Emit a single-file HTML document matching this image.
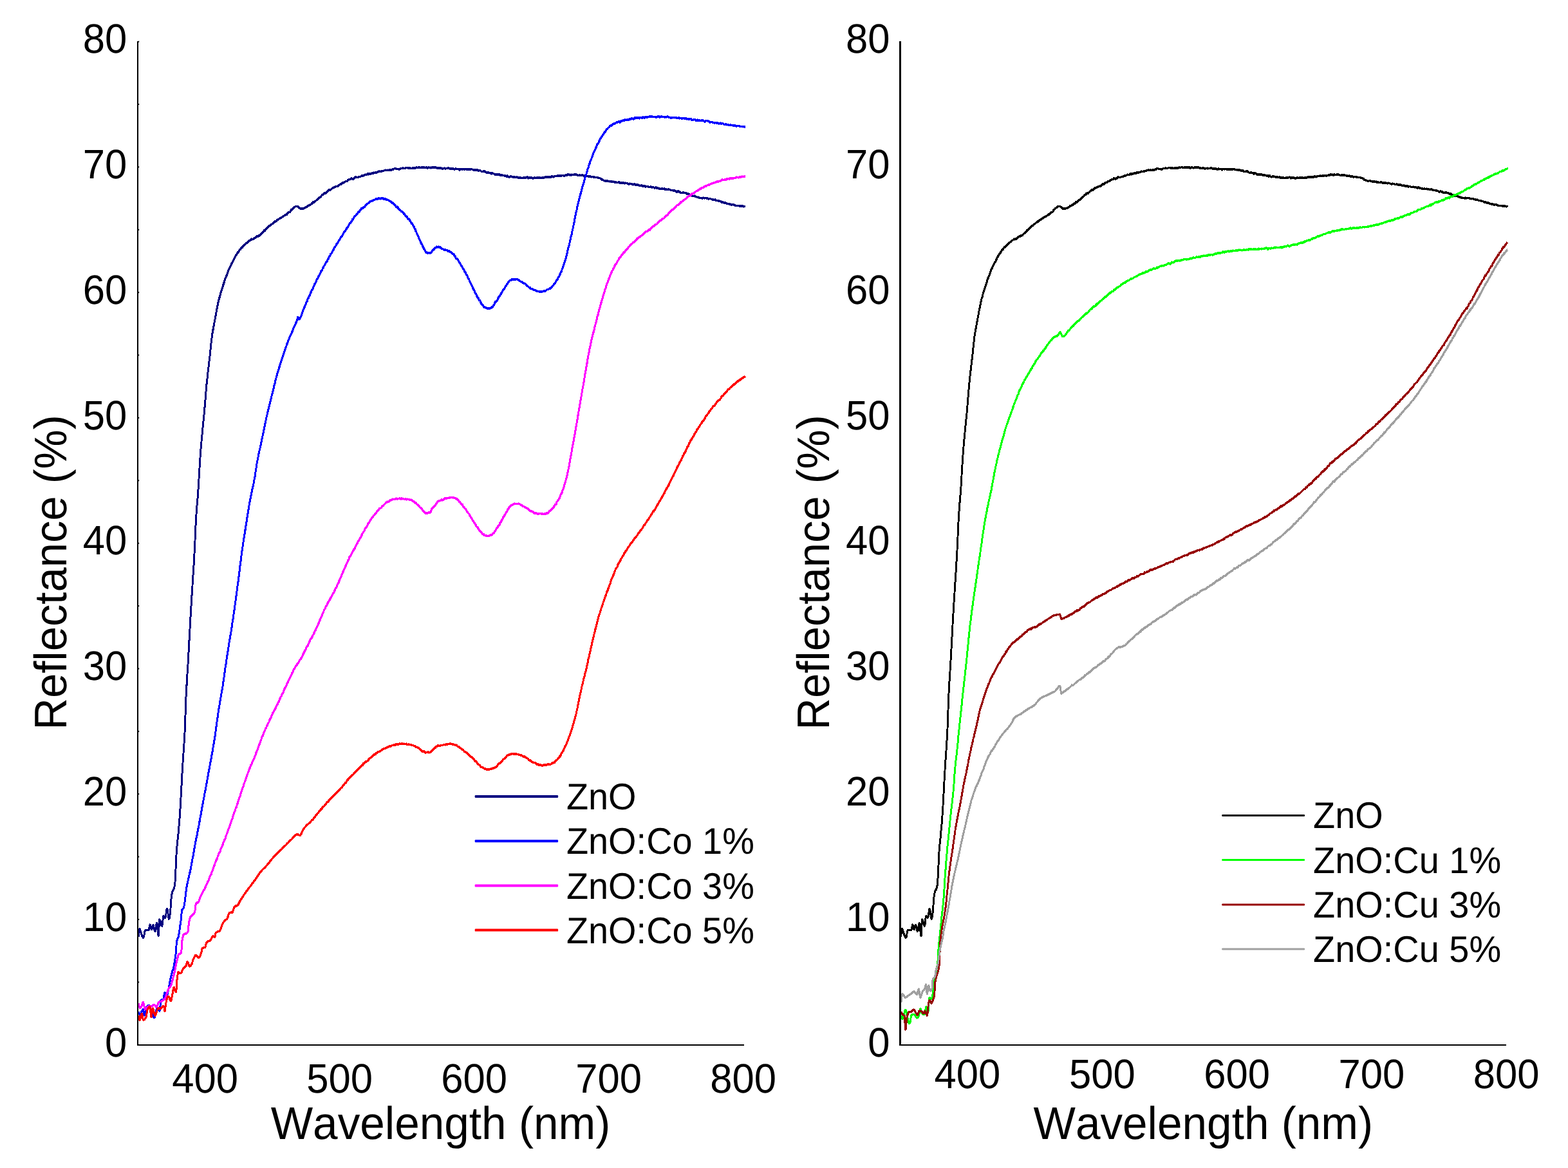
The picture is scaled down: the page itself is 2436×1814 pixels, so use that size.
<!DOCTYPE html>
<html lang="en"><head><meta charset="utf-8"><title>Reflectance spectra of ZnO:Co and ZnO:Cu</title>
<style>html,body{margin:0;padding:0;background:#fff}body{width:2436px;height:1814px;overflow:hidden}svg{display:block}text{font-family:"Liberation Sans",Arial,Helvetica,sans-serif;fill:#000;font-kerning:none;text-rendering:geometricPrecision}</style>
</head><body>
<svg xmlns="http://www.w3.org/2000/svg" width="2436" height="1814" viewBox="0 0 2436 1814">
<rect width="2436" height="1814" fill="#fff"/>
<defs>
<path id="zno" d="M215.0,1454.5l.1-1 .1-1.1 .1-1.1 .1-.7 .1-1.3 .1-.7 .1-1.1 .1-1 .2-1 .1-.7 .3-1.4 .4-.8 .6,.8 .3,1.1 .3,.8 .3,.9 .3,.9 .4,1 .3,1.1 .4,.8 .3,1.1 .3,1.1 .3,.8 .4,1 .4,.7 .5,.9 .7,.6 .6-.7 .3-.8 .2-1.1 .2-1 .2-1 .1-1.1 .2-.9 .2-.9 .2-1.1 .2-.9 .2-.7 .4-1 .8-.5 1-.1 1-.1 1,.4 1-.1 .8-.6 .3-.9 .2-.6 .2-1.2 .1-1 .2-1 .2-1.1 .2-1.1 .4-.9 .6,.8 .2,1.1 .2,1.1 .3,1 .2,.9 .2,1 .3,.7 .5,.8 .4-.8 .3-1.2 .2-.9 .2-1 .2-.8 .2-.9 .3-.8 .7-.7 .4,.7 .2,1.1 .3,1.1 .2,1.1 .2,.9 .2,.7 .2,1 .3,1.3 .3,.9 .4,.9 .5-.5 .3-1 .2-.9 .1-1 .2-1 .1-1 .2-1.1 .1-.9 .2-1 .1-.8 .2-.9 .2-1.2 .3-1 .5,.1 .2,1.1 .1,1.1 .1,.9 .1,1 .1,.9 .1,1.2 .1,.9 .1,1.1 .1,1 .1,1 .1,.8 .1,1 .1,1.2 .1,.8 .1,1 .1,1 .1,.9 .1,1.1 .2,1.1 .4-.1 .1-.9 .1-1.1 0-1 .1-1.1 0-.7 .1-1 0-1.1 0-1.1 .1-.7 0-.8 .1-1.5 0-.8 0-.8 .1-1.1 0-1.3 0-.8 .1-1 0-1.2 .1-1.1 0-.8 .1-.8 0-1.2 .1-.9 0-1.2 .3-.8 .6,.7 .3,.8 .3,1 .3,1.1 .3,1 .2,.9 .3,.9 .3,.9 .3,1.1 .4,.9 .6,.7 .3-1.1 .2-1.3 .1-.6 .2-.7 .1-1.1 .1-1.2 .1-1 .1-1 .1-1 .1-1.1 .1-1 .1-1 .1-.9 .2-1 .1-.9 .7-.5 .6,.9 .6,.8 .6,1 .8-.6 .2-1 .2-.7 .2-.7 .1-1.3 .2-1.1 .1-1 .1-.8 .2-1.1 .1-1 .1-1 .2-1.2 .2-.8 .2-.9 .4-.7 .4,.6 .2,.8 .2,1.1 .2,1.1 .1,.9 .2,1 .1,1.1 .1,1 .2,1.1 .1,1 .1,.9 .2,.6 .1,1.2 .2,1.1 .2,1 .3,1 .5-.4 .3-.9 .2-1.1 .2-.7 .1-1.3 .1-1.2 .2-1 .1-.9 .1-1 .1-.6 .1-1.1 .1-1.3 .1-.7 .1-1.1 .1-1.2 .1-.7 .1-.9 0-1.2 .1-.8 .1-1.1 0-.8 .1-1.1 0-.9 .1-1.1 0-1.3 .1-.6 0-1.2 .1-1.1 .1-1 .1-1 .1-.9 .1-1 .1-.9 .1-.8 .1-1.2 .1-1.3 .2-1 .1-.9 .2-1.1 .2-.7 .2-1 .3-1.1 .3-.9 .4-1.1 .4-.9 .4-.6 .5-.8 .4-1.1 .4-.7 .3-1.2 .2-1 .2-.9 .2-1.4 .2-.5 .1-.9 .1-1.3 .1-.6 .1-1 .1-1.1 0-1.2 .1-1 0-1.1 .1-.8 0-1 .1-1 .1-.9 0-1 .1-1.1 0-1 0-1.1 .1-.8 0-.9 .1-1 0-1.1 .1-1.2 0-1.1 .1-1.1 0-.6 .1-1.1 0-.8 .1-1.2 0-1.1 .1-.9 0-.9 .1-1 0-1.1 .1-1 0-1 .1-1.1 0-1 .1-.9 0-1 0-.9 .1-1.2 0-.9 .1-1 0-1 .1-.9 0-1.2 0-.9 .1-.7 0-1.4 .1-1.1 0-1 .1-.9 .1-.7 0-1.1 .1-1.2 .1-.8 0-1.1 .1-.8 .1-1 .1-.9 .1-1.3 .1-.5 .1-1.1 .1-1.2 .1-1.1 .1-1.2 .1-1.1 .1-.8 .1-1.1 .1-.8 .1-1.2 .1-.7 .1-.8 .2-1.3 .1-.8 .1-1.1 .1-.8 .1-1 .1-.9 .1-1.5 .1-1 .1-.5 .1-1.3 0-1.7 .1-1.1 .1-1.2 .1-.9 .1-.5 .1-.3 .1-1.3 .1-1 0-1 .1-1 .1-1 .1-1.1 .1-.8 .1-1.4 0-.5 .1-.7 .1-1.4 .1-.8 .1-1.4 0-1.1 .1-.8 .1-1 .1-1.1 0-1.2 .1-.9 .1-.5 0-1.8 .1-.6 .1-.9 0-.7 .1-.9 .1-2.3 0-.3 .1-.5 .1-1.2 0-1.2 .1-.6 .1-1.2 0-.4 .1-1.1 0-.6 .1-1.9 .1-1.8 0-.2 .1-.6 0-1.3 .1-1.7 0-.8 .1-.4 0-1.2 .1-1.1 .1-1 0-1.3 .1-1 0-1.2 .1,.1 0-1.4 .1-1 0-1.4 .1-.5 0-1.8 .1-.3 0-.9 .1-.4 0-1.9 .1-1.1 0-.6 .1-.6 .1-1.5 0-1.1 .1-1.8 0-.8 .1-.3 0-.6 .1-1.4 0-.3 .1-.7 0-1.8 .1-2.2 0-1.1 .1-.5 0-.2 .1-.9 0-2.1 .1-.7 .1,0 0-1.4 .1-1.5 0,0 .1-1.3 0-1.5 .1-.8 .1-1 0-1.2 .1-.4 0-.8 .1-1.1 0-1.4 .1-.7 .1-1.3 0-1 .1-.6 0-1 .1-.7 .1-1.3 0-2.1 .1-1.1 .1,0 0-1.2 .1-1 .1-1.4 0-.5 .1-1.2 .1-.5 0-1.5 .1-.6 .1-.9 0-1.7 .1-.5 .1-1.4 0-1.3 .1-.4 .1-1.3 0-1.2 .1-.9 .1-1.2 0-.3 .1-.9 .1-1.3 0-1.1 .1-.8 .1-.4 0-1.1 .1-1.7 .1-.7 0-1.2 .1-1.1 .1-.3 0-1.5 .1-1.4 .1-1.6 0-1 .1-.2 .1-1.1 0-.7 .1-1.5 0-1.1 .1-.4 .1-.4 0-1.2 .1-1 0-.7 .1-1.1 0-1.9 .1-1 0-.6 .1-1.3 0-.8 .1-1.6 0-1.1 .1-.3 0-1.9 0-1 .1-.4 0-1.5 0-.6 .1-1 0-.9 .1-.9 0-.9 0-1.2 .1-.9 0-1.1 0-.7 .1-.3 0-1.4 0-1.3 .1-1.5 0-.5 0-1.3 0-1.2 .1-.5 0-.9 0-.7 .1-.7 0-1.8 0-1 .1-.3 0-1 0-1.2 .1-.9 0-1.6 0-.8 .1-.5 0-.8 0-1.9 .1-1.2 0-.7 0-1.1 .1-1.2 0-.6 .1-1.2 0-1.7 0-.4 .1-1 0-1.2 .1-1.4 0-.1 0-1.9 .1-1.3 0-.4 .1-.1 0-.8 .1-1.9 0-1 .1-1.4 0-.2 .1-1.6 0-.9 .1-.3 0-1.3 .1-.5 0-1.6 .1-1 0-.6 .1-1.3 0-.5 .1-1.1 0-2 .1,.8 .1-1.3 0-1.8 .1-1.7 0-.6 .1-1 .1-.7 0-.9 .1-.5 0-1.4 .1-1.1 .1-1 0-1.2 .1-1.1 0-.5 .1-.9 .1-1.6 0-1.4 .1-.7 .1-.4 0-1.2 .1-.5 0-1.7 .1-1.1 .1-1.8 0-.7 .1-.6 .1-.6 0-.4 .1-1.5 0-.7 .1-1.1 .1-1 0-1.5 .1-.5 0-1.7 .1-.8 .1-1.3 0-1 .1-1.3 0-.8 .1-.5 0-1 .1-1.6 .1-.1 0-1 .1-.9 0-1 .1-1.6 0-1.7 .1-.8 0,0 .1-1.6 0-.6 .1-1.2 .1-.9 0-1.7 .1-.2 0-1 .1-.8 0-1.1 .1-.9 0-1.2 .1-.9 0-1.7 .1-1.2 0-.2 .1-1 0-1.2 .1-1 .1-.8 0-1.3 .1-.7 0-1.4 .1-1 0-.4 .1-.7 0-1.9 .1-.6 0-1.4 .1-.6 0-1.7 .1-1.1 .1-.7 0-.7 .1-.4 0-.9 .1-.8 0-1.1 .1-1.6 0-1.2 .1-.5 0-1.2 .1-1.2 0-1.5 .1-.7 .1-1.9 0-.5 .1-.8 0-.5 .1-1.1 0-1.2 .1-.3 0-1.7 .1-.8 .1-1.6 0-.6 .1-.6 0-.8 .1-1.6 0-.8 .1-.8 .1-1.1 0-1 .1-.9 0-.9 .1-1.6 .1-1.3 0,.4 .1-.6 0-2.4 .1-.8 0-.6 .1-.9 .1-1.3 0-1.5 .1-.9 .1-.9 0-.9 .1-1 0-1 .1-.6 .1-.7 0-1.9 .1-1.1 .1-1 0-.3 .1-1.1 0-.7 .1-1.5 .1-1.1 0-1.4 .1-.2 .1-1.2 0-1.7 .1-.9 .1-1.5 0-.4 .1-.6 .1-.9 0-.5 .1-1.5 0-.8 .1-1 .1-1.3 0-1.8 .1-.1 .1-1.1 0-1 .1-1.5 .1-.6 0-.8 .1-1 .1-1.1 0-.6 .1-.8 0-1.1 .1-.1 .1-2 0-1.6 .1-1.2 .1-.5 0-1.2 .1-2 .1-.7 0-.3 .1-.4 0-1.9 .1-1 .1-.7 0-1.1 .1-.6 .1-1 0-1 .1-1.3 0-.3 .1-1.3 .1-.7 0-1.5 .1-.9 0-1.3 .1-1.3 .1-.9 0-.7 .1-1 0-.3 .1-1.8 .1-1.4 0,.1 .1-1 0-2.1 .1-.5 0-.7 .1-2 0-.7 .1-.5 0-.7 .1-.8 0-1.3 .1-.8 0-1.3 .1-1.4 0-1.2 .1-.4 0-1.7 .1-.4 0-1.3 .1-1 0-.5 .1-.6 0-2.1 .1-1.1 0-.5 .1-1.1 0-.5 0-1.9 .1-.6 0-.5 .1-1.2 0-.6 .1-1.7 0-.5 0-1.3 .1-.8 0-1.2 .1-.7 0-.8 .1-1.9 0-.8 0-.8 .1-1 0-1.3 .1-.1 0-1.2 .1-.7 0-1.6 0-1.5 .1-.7 0-1 .1,0 0-1.3 .1-1 0-1.4 .1-1.3 0-.9 .1-.8 0-.7 .1-1.3 0-1.4 .1-1.2 .1-.7 0-.6 .1-.9 0-1.2 .1-1.3 .1-.8 0-.8 .1-1.1 .1-1.1 0-1 .1-.7 .1-1.3 0-1 .1-.8 .1-.8 .1-.7 0-1.2 .1-1.1 .1-1.8 .1-.6 .1,0 0-1.9 .1-1.6 .1-.7 .1-.4 .1-1 .1-1.4 0-1 .1-.5 .1-1 .1-.4 .1-1.2 .1-1.5 0-1 .1-1.3 .1-1.4 .1-.7 .1-.7 0-1.7 .1-.9 .1-.8 .1-.7 0-1.1 .1-.9 .1-1 .1-.7 0-1.9 .1-.1 .1-.5 0-1.6 .1-1 0-.9 .1-1.5 .1-.9 0-.6 .1-1.1 .1-.8 0-1.2 .1-1.2 0-1.3 .1-1 0-1 .1-.2 .1-1.2 0-1.7 .1-.6 0-1 .1-2.2 0-.1 .1-1.2 0-.6 .1-1.2 .1-1.4 0-.4 .1-1.4 0-.9 .1-.6 .1-.7 0-.9 .1-1.3 0-1.4 .1-.1 .1-1.5 0-.5 .1-1.5 0-.7 .1-.8 .1-1.8 0-.8 .1-.6 .1-1 0-1.3 .1-1 .1-1.2 0-1.4 .1-.3 .1-1.2 .1-.5 0-1 .1-1.7 .1-1 0-.9 .1-1.2 .1-.6 .1-1.2 .1-.3 0-.9 .1-1.8 .1-1 .1-.9 .1-1.6 0-.2 .1-.6 .1-1 .1-1.5 .1-.7 .1-1.2 .1-.8 0-.4 .1-1.5 .1-1.9 .1-.8 .1-.5 .1-.6 .1-1.8 .1-1 .1-.7 .1-.9 .1-.7 .1-1.7 .1-1.1 .1-.3 0-1 .1-1.1 .1-.7 .1-1.3 .1-1 .1-1.3 .1-1.5 .1-1.1 .1-.5 .1-.9 .1-1.2 .1-.7 .1-1.3 .1-.8 .1-.9 .1-1.3 .1-1.7 .1,.2 .1-.8 .1-2.3 .1-.6 .1-.4 .1-1.1 .1-.7 .1-1.5 .1-.8 .1-.9 .1-1.1 .1-1 .1-.9 .1-.6 .1-1.4 .1-1.2 .1-.8 .1-1 .1-.8 .1-.8 0-.7 .1-1.5 .1-2.1 .1-.5 .1-.4 .1-1.2 0-1 .1-1.9 .1-.2 .1-.9 .1-1.6 0-.9 .1-.9 .1-.4 .1-.8 0-.6 .1-1.2 .1-1.9 .1-1.4 .1,0 0-.4 .1-1.6 .1-1 .1-1.7 0-1.5 .1-.8 .1-.5 .1-.9 .1-.9 0-1.1 .1-.6 .1-.5 .1-1.4 .1-.5 .1-1.7 .1-1.4 .1-.6 0-1.1 .1-.5 .1-1.5 .1-.5 .1-1.1 .1-.3 .1-1.8 .1-1.4 .1-.8 .1-1.8 .2-.3 .1-.6 .1-1.1 .1-1.7 .1-1.3 .1-.2 .1-.4 .1-.7 .1-1.9 .2-1.5 .1-.7 .1-1.5 .1-.8 .1-.2 .1-.4 .2-1.4 .1-.7 .1-1.2 .1-1.3 .1-1.2 .1-.9 .2-1.1 .1-1 .1-1.2 .1-.7 .1-1 .1-1.6 .2-.7 .1-1.1 .1-1.5 .1-.2 .1-.2 .1-.5 .1-1.2 .1-2 .1-.6 .2-.7 .1-2.2 .1-.4 .1-.6 .1-1.3 .1-1 .1-1 .1-.5 .1-1.5 .1-1.2 .1-.9 .1-.9 .1-1.7 .1-.1 .1-.9 .1-1.1 .1-1.1 .1-1.2 .1-1.1 .1-.9 .1-.8 .1-.6 .2-1.2 .1-1.3 .1-.2 .1-1.9 .1-1.6 .1-.3 .2-1 .1-1.7 .1-.6 .2-.9 .1-.4 .1-1.3 .2-.7 .1-.9 .2-1.3 .2-1 .1-.8 .2-2 .2-.4 .1-.8 .2-.3 .2-1.6 .2-.7 .2-2 .1-.3 .2-.7 .2-1.2 .2-1.1 .2-1 .2-.7 .2-1.1 .2-1.7 .1-.6 .2,.2 .2-1.4 .2-1.3 .2-1.2 .2-.9 .1-.8 .2-1.2 .2-.6 .2-1.5 .2-1 .1-.6 .2-1.1 .2-1.5 .2-.5 .2-1.2 .1-1.1 .2-1 .2-.8 .2-1 .2-1 .2-.6 .1-.3 .2-1.6 .2-1 .2-1.2 .2-1 .3-.5 .2-1.2 .2-1.5 .2-1 .2-1 .3-.7 .2-.5 .2-1.7 .3-1.2 .2-.9 .3-1.2 .2,0 .3-.9 .2-.5 .3-1.9 .3-.5 .2-1.2 .3-1.2 .3-1.2 .3-1 .3-1.1 .2-.4 .3-1.3 .3-.8 .3-.7 .3-.6 .3-1.1 .3-1 .3-.8 .3-1.1 .3-.9 .3-1.4 .3-1.1 .3,.1 .3-1.3 .3-1.5 .4-.3 .3-1.1 .3-1.4 .3-1.4 .3-.2 .4-1.3 .3-1 .3-.4 .4-.9 .3-1.2 .4-1 .3-.4 .4-.3 .3-1.8 .4-1 .3-.2 .4-1.1 .4-1.7 .3-1.1 .4-1 .4-1 .4-.9 .4-.5 .4-1.1 .4-.5 .4-1 .4-1.2 .4-.5 .4-.9 .4-1 .5-.7 .4-.9 .4-1.2 .5-.6 .4-1 .5,0 .4-1.1 .5-1.2 .4-.8 .5-1.3 .5-.6 .5-1.2 .5-1.4 .5-.9 .5-.4 .5-1.5 .5-.5 .5-.9 .5-.5 .6-1.1 .5-.1 .6-.8 .5-1.8 .6,0 .6-1 .6-1.3 .6-1 .6-.2 .7-.2 .6-1.4 .6-1.2 .7-.9 .7,.2 .7-.2 .6-1.4 .7-.7 .8-.8 .7-.8 .7-.3 .7-.7 .8-.8 .8-.9 .7-.3 .8-.9 .8-.6 .8-.5 .8-1.1 .8-.5 .8-.4 .8-.4 .9-.9 .9-.8 .8,.6 .9-.2 .9-.6 .9-.1 .9-.9 .9-.8 .9-.3 .9-1.2 .9-.6 .9,.4 .9-.4 .8-1.1 .9,0 .8-.1 .8-.7 .7-.9 .8-1.1 .7-.4 .7-.4 .7-1 .7-.4 .8-.7 .7-.7 .7-1.6 .7,.1 .7,.1 .7-1.4 .7-1.5 .7-.1 .7-.7 .8-1.1 .7,.1 .7-1.3 .7-.3 .8-1.1 .7,0 .8-.5 .7-1.1 .8-.6 .8-.4 .8-.4 .8-.6 .8-.7 .8-1 .8-.4 .8-1.1 .8,0 .9-.2 .8-.4 .8-1.3 .9-.6 .8-.1 .8-.7 .9-.9 .8-.4 .8-.5 .9-.2 .8-1 .9-.4 .9-.4 .8-.3 .9-.8 .8-.5 .9-.6 .8-.5 .9-.6 .8-.6 .8,.5 .8-1.4 .8-1.4 .8-.5 .7-.6 .8-.3 .7,0 .8-.3 .7-1.2 .8-1.8 .7-.1 .7-.8 .7-.7 .6-.8 .7-.4 .8-.8 .7-.5 .8-.5 .9-.7 .9-.3 1-.1 1,0 .9,.6 .8,.5 .7,.7 .8,.7 .8,.8 .8,.4 .9,.2 1,.1 1-.4 1,.2 1-.5 .9-.2 1-.5 .9-.3 .9-.5 .8-.4 .9-.8 .9-1.2 .8,.3 .9-.5 .8-.7 .9-.6 .8,.5 .8-1.1 .8-.7 .8-1 .8,.2 .8-.9 .8-1.8 .8,1.1 .8-1.2 .8-.3 .8-.4 .8-.8 .8-.9 .7-.7 .8-.1 .8-1.1 .7-.7 .8-.3 .8-.8 .7-1 .8,0 .7-.8 .8-1 .7-1 .8-.8 .8,0 .7-.3 .8-1.8 .8-.6 .7,.3 .8,.2 .8-.4 .9-1.1 .8-.6 .8-1.2 .9-.4 .8-1 .9-.6 .9-.1 .8,.4 .9-.7 .9-.9 .9-.8 .8-.9 .9,0 .9-.5 .9-.4 .9-.8 .9-.2 .9-.9 .8,0 .9,.2 .9-.5 .9-.1 .9-.9 .9-.7 .9-.5 .8-1 .9,.5 .9-.4 .9-1.2 .9-.9 .8,0 .9-.1 .9-.7 .9-.6 .9-.6 .9-.4 .9,.1 .9-.2 .9-1.5 .9-.2 .9-.7 1-.6 .9,.4 .9-.6 1-1.5 .9,.7 .9,.6 1,.1 .9-1.2 1,0 .9-1.5 1-.4 1,.6 .9,0 1,0 .9-.3 1-.7 1,.2 .9-.4 1,0 1-1 .9-.3 1-.3 1,.1 .9-.5 1-.4 1-.7 .9,.2 1,.3 1-.1 .9-1.8 1-.4 1,1.4 .9-.5 1-.6 1,.2 .9-.3 1-.8 1-.2 1,.7 .9-1.2 1,.3 1-.4 1-.5 .9,.7 1-.9 1,0 1-.4 1-.8 .9,.1 1,.5 1-.4 1-.2 1-.2 1-.2 .9-.4 1,0 1-.9 1,.1 1-.4 1,.4 1,.2 1-.6 1,.3 .9,0 1-.3 1-.4 1,.1 1,.2 1-.7 1-.5 1,.6 1-1.1 1-.8 1,.1 .9,.8 1,.2 1,0 1-.2 1,.4 1,.1 1-.2 1-1.1 1,.1 1-.3 1-.1 1-.2 1,.2 1,.3 1-.1 1-.7 1-.4 1,.2 1,.1 1,.5 1-.2 1-.2 1,0 1,.5 1,.3 1-.4 1-.5 1,.5 1-.1 1-.6 1,.4 1-.1 1-.8 1,.5 1,.2 1-.9 1-.5 1,.8 1,.5 1,.1 1-.8 1,0 1,.6 1-.7 1,.2 1,.3 1,.3 1-1.2 1,.5 1,1.1 1-.7 1-.3 1,.6 1-.4 1,.5 1,.1 1-.9 1,.4 1-.3 1,.7 1-.6 .9-.4 1,.3 1,.3 1,1 1-.1 1-.1 1,.5 1-.5 1-.2 1,0 1,.6 1,.7 1-.3 1-.5 1,0 1-.2 1,.7 1-.3 1,0 1-.1 1-.4 1-.3 1,.6 1,.7 1,0 1,0 1-.3 1,0 1,0 1,.5 1,.9 1-.5 1-.8 1,.9 1-.4 1,.2 1-.1 1,.1 1,1.4 1-1.1 1-.6 1,.4 1,.1 1-.2 1-.2 1,.5 1,.4 1-.6 1-.4 1,1.1 1-.7 1,.3 1,.3 1-.6 1,.5 1-.3 1-.3 1,0 1,.9 1-.1 1,.5 1-.4 1,.4 .9,.6 1-.3 1-.5 1,.3 1,.9 1,.3 1-.4 .9-.5 1,1 1,.9 1,.4 .9-.2 1-.2 1-.2 1,.3 .9-.2 1,1.5 1,.1 .9,.8 1-.3 1-.8 1,1.3 .9-.2 1-.1 1,1.1 1,.5 .9-1.2 1,.4 1,.1 1,.6 1,1 1-.5 .9,.6 1-.5 1,1 1-.4 1-.2 .9,.5 1-.3 1,1 1-.3 1,.4 1-.3 .9,.4 1,.4 1,0 1,.5 1-.3 1,.9 .9,.1 1-1.2 1,1.5 1,.4 1,.3 1-.4 1-.9 1,.5 1,.1 .9,.5 1,.1 1,.3 1-.5 1,.5 1,.1 1,.5 1-.7 1,.2 1,1 1-.7 1,.3 1,.6 1-.4 1,.2 1,.2 1,.3 1-.7 1-.2 1,.4 1-.4 1,.1 1-.2 1-.7 1,.8 1,1 1-.6 1-.2 1-.1 1-.2 1,.3 1,.6 1,.6 1-.4 1-.9 1-.5 1,1 1,.1 1-.5 1-.3 1,0 1,.8 1-.1 1-.8 1,.7 1,.1 1-.4 1,.2 1-.4 1,.4 1-.7 1-.3 1-.2 1,.2 1-.1 .9,0 1,0 1,.2 1-.3 1-.1 1,.3 1-.6 1-.9 1,.5 .9,.6 1-.6 1-.2 1-.6 1-.1 1,.2 1-.1 1-.5 1,.5 1-.3 1-.1 1-.1 .9-.1 1,0 1-.5 1,.1 1,.6 1,.1 1-.6 1,0 1-1 1,.5 1-.2 1-1 1,.4 1,.6 1-.6 1,.7 1,.2 1-1.1 1,.5 1,0 1-.3 1,0 1,.1 1-.3 1,.3 1,.6 1,.6 1,.2 1-.7 .9,0 1-.1 1,.7 1-.6 1-.2 1,.5 1,.6 1,0 1,.2 1,.2 1,.2 1-.4 1,.2 .9,.6 1,.1 1,.4 1-.5 1,.4 1,.6 1-.4 1,0 1,.2 1,.2 1,.1 1,.6 1-.1 .9,.2 1,0 .9-.3 1,.6 .9,.3 .9,0 .9,.3 .9,.6 .9,.4 .9,1.3 .8,.7 .9-.4 .9,.5 .9,.7 1-.1 .9,.8 1,.2 .9-.3 1-.6 1,.3 .9,.8 1,.1 1,.2 1-.1 1,.4 1,0 1-.4 1,.5 1,.2 .9-.3 1,1.1 1,0 1-.2 1,.4 1,0 1,.3 1-.7 1-.1 1,.8 1,.7 1-.3 1,0 1-.3 1,.3 1,0 1,.2 1,.5 .9-.7 1,.5 1,.1 1,0 1,.9 1,.1 1,.3 1-.8 1,.2 1,.3 .9,.1 1,.5 1,.5 1-.5 1-.2 1,.1 1,1 1-.1 1,.1 .9,.1 1-.2 1,.6 1,.4 1,.3 1-.2 1-.1 1,.1 1,.9 1,.3 .9-.4 1,.3 1-.2 1,.9 1-.4 1-.2 1,.2 1,.9 .9-.1 1,.3 1-.2 1-.4 1,.7 1,0 1-.4 1,.4 1,.7 .9,.8 1-.9 1-.7 1,1.3 1,.4 1-.3 1,.4 1,.4 .9,.7 1-.4 1,.3 1-.3 1-.1 1,.5 1-.3 1-.2 .9,1 1-.6 1,.5 1,.3 1,.1 1-.2 1-.3 1,.6 .9,.2 1,.4 1,.4 1,0 1-.1 1,.6 1,0 .9,0 1,.4 1,.5 1,1 1,.3 1-1 .9-.4 1,.8 1,.6 1,0 1,1 .9,.2 1,.2 1-.5 .9-.3 1,.1 1,.6 1,0 .9,.3 1,.5 .9,.8 1,0 .9-.3 1,.6 .9,.7 1,.6 .9-.2 .9,.7 1,.9 .9,.1 1,.1 .9,0 1,.2 .9-.3 1,1.1 .9,.3 1,.3 .9,.5 1-.2 1,.7 1,.1 .9,.6 1-.1 1,0 1-.1 1,.8 1-1 1,.1 1,.5 1-.3 1,.2 1-.3 .9,.8 1-.1 1,.5 1,.2 1-.2 1-.3 1,.4 1,.6 1,.2 1,.4 .9-.3 1,.9 1-.1 1-.3 .9,1 1,.6 1-.3 .9-.1 1,.7 .9-.1 1,.7 .9-.3 1,.4 .9,.6 1,.8 .9-.6 1,.6 .9,.5 1,.3 .9-.1 1,0 1,.5 .9,.5 1,.9 1,0 .9,0 1,.5 1-.6 1,.7 .9,.7 1,.2 1-.3 1-.4 1,.2 1,.6 .9,.5 1,.5 1,.4 1,0 1-.3 1,.1 1,0 1,.5 1,.2 .9-.1 1-.4 1,.6 1-.3 1,.5 1,.3 1-.4 1,.2 .2,.1"/>
<path id="blue" d="M215.0,1572.0l.4,.9 .4,.6 .5,1.3 .7,.4 .9-.4 .6-.6 .5-1 .4-1 .4-.9 .4-.7 .5-.5 .5-1.1 .7-1 .6,.7 .2,1 .2,1 .1,1.1 .2,.8 .1,1 .1,.9 .2,1.1 .2,1 .6,.3 .3-.9 .3-1 .2-1 .2-1.1 .2-1 .2-.8 .2-1 .2-.6 .2-1.5 .2-.9 .3-.8 .3-.7 .5-1 .6-1 .5-.8 .7-.7 .8-.6 .9,0 .7,.4 .6,1.1 .4,1.1 .4,.7 .4,.9 .3,.9 .4,.8 .3,1 .3,1.2 .4,.8 .3,.8 .4,1 .4,1 .4,1.1 .3,.7 .3,1 .3,1 .4,.6 .3,1 .4,1.1 .5,.8 .8,0 .4-1.2 .2-.8 .3-1 .2-1.1 .1-.8 .2-.8 .2-1.2 .2-.8 .2-1.1 .2-1 .2-1.1 .2-.7 .3-1.3 .7-.6 .9,.7 .8,.3 .7,.7 .8,.8 .9,.5 .4-.7 .2-1.2 .1-1.2 .1-.7 0-.8 .1-1.3 .1-1 .1-.9 .1-1 0-1 .1-.9 .1-1.3 .1-.8 .1-.9 .1-1.2 .1-.8 .6-1.1 1,0 .9,0 1-.5 .6-.5 .3-1 .2-.6 .1-1 .1-1.2 .2-1.2 .1-1.1 .2-.9 .1-1 .2-1.1 .2-.9 .6-.2 .3,.9 .2,1 .3,.9 .2,1.4 .2,.7 .2,.8 .4,1.1 .7-.3 .5-.8 .3-.9 .3-.8 .2-1 .3-1.3 .2-.8 .2-1.2 .2-.9 .2-1 .3-1 .2-.8 .2-1 .2-.9 .2-1.2 .2-.8 .2-.9 .2-1.1 .1-1.2 .2-.9 .2-1.1 .1-1.1 .2-.3 .2-1 .1-1 .2-1.3 .2-.9 .2-.9 .2-1 .2-1.1 .2-1 .3-1.3 .2-.7 .2-.8 .3-.9 .2-1.1 .3-.8 .2-1.1 .3-1.2 .3-.8 .2-1 .3-1.1 .3-.8 .4-.8 .3-1 .3-1 .2-.4 .3-1.2 .2-1.1 .3-1.4 .1-.9 .2-.8 .2-1.1 .2-1.1 .1-.8 .2-1 .1-1.1 .2-.8 .1-.9 .2-1.1 .1-1.1 .2-.9 .1-.9 .2-1 .1-1.3 .2-.9 .1-.9 .1-.9 .2-.9 .1-1 .1-1.3 .1-1 .1-1.1 .1-.6 .1-1 0-1.1 .1-.9 .1-1.1 0-1.2 .1-1 0-.9 .1-.8 0-.9 .1-1.3 .1-.9 0-.9 .1-1.2 .2-1 .1-1.2 .3-.7 .2-1 .3-1.1 .4-.9 .4-.8 .4-.9 .3-.9 .2-.9 .3-1.1 .2-1 .1-.7 .2-1.1 .2-1.2 .1-.9 .2-1.2 .1-.7 .2-.9 .1-1 .2-.9 .1-1.1 .2-1 .1-1 .1-1.2 .2-1.1 .1-.9 .2-1.2 .1-.5 .2-1.3 .1-.9 .2-1.1 .1-1.2 .1-.7 .2-.9 .1-1 .1-.9 .1-1.1 .1-.9 .1-1 .1-1.1 .1-1 0-.9 .1-1 .1-1 .1-1.3 .1-.9 0-.8 .1-1 .1-1 .2-.7 .3-1.1 .5-.9 .7-.9 .8-.8 .5-.8 .3-1 .2-.8 .2-1.1 .2-.9 .2-1.1 .1-1.1 .2-.9 .2-1 .1-.9 .2-1 .1-.9 .1-.8 .2-.9 .1-1 .1-1.2 .1-.8 .1-1.3 .2-1.2 .1-.8 .1-.9 .1-1 .1-1 .1-1.2 .1-1 .1-.6 .1-.9 .1-1.3 .2-.7 .1-1.2 .1-1.1 .2-.9 .1-1.1 .2-1 .2-.9 .2-1 .2-.8 .2-1 .2-1.2 .2-1 .2-.8 .3-1 .2-1.1 .2-.8 .3-.9 .2-1.1 .2-.9 .2-1.3 .2-1.1 .3-.6 .2-1.1 .2-1.1 .2-.9 .2-1 .2-.8 .3-1.3 .2-.9 .2,.1 .2-1.4 .2-1.9 .2-.5 .2-.7 .2-.7 .2-1.2 .2-1.5 .2-.4 .2-.9 .1-1.9 .2-.5 .2-.9 .2-.7 .2-1.3 .1-.8 .2-1 .2-.9 .2-1.2 .2-1.2 .2-.9 .1-.7 .2-.9 .2-.6 .2-1.2 .1-1.1 .2-.4 .2-1.5 .2-1.2 .1-1.3 .2-1 .2-.2 .2-1.3 .1-.7 .2-1.8 .2-1.5 .2-.4 .1-1.3 .2,.3 .2-.9 .2-2.2 .2-1 .2-.9 .1-.7 .2-1 .2-.7 .2-.6 .2-1.5 .2-1.7 .2-.4 .2-1 .1-.6 .2-1.3 .2-.8 .2-1 .2-1.3 .2-1.1 .2-.6 .2-.1 .2-1.3 .2-1.7 .2-.8 .2-1 .2-1.7 .2-.6 .2-.2 .2-1.5 .2-1.6 .1-.5 .2-.2 .2-1.1 .2-1.1 .2-.5 .2-1 .2-1.4 .2-1.5 .2-1 .2-1 .2-.7 .1-1.5 .2-.3 .2-1.1 .2-1.5 .2-.6 .2-1.9 .1-1 .2-.7 .2-.3 .2-1.3 .2-.5 .1-1.3 .2-1 .2-1.3 .2-.4 .1-1.3 .2-.9 .2-1.2 .2-1.4 .1-.7 .2-.4 .2-1.6 .2-1.5 .1-.6 .2-.4 .2-1.5 .2-1.1 .2-.6 .1-1 .2-.9 .2-.5 .2-1.3 .2-1.2 .1-.7 .2-1.1 .2-1.5 .2-1.1 .2-1.1 .2,.2 .2-1.2 .1-1.1 .2-.8 .2-1.6 .2-.7 .2-1.2 .2-1.7 .2-.5 .2-1.1 .2-.8 .1-.6 .2-.1 .2-1.7 .2-1.4 .2-.7 .2-.9 .2-1.2 .1-1.4 .2-1.1 .2-.6 .2-1.3 .2-.9 .2-1.1 .1-.2 .2-1.6 .2-.1 .2-1.4 .2-1.6 .1-1.1 .2-.2 .2-.6 .2-1.7 .2-.8 .1-1 .2-1.1 .2-.8 .2-.7 .1-1.9 .2-1.6 .2-.1 .2-.7 .1-.7 .2-1.8 .2-1.1 .2,.1 .1-1.6 .2-.9 .2-1.1 .2-1 .2-1.3 .1-.2 .2-1.7 .2-1.3 .2-.7 .1-.1 .2-1 .2-1 .2-1.2 .2-1 .1-.8 .2-.6 .2-1.3 .2-1.8 .2-.3 .1-1 .2-1.6 .2-.8 .2-1.1 .2,0 .1-1.4 .2-2 .2-.4 .2-1 .2-.4 .1-1.1 .2-1.9 .2-.8 .2-1 .1-.9 .2-.9 .2-1.5 .2-.4 .1-1 .2-1.2 .2-.3 .1-.3 .2-1.8 .2-.4 .1-2.1 .2-.6 .1-1 .2-1 .2-1.3 .1-.9 .2-.9 .1-.9 .2-.7 .1-.1 .2-1.9 .1-1.2 .2-1.6 .1-1.5 .2,.4 .1-1.4 .1-1.2 .2-.6 .1-.6 .1-1 .2-.5 .1-1.5 .1-2 .2-.5 .1-.7 .1-1.3 .2-1 .1-1 .1-.1 .1-1.6 .2-1.6 .1-.5 .1-1.5 .2-.5 .1-.6 .1-1.5 .2-1.1 .1-1 .1-.1 .2-1.1 .1-1.8 .1-1.3 .2-.5 .1-.8 .2-1.3 .1-.7 .2-1 .1-.5 .2-1.1 .1-1.3 .2-1 .1-1.3 .2-.5 .1-.9 .2-1.3 .2-.9 .1-1.2 .2,.1 .2-1.6 .2-1.1 .1-.9 .2-1.5 .2-.8 .1-1 .2-.8 .2-.9 .2-.8 .1-.9 .2-1.5 .2-1.2 .2-1 .1-1.1 .2-1.4 .2-.2 .1-.9 .2-1.1 .2-1.6 .1-1.1 .2-1.4 .2-.2 .1-.3 .2-.9 .2-1.3 .1-1.4 .2-.8 .1-.8 .2-.7 .2-.8 .1-1.4 .2-1.1 .1-.7 .2-.9 .1-1.3 .2-1.9 .1-.7 .2-.2 .1-1 .1-.8 .2-1.3 .1-1.1 .2-.6 .1-.9 .2-1.1 .1-.8 .1-.8 .2-.9 .1-2.2 .1-1 .2-.7 .1-1 .2-1.5 .1-.1 .1-1.4 .2-.9 .1-1.8 .2-.7 .1-.5 .1-1.2 .2-.5 .1-.1 .2-2 .1-1.5 .2,0 .1-1 .2-1.5 .1-1.5 .2-.4 .1-.8 .1-.6 .2-1.7 .1-1.1 .2-.9 .1-1 .2-.5 .2-.9 .1-1.6 .2-1 .1-.9 .2-.6 .1-1.2 .2-1.5 .1-.9 .2-.7 .2-.6 .1-.7 .2-.9 .1-1.4 .2-1.4 .2-.7 .1-1.1 .2-1.3 .1-.7 .2-.8 .2-.8 .1-1.6 .2-1.6 .2-.3 .1-1.2 .2-.4 .1-1.5 .2-1.1 .2-1.4 .1,.3 .2-1.3 .2-1.3 .1-1.1 .2-.9 .1-.6 .2-1 .2-1.2 .1-.5 .2-1.8 .1-.5 .2-.4 .2-2 .1-.9 .2-1.3 .1-1.5 .2-.7 .1-.2 .2-.7 .2-1.4 .1-1.3 .2-1 .1-1 .2-1 .1-1.6 .2-.5 .1-.6 .2-.1 .1-1.1 .2-1.6 .1-1 .2-.9 .1-1.3 .2-1.7 .1-.7 .2-.6 .1-.8 .1-1.2 .2-1.2 .1-.8 .2-.8 .1-.7 .2-1.2 .1-.9 .1-1.4 .2-.5 .1-1.1 .2-1.6 .1-.8 .1-.6 .2-1.4 .1-.5 .1-1.1 .2-.9 .1-1.4 .2-.7 .1-.6 .1-1.4 .2-1.1 .1-1.1 .1-.7 .2-1 .1-.8 .1-1.2 .2-1.5 .1-1.2 .1-.7 .2-.5 .1-.1 .1-1.3 .2-1.7 .1-1.8 .1-.3 .2-.7 .1-1.6 .1-.4 .2-.9 .1-1.3 .1-1.7 .1-.1 .2-.9 .1-1.2 .1-1.4 .2-.8 .1-.3 .1-1 .2-.6 .1-1.1 .1-1.4 .2-.9 .1-1.2 .1-1.7 .2-.9 .1-.5 .1-1.3 .1-1.1 .2-1.2 .1,0 .1-1.6 .2-1.4 .1-.9 .1-.3 .1-.6 .2-1.6 .1-.8 .1-1.4 .1-.9 .2,.2 .1-1.2 .1-1.7 .1-1.6 .2-.8 .1-1.3 .1-1.4 .1-.1 .1-.5 .2-1.2 .1-.7 .1-1.9 .1-.3 .1-1.4 .2-.9 .1-.7 .1-.7 .1-.6 .2-1.4 .1-1.6 .1-1.4 .1-.6 .2-1.1 .1-1.4 .1-.6 .1-.5 .2-1.2 .1-1.5 .1-.6 .2-1.4 .1-1.3 .1,.1 .2-.9 .1-.6 .1-2 .2-.6 .1-1 .2-.1 .1-1.7 .1-1.5 .2-.7 .1-.9 .2-1.3 .1-.6 .2-.8 .1-1 .2-1.1 .1-1.5 .2-1.2 .2-.5 .1-1.3 .2-.3 .1-1.2 .2-1.5 .1-.5 .2-1 .1-.7 .2-1.2 .2-.6 .1-1.5 .2-2.1 .1-1 .2-.9 .1-.2 .2-.1 .2-1.6 .1-1.7 .2-.4 .1-.8 .2-1.3 .1-.8 .2-1 .2-1.5 .1-.5 .2-1.2 .1-1.3 .2-.8 .1-.2 .2-.5 .1-1.2 .2-1.8 .2-1.5 .1-.5 .2-1 .1-.9 .2-1.5 .1-1.1 .2-1 .1-.3 .2-.6 .2-1.6 .1-.8 .2-.7 .1-1.5 .2-.9 .2-.6 .1-1.6 .2-.4 .2-1.1 .1-1.2 .2-1 .2-1.5 .1-.5 .2-.8 .2-1.2 .2-1 .1-.7 .2-1.1 .2-1.2 .2-.9 .2-.6 .2-1.1 .2-1.4 .2-.5 .2-1.2 .1-.8 .2-1.1 .3-1.4 .2-1.3 .2-.8 .2-.7 .2-1.6 .2-.3 .2-.3 .2-1.4 .2-1.5 .2-1.3 .2-.4 .2-.6 .3-1.1 .2-.8 .2-1.4 .2-1 .2-.7 .2-1.1 .2-.8 .2-.8 .2-1.3 .2-1.4 .2-1 .1-.2 .2-1.6 .2-.9 .2-1.1 .2,.1 .1-1.6 .2-1 .2-1.4 .1,.4 .2-2.1 .1-1 .2-1.4 .1-.4 .2-1.5 .2-1 .1-1.3 .2-.7 .1-.6 .2-.3 .1-2.2 .2-.6 .1-.7 .2-1.3 .1-1 .2-.7 .1-1 .2-1.1 .1-1.2 .2-1 .2-.6 .1-1.4 .2-1 .2-.7 .2-.8 .1-.9 .2-1.2 .2-1.8 .2-.2 .2-.4 .2-.9 .2-1.3 .2-.9 .2-1.3 .2-1.5 .2-.8 .2-.8 .2-.5 .3-.9 .2-1.5 .2-1.1 .2-.8 .2-.9 .2-.5 .3-1.4 .2-.6 .2-1.8 .2-1.1 .2,0 .2-1 .3-1.3 .2-.9 .2-1.2 .2-1 .2-.9 .2-.9 .2-.9 .2-1.3 .2-.8 .2-1.3 .2-.6 .2-1.1 .2-.9 .2-.9 .2-1.4 .2-1 .2-.8 .2-.7 .2-.7 .2-1.3 .2-1.4 .2-.7 .2-.9 .2-.8 .2-.6 .3-.7 .2-2.2 .2-1.1 .2-.7 .2-.5 .2-.9 .2-1.3 .2-.8 .2-1.3 .2-1.1 .2-.7 .2-1.4 .2-.2 .3-1.5 .2-1.5 .2-.4 .2-1.6 .2-.8 .2-.6 .3-.4 .2-.1 .2-1.8 .2-2 .3-.6 .2-.5 .2-1.6 .2-.7 .3-.3 .2-1.2 .2-1.6 .3-1.1 .2-1.4 .2-.7 .3-.8 .2-.2 .2-1.8 .3-1.5 .2-.3 .2-.5 .3-1.3 .2-.9 .3-.7 .2-.9 .2-1.1 .3-.9 .2-1.8 .3-.4 .2-.8 .2-1.5 .3-.9 .2-.9 .3-1 .2-.9 .2-1 .3-1.4 .2,.2 .3-1 .2-.6 .2-1.6 .3-.7 .2-1.3 .3-.6 .2-1 .2-1.1 .3-1.3 .2-1 .3-.5 .2-2.1 .3-1 .2-.9 .2-1 .3-.3 .2-.6 .3-1.4 .2-.6 .3-1.5 .2-1.2 .3-.6 .2-.8 .3-1.1 .2-1.4 .3-.5 .3-.3 .2-1.6 .3-1.1 .2-1.3 .3-.8 .3-1.1 .3-.7 .2-.2 .3-1.2 .3-1.6 .3-.6 .2-1.6 .3-.3 .3-.8 .3-1.6 .3-.9 .3-1.1 .3,.1 .3-1 .3-1.8 .3-1.1 .3-.6 .3-1.1 .3-.8 .3-.7 .3-1.7 .3-.4 .4-.2 .3-1.3 .3-1.1 .3-1.3 .3-1.1 .3-.7 .3-1.2 .4-1.5 .3-.1 .3-1.1 .3-.9 .4-.8 .3-.9 .3-.8 .3-.9 .3-1.3 .4-.6 .3-1.3 .3-.8 .4-1.2 .3-.9 .3-1.1 .4-.3 .3-1 .3-1.5 .4-1.5 .3-.7 .4,0 .3-1.3 .4-.7 .3-1.1 .4-1.2 .3-1.2 .4-.5 .4-.5 .3-.9 .4-1 .4-1.6 .3-.7 .4-1.2 .4-1.1 .4-.4 .4-1.2 .4-.6 .3-.9 .4-.4 .4-1.2 .4-1 .4-.6 .4-1 .4-.9 .4-1.6 .4-.5 .4-1.2 .4-1 .4-1.2 .4-.5 .5-.8 .4-.9 .4-1.1 .4-.8 .4-1 .4-.9 .4-.7 .4-1.3 .3-.8 .4-.9 .3-1.1 .3-.9 .2-.7 .2-1 .3-1.1 .3-.8 .5,.4 .3,.7 .2,1 .3,1.1 .7,.4 .8-.5 .6-.9 .5-.9 .4-.9 .4-1 .4-.9 .3-.9 .4-1 .3-1.2 .3-.8 .3-.6 .3-1.3 .4-.9 .3-1.2 .3-.9 .4-.7 .3-.7 .4-.6 .4-1.5 .3-1.1 .4-.4 .4-.7 .4-1.6 .5-.9 .3-.4 .4-.6 .4-1.7 .4-.8 .4-1.7 .4-.1 .4,0 .4-1.9 .4-1.1 .4-1.2 .4-.7 .4-.4 .4-.7 .4-1 .4-1.6 .4-1 .4,.2 .4-1.1 .4-1.4 .5-.8 .4-1.1 .4-.8 .4-1.1 .4-1 .4-1.3 .5,.2 .4-.7 .4-1.1 .4-.8 .5-1.3 .4-1.4 .4-.5 .5-.5 .4-1 .4-1.3 .5-1.4 .4-.2 .4-.7 .5-1.2 .4-1 .4-.9 .5-1 .4-1.3 .5-.6 .4-.8 .5-.6 .4-1 .5-.8 .4-1.4 .5-.5 .4,0 .5-1.4 .4-1 .5-.7 .5-1 .4-1 .5-1.6 .5-.9 .4,.1 .5-1 .5-1.1 .4-.2 .5-2 .5-.4 .5-.6 .4-1.9 .5-.8 .5-.3 .5-1.1 .5-1.1 .4-.4 .5-.9 .5-.9 .5-.9 .5-.8 .5-.8 .5-.1 .5-1.3 .4-1.6 .5-.6 .5-.7 .5,.3 .5-2.2 .5-.9 .5-.6 .5-.5 .5-1.6 .5-1.4 .5-.3 .5-.4 .5-.9 .5-.9 .5-1.1 .6-.6 .5-1 .5-1.2 .5-.2 .5-1.5 .5-1.5 .5-.5 .5-.6 .5-.8 .6-.9 .5-.6 .5-1.1 .5-1.1 .5-.1 .5-1.1 .6-.6 .5-1 .5-.9 .5-.4 .6-2 .5-.2 .5-.8 .5-.7 .6-1.2 .5-.9 .5-.9 .5-1.2 .6-.6 .5,0 .6-.7 .5-.9 .5-1.4 .6-1.1 .5-1 .5-1.5 .6-.4 .5-.7 .6-.3 .5-.6 .6-1 .5-1.4 .5-1 .6,0 .5-.9 .6-.7 .6-1.3 .5-.6 .6-1 .5-1.2 .6-.5 .5-1.1 .6-1.2 .6,.1 .5-.6 .6-1.4 .6-.9 .6-.3 .5-1.2 .6-1.8 .6,.6 .6-1.4 .6-1.1 .6-1.3 .6-1 .6,.1 .6-1 .6-.3 .6-.7 .7-.9 .6-.5 .6-.6 .7-.5 .6-1.7 .7-1 .7-.1 .6-.4 .7-1.3 .7-1.2 .7-.3 .7-1.7 .7-.7 .7,.6 .7-1.1 .7,.2 .8-.9 .7-.9 .8,.3 .7-1 .8-1.4 .7-.9 .8-.7 .8-1.2 .8,0 .7-.3 .8-1 .8-.1 .8-.9 .8-1.2 .9-.5 .8,0 .9-.2 .8,.2 .9-1.1 .9-.4 .9-.1 1-.4 .9-.5 1-.9 .9-.2 1,.8 1-.5 .9-.6 1-.6 1,.2 1,.7 1-.7 .9-.5 1,.3 1,.1 1,0 .9,1.2 1,.2 1-.8 .9,.4 .9,1 1,0 .9,.6 .9-.1 .9,.7 .9,.5 .8,.6 .9,.4 .8,.2 .8,.9 .8,.8 .8,.7 .7-.1 .8,.7 .7,.9 .7,.7 .7,.7 .8,.8 .7,1.2 .7,1.1 .7,.5 .7,.4 .8-.9 .7,1.1 .7,1.6 .7,.3 .7,1.2 .7,.4 .8,.7 .7,.6 .7,.9 .7,.1 .8,.9 .7,.6 .7,.5 .7,.5 .7,1.6 .7,.3 .7,1.1 .7,.7 .7,.8 .7,.6 .7,.7 .6,.2 .7,2.1 .6,.8 .7,.5 .6-.5 .6,.8 .6,1.1 .6,1.1 .6,.6 .6,1.2 .5,.8 .6,1 .5,1.1 .5,.1 .6,.6 .5,.8 .5,1.5 .5,.8 .4,.6 .5,.5 .4,1.3 .5,1 .4,.9 .4,.8 .5,.4 .4,1.7 .4,.9 .4,.8 .4,.6 .4,1.5 .4,.4 .3,.7 .4,.8 .4,.8 .4,1.5 .4,.8 .4,.5 .4,1.1 .4,1 .3,1 .4,.7 .4,1.1 .4,.2 .4,.9 .4,1.5 .5,1.2 .4-.1 .4,1.2 .4,1.1 .4,1.2 .4,.2 .4,1 .4,1.3 .5,.1 .4,.7 .4,1.6 .5,.7 .4,1.1 .5,.8 .4,.2 .5,1.3 .5,1.4 .6,.6 .6,1.2 .8-.1 .8,.6 .8,.5 .8,0 .8-.1 .9-.3 .8,.1 .7,.4 .8-.4 .7-.3 .7-.6 .5-1 .5-.7 .6-.3 .6-1.4 .7-.3 .6-1 .7,.6 .5-1.4 .6-1.2 .5-.3 .7-.4 .7-.3 .7-.1 .7-.7 .8,.6 .8-.5 .8-.1 .8,.9 .8-.7 .8,.6 .8,.9 .8,1 .9,0 .9,.8 .9-.1 .9,.8 .9,.6 1-.2 .9,.2 1,.3 .9,.2 1,.2 .9,1.1 .9,.2 1,.3 .9-.4 .8,.7 .9,1.2 .8,.3 .8,.2 .8,.7 .7,1.1 .7,.5 .6-.2 .7,.9 .7,1.4 .6,.2 .6,1.1 .6,1.2 .6,1.5 .6,.8 .6,.3 .6-.2 .6,1.2 .6,.5 .6,.6 .5,1.7 .6,.5 .5,1.1 .6,.9 .5,1 .5,.5 .6,.7 .5,1.5 .5,.8 .5,.6 .5,.7 .5,1 .5,.7 .5,1 .5,.7 .5,.2 .5,.6 .5,1.2 .5,2.1 .5,1.1 .4,.1 .5,.4 .5,1 .4,1 .5,1.5 .5,.4 .4,.3 .5,1.1 .4,.7 .5,1.9 .4,.7 .5,.7 .4,.9 .5,.1 .4,1.4 .5,1.4 .4,.6 .4,1 .5,.8 .4,.9 .4,1.2 .5,.6 .4,1.1 .4,.9 .4,.8 .5,.7 .4,.7 .4,1.2 .4,1.4 .5,.8 .4,1.1 .4,.6 .5,.1 .4,1.7 .4,.9 .5,1.1 .4,.9 .5,.9 .4,.7 .5-.5 .4,1.8 .5,1.3 .4,.9 .5,1 .5,.7 .5,.9 .5,.1 .5,1 .5,1.4 .5,.9 .5,.2 .5,.2 .5,1.2 .5,1.3 .5,1 .6,1.3 .5,.9 .6,0 .6,1 .6,.7 .6,1.1 .6,.4 .6,1.3 .8,.2 .9,.2 .8,.3 .9,.9 .9,.3 .9,.3 .9,.3 .9-.6 .9,.7 .9-.1 .9-.7 .9-.5 .8-.5 .8-.7 .8,0 .7-.8 .6-1.1 .5-1.1 .6-.6 .5,0 .6-1.1 .6-2.1 .5-1.3 .6,.3 .5-1.1 .5-.5 .6-.4 .5-.8 .5-.3 .6-1.5 .5-.9 .5-1.1 .5-1.2 .6-.7 .5,.1 .5-.5 .5-1.7 .5-.6 .5-1 .5-.6 .5-1.3 .5-.7 .5-.7 .5-1.3 .6-.9 .5-.7 .5-.6 .5-.1 .6-.6 .5-.8 .5-1.2 .6-.8 .5-1.6 .5-.7 .6-.2 .5-1 .6-1.3 .5-.6 .5-.7 .6-.9 .6-1.1 .6-.4 .5-.9 .7-1.2 .7-.5 .8-.2 .8,0 .9-.4 .9-1.5 .9,.3 1,.1 .9-.3 1,.3 .9,.2 1-.2 .9-.4 .9,0 1,.5 .9,.5 .9,0 .9,1.2 .8,.8 .9,.2 .8,.8 .9,.3 .8-.1 .9,.8 .8,1.2 .8-.1 .8-.2 .8,1.3 .8-.1 .8,.4 .8,1.3 .8,.5 .8,1.3 .8,.3 .8,.6 .7,.9 .8,.3 .8,.6 .8-.2 .9,1.6 .8,.4 .9,.1 .8,.2 .9,.8 .9,.2 .9,.6 .9,.2 1-.1 .9,.5 .9,.4 1,.7 .9,.4 1-.1 1,.4 .9-.1 1,.2 1,0 1,.2 .9-.4 1-.1 1,0 .9-.6 1,0 .9-.2 .9,0 .9-1 .9-.9 .9-.5 .9,.2 .9-.5 .8-.8 .8-.2 .8-.1 .8-.2 .7-.7 .7-1.5 .7-.2 .7-1.2 .7-.7 .6-.4 .7-1.6 .6-.5 .5-.5 .6-.1 .6-1.5 .6-.7 .5-1 .5-.9 .6-1.1 .5-.3 .5-.4 .5-.9 .5-2 .5-1.3 .4-.3 .5-.1 .4-.8 .5-1.3 .4-1.3 .4,0 .5-.6 .4-1.8 .4-1 .4-.8 .4-.1 .3-1.1 .4-1 .4-1.6 .3-.8 .4-.9 .3-.9 .4-.8 .3-1 .3-1.4 .4-.3 .3-1.4 .3-1.2 .3-1.3 .3-.3 .3-.7 .3-1.3 .3-1.1 .3-.6 .3-1 .3-1.3 .2-.5 .3-.6 .3-1.1 .2-.8 .3-1.1 .3-.6 .2-1 .3-1.6 .2-.6 .3-1 .2-1.4 .3-1.2 .2-.8 .2-1.6 .3-.8 .2-.6 .3-1.4 .2-.9 .2-.9 .3-1.2 .2-.5 .2-.6 .3-.9 .2-.6 .2-1.4 .3-1.3 .2-.8 .2-.4 .2-.7 .3-1.7 .2-1 .2-1 .2-.8 .3-2 .2-.7 .2-1.2 .2-1.7 .2,.2 .3-.9 .2-.4 .2-.8 .2-.8 .2-1.1 .2-1.6 .2-.8 .2-1.6 .3-1.2 .2-.2 .2-.2 .2-1.4 .2-1.8 .2-.7 .2-.6 .2-.7 .2-1.2 .2-.6 .2-.9 .2-1.4 .2-1.4 .2,0 .2-1.6 .2-1.4 .2-1.2 .2-.6 .2-1.6 .2-.4 .2-1.5 .2-.4 .2-1.4 .2-1.3 .2-.8 .2-.5 .2-1 .2-1.3 .2-.8 .2-.6 .2-1.7 .3-.2 .2-1 .2-2.2 .2-.3 .2-.7 .2-1.1 .2-1 .3-1 .2-.5 .2-1 .2-.9 .3-1.2 .2-.5 .2-1.3 .3-.9 .2-1.2 .2-1.1 .3-.5 .2-.8 .3-1.3 .2-1.1 .2-1.1 .3-.7 .2-.9 .3-.8 .2-1.2 .3-1.1 .3-.7 .2-1.2 .3-.8 .2-.7 .3-.8 .3-1.3 .2-1.2 .3-.7 .3-1.1 .2-.9 .3-1.1 .3-1.1 .3-1.2 .2-.8 .3-.6 .3-1 .3-1.2 .2-.9 .3-.4 .3-1.3 .3-1.5 .3-.1 .2-1.4 .3-.6 .3-1 .3-1.8 .3-.8 .3-.8 .3-1 .2-1 .3-.6 .3-.9 .3-.6 .3-1.4 .3-1.2 .3-.6 .3-1.1 .3-1.2 .3-.7 .3-1.4 .3-1.2 .3-.7 .3-.5 .3-.7 .3-1.5 .3-1.1 .3-.6 .3-.8 .4-1.4 .3-.5 .3-1.1 .3-1 .4-1.1 .3-.4 .3-.7 .4-1.4 .3-.6 .4-.8 .3-1.1 .4-1.2 .4-.8 .3-1.3 .4-1.1 .4-.8 .3-.6 .4-.5 .4-2 .4-.8 .4-.9 .4-.5 .4-1.5 .4,0 .4-1.3 .4-.5 .4-1.6 .5-.7 .4-.2 .4-.8 .4-1.9 .5-1.3 .4-1.1 .5-.2 .4-1.3 .5,.1 .4-.7 .5-.8 .5-1.5 .4-1.1 .5-.8 .5-1.3 .5-1.1 .5-.3 .5-.8 .5-.9 .5-1.2 .5-.4 .5-.2 .5-1.1 .6-1.3 .5-.5 .6-.6 .5-1.1 .6-1.3 .5-1.4 .6,.5 .6-.7 .6-1.3 .6-1.1 .7-1.4 .6,.2 .7-.6 .6-.8 .7-.8 .7-.7 .7-.5 .8-1.2 .7-.7 .8-.1 .8-.1 .9-.7 .8-.6 .9-1 .9-.6 .9,0 .9-.3 .9-.6 .9-.4 1-.9 .9-.6 .9,.5 1-.2 .9-.8 1,0 .9,1.1 1-1.3 .9-.6 1-.3 .9-.5 1-.4 1,.4 1-.5 .9-1 1,.9 1-.5 1-.1 .9-.1 1-.5 1,.5 1-.9 1-.1 1,0 .9-.8 1-.3 1,.6 1,.6 1-.5 1-1.5 1,.7 1-.6 1-.3 1,.3 .9,.1 1-.2 1-.2 1,.9 1-1.1 1-.1 1,.5 1-.1 1-1.1 1,.7 1,.4 1-.9 1-.4 1,.7 1-.2 1-.7 1,.3 1-.3 1-.4 1-.5 1,.7 1-.1 1-.3 1,.2 1,.5 1-.1 1,.2 1-.2 1,.3 1,.4 1-.6 1-.3 1-.6 1,.2 1,1.1 1,0 1-1 1-.1 1,.3 1,.3 1,.2 1,0 .9,.2 1,0 1-.3 1,.3 1-.9 1,.2 1,.7 1,.5 1,.1 1,.4 1,.1 1-.3 1-.1 1,.2 1-.3 1-.1 1,.4 1-.3 1,.3 1,.4 1,.5 1-.7 1-.1 1,.9 1-.3 1,.1 1-.1 1,.7 1-.6 1,0 1,.1 .9,.9 1,0 1-.8 1,1.1 1-.5 1,.2 1,.7 1-.4 1-.1 1-.2 1-.1 1,1.7 1,.2 1,0 .9-1 1,.1 1,0 1,.8 1,.9 1-.7 1-.3 1,.9 1-.5 1,.4 1,0 1,.4 1-.1 .9-.5 1,.6 1-.2 1,.6 1,1.1 1,.1 1-1 1-.4 1-.3 1,.6 .9,.3 1,.2 1,1.4 1,0 1-.2 1-.2 1,.4 1,.4 .9,.1 1,.4 1,.3 1-.5 1-.2 1,1 1-.5 1,.4 .9,.4 1,.7 1-.6 1-.5 1,1.2 1-.3 1-.8 1,.3 1,.8 .9,.9 1,0 1-.2 1-.2 1,.3 1,.6 1-.4 1,.3 1,.9 1-.3 .9-.2 1,.1 1,.3 1-.1 1,.6 1,.2 1,.1 1-.2 1,.4 1,.6 1-.4 1-.2 .9,.2 1-.1 1,.2 1,.7 1,0 1-.2 1,0 1,0 1,.5 1-.1 1,.2 1,.2 .1,0"/>
<path id="magenta" d="M215.0,1558.1l.2,1.1 .2,.9 .3,.7 .2,1 .3,1.1 .3,1 .5,.8 .7,.6 .8-.5 .7-.9 .5-.6 .3-.8 .3-.9 .3-1.1 .3-1.1 .2-1 .3-1.1 .4-.7 .7,0 .4,.8 .2,1.1 .3,1.2 .2,.9 .2,.8 .1,.9 .2,1.2 .3,1 .2,.8 .3,1 .5,1 .9-.1 .8-1 .7-.9 .6-.7 .8-.9 .8-.4 1-.1 1,.1 1-.1 1-.4 1,.1 1-.2 .9-.6 .7-.6 .8-.6 .8-.6 .9,.4 .6,.5 .6,.9 .6,1.1 .8,.6 .8-.6 .6-.8 .4-.8 .4-1.3 .4-.8 .4-1.2 .5-.8 .5-1 .7-.3 .9-.2 1-.6 .9-.1 1-.5 .9-.5 .8-.5 .9-.7 .8-.5 .7-.4 .7-1 .6-.7 .4-1 .3-.7 .4-1 .3-1 .3-1 .3-1 .3-1.1 .4-.7 .3-1.2 .3-.9 .3-.8 .4-1.1 .3-.9 .4-.7 .4-1 .5-1.1 .6-1.1 .6-.6 .6-.6 .6-.8 .5-.9 .5-.8 .3-1 .4-.9 .2-.8 .3-1.1 .3-1 .2-.6 .3-1 .2-1.4 .3-.9 .2-.8 .2-.9 .3-1 .2-1.2 .3-1 .3-.8 .2-.9 .3-1.1 .2-1 .2-1 .3-.8 .2-1.1 .2-.9 .3-.8 .2-1.1 .2-1.1 .2-.8 .2-1.1 .2-1 .2-1 .2-1.2 .2-.8 .2-.8 .2-1.1 .2-.9 .2-1.1 .2-1.1 .3-.9 .2-.6 .2-1 .2-1.2 .2-.9 .3-1.1 .2-1 .2-.8 .2-1.1 .3-1.2 .3-.9 .3-.8 .4-.9 .5-.6 .8-.9 .9-.3 .9-.5 .7-.8 .4-.7 .2-1 .1-1.2 0-.8 .1-1.2 .1-1 0-.9 0-1 .1-1.1 0-1 .1-.9 0-.9 .1-1.2 0-.9 .1-1 .1-1.2 .1-.5 .1-1.1 .1-1.4 .2-.7 .1-1.1 .2-1 .2-.8 .2-1.1 .2-1.1 .3-.9 .2-1 .4-1.1 .5-.8 .8-.6 .8-.3 .9-.3 1-.2 .9-.4 .9-.7 .7-.7 .6-1.1 .3-.9 .1-.9 .1-.8 0-.9 .1-1.2 .1-1 0-1.2 .1-.8 .1-.9 .1-.9 .1-1.2 .1-.7 .2-.9 .1-1.2 .2-1.1 .1-1 .2-.9 .2-1 .2-.9 .2-.9 .3-.9 .3-.9 .4-1.1 .5-.9 .6-.9 .7-.8 .7-.3 .8-.8 .9-.4 .7-.8 .6-.8 .6-.7 .4-1 .5-.9 .2-1.1 .2-1 .1-1 .1-1 .1-.7 .1-1.1 .1-.9 .1-1.5 .1-.9 .2-.7 .1-1.1 .2-.8 .2-1 .6-.9 .8-.6 .9-.2 .9-.6 .8-.7 .6-.9 .4-.9 .3-1.1 .3-.9 .2-.5 .3-1 .3-1.1 .3-.9 .4-.8 .4-1 .5-.8 .5-.9 .5-1.1 .5-.6 .5-1.6 .5-.9 .5-.5 .5-1.1 .4-.8 .4-1 .4-1 .5,.4 .4-1.2 .4-1.5 .4-.5 .5-1.2 .4-.7 .4-1 .4-.5 .5-1.8 .4-.6 .4-.8 .4-1.5 .4-.3 .4-1.3 .4-.2 .4-1 .5-1 .3-1.1 .4-.7 .4-1.9 .4-.6 .4-.9 .4-.6 .4-.9 .3-.8 .4-1.4 .4-.1 .3-.3 .4-1.8 .4-1.3 .3-.8 .4-.5 .3-.5 .4-2 .4-1.2 .3-1.1 .4-1 .3-1.1 .4-.3 .3-1.2 .4-.1 .3-.7 .4-1.8 .3-1.3 .4-.7 .3-.1 .4-1.5 .4-1.5 .3-.5 .4-.6 .3-1.2 .4-.2 .4-1.1 .3-1.1 .4-1.4 .4-.8 .4-.8 .3-1.8 .4-.3 .4-1.3 .4-.6 .4-1.1 .4,.1 .4-1 .4-.9 .3-.9 .4-1.7 .4-1.7 .4-.3 .4-.1 .3-1.1 .4-.8 .4-.7 .4-1.9 .3-.6 .4,0 .4-1.6 .4-1.9 .3-.5 .4-.7 .3-.7 .4-1.2 .4-.8 .3-1.7 .4-.1 .3-.2 .4-.9 .3-2 .4-.7 .3-1.9 .4-.3 .3-.5 .4-1.4 .3-.5 .4-.8 .3-.7 .4-1.1 .3-1 .3-1.8 .4-1 .3-.6 .4-.5 .3-.9 .3-.4 .4-1.6 .3-1.1 .3-.7 .4-1 .3-.8 .3-1.2 .4-.3 .3-1.3 .3-.7 .4-1.2 .3-.5 .3-1.8 .3-.7 .4-1 .3-.8 .3-.5 .4-1.7 .3-1.4 .3-.8 .3-.4 .4-1.6 .3-.5 .3-1.2 .4-1.1 .3-.6 .3-.5 .4-1.3 .3-1 .3-.8 .3-.9 .4-1.9 .3-.5 .3-.4 .3-.5 .4-.4 .3-1.3 .3-1.4 .3-1.4 .3-.7 .4-.6 .3-.6 .3-1.7 .3-.9 .3-.5 .3-.5 .3-1.3 .3-1.6 .4-1.1 .3-.8 .3-1.1 .3-.4 .3-.6 .3-1 .3-.9 .3-1.5 .4-.9 .3-1.1 .3-.9 .3-.4 .3-1.2 .3-1.9 .4-.6 .3-.8 .3-1.4 .3-.8 .3-.1 .4-.4 .3-1.6 .3-.8 .4-.6 .3-1.8 .3-.9 .3-.7 .4-.9 .3-1.6 .3-.7 .3-.2 .3-.7 .4-.6 .3-1.7 .3-.5 .3-1 .4-1.9 .3-.5 .3-1 .4-.8 .3-1 .3-.5 .4-1.1 .3-1.3 .4-.5 .3-1 .4-1.3 .3-.4 .4-1.3 .3-1.3 .4-.9 .3-1.3 .4-.7 .4,.2 .4-1.6 .4-1 .4-1.2 .4-.9 .4,0 .4-.8 .4-1.5 .4-.9 .5-1.2 .4-1 .4-.9 .4-1 .3-.4 .4-.6 .4-.9 .4-1.2 .3-1.5 .4-.6 .4-1.1 .3-.4 .4-.7 .4-.9 .3-1.3 .4-1.7 .3-.1 .4-.4 .3-1.9 .4-.8 .3-.2 .4-1.7 .3-.2 .4-1.3 .3-1.5 .4-.1 .3-1 .3-1.5 .4-.5 .3-1.7 .4,0 .3-1.3 .4-1 .3-1 .4-.7 .3-.6 .4-1.6 .4-.6 .3-1 .4-1.3 .3-.8 .4-1.2 .4-.9 .4-.3 .3-1 .4-.6 .4-1 .4-1.6 .4-1.5 .4-.6 .3-.4 .4-.8 .4-1.3 .4-.4 .4-1.6 .4-1.2 .4-.3 .4,.1 .4-1.3 .5-1.7 .4-.5 .4-.7 .4-.7 .4-1.4 .4-1.3 .5-.6 .4-.7 .4-.4 .4-.5 .5-1.9 .4-1.3 .4-.7 .4-.9 .5-.6 .4-.8 .5-1 .4-.5 .4-1.3 .5-1.5 .4-1.2 .5-.8 .4-.8 .4-1.2 .5-.1 .4-.7 .5-1.2 .4-1.1 .5-1.3 .4-.7 .5,.2 .4-2 .4-.6 .5-.3 .4-1 .5-1.2 .4-.6 .4-1.4 .5-.6 .4-.3 .4-1.7 .5-1.2 .4-.5 .4-.4 .4-.6 .5-1.1 .4-1.6 .4-1.3 .4-.4 .4-.6 .5-1.5 .4-.7 .4-.6 .4-.6 .4-1.6 .4-.6 .5-1.3 .4-.9 .4-.7 .4-.2 .4,0 .5-1.7 .4-1.4 .4-.6 .4-1.7 .4-.5 .5-1.3 .4-.2 .4-.4 .5-1.3 .4-1.6 .4-.1 .5-1.1 .4-1.1 .4-.8 .5-1.7 .4-.4 .4-.3 .4-1.1 .4-1.1 .5-1.3 .4-.5 .4-.8 .4-1 .4-1.2 .5-.4 .4-.5 .4-1.1 .4-.9 .5-.6 .4-.7 .4-1.4 .5-1.2 .4-1.1 .4-.7 .5-.6 .4-.7 .4-1.3 .4-.9 .5-1.2 .4-.2 .5-1.1 .5-.8 .5-1.2 .5-.8 .5-.9 .6,0 .6-.9 .6-1.2 .5-1.2 .6-.8 .6-.3 .6-.2 .5-1.8 .6-1.1 .5-.5 .5-.9 .5-1.3 .5-.4 .5-.3 .4-1.7 .5-.5 .5-.3 .4-.8 .5-1.4 .4,0 .5-1.2 .4-1.7 .5-.4 .4-1.4 .5-.4 .4-1.4 .5-.4 .4-1.1 .4-.5 .5-.7 .4-1.1 .5-1.1 .4-.5 .5-1.9 .4-.5 .4-.5 .5-.8 .4-.8 .5,.3 .4-1.8 .5-1.2 .4-1 .5-.5 .5-2 .5,0 .5-1.2 .4-1.9 .5-.7 .5-.3 .5-.6 .5-.9 .4-.5 .5-1.1 .5-1 .4-1.7 .5-.3 .4-.2 .5-1.4 .4-1.7 .5-.9 .4,.4 .4-1.3 .5-1.3 .4-1 .4-.3 .4-1.2 .4-1.2 .5-1.2 .4-.5 .4-.2 .4-1.2 .4-.7 .4-1 .4-1.1 .4-.9 .4-.9 .4-.6 .4-1 .4-1.4 .4-.8 .3-.9 .4-.7 .4-1 .4-.8 .4-1.7 .4-.5 .4-.2 .4-1.8 .4-.2 .4-1 .4-1.3 .4-1.6 .4-.1 .4-1.2 .4-1.1 .4-.4 .4-1.3 .5-1.2 .4-.9 .4-.6 .4-.4 .5-.9 .4-.9 .4-1.2 .5-.8 .4-1.1 .5,0 .5-1.2 .4-2 .5-.9 .5,.3 .4-1.5 .5-1.1 .5-.3 .5-1.4 .5-.2 .5-.3 .5-1.7 .5-.6 .5-1.3 .5-1.2 .5-.4 .5-.7 .4-1.2 .5-.5 .5-1.5 .5-1 .5-.9 .4-.2 .5-.5 .4-1 .5-1.6 .4-.7 .5-.5 .4-1.7 .5-.9 .4-.2 .4-.6 .5-1.1 .4-.9 .4-.9 .4-1 .5-1.1 .4-1.2 .4-.8 .4-.9 .4,.1 .4-1.2 .4-1.4 .4-1 .4-.9 .4-1 .4-.6 .4-1 .4-.7 .4-1.4 .4-.7 .4-.6 .4-1.6 .4-.7 .4-.7 .4-1.1 .3-1.1 .4-1.5 .4,0 .4-1.2 .4-1.4 .4-.2 .4-1.6 .4-.2 .4-.7 .4-.9 .4-1.2 .4-1.5 .4-1.3 .4,.3 .4-1.1 .4-1.3 .4-.1 .4-1.4 .5-1.1 .4-.9 .4-.8 .4-1.3 .5-.8 .4-.1 .4-.8 .5-2.5 .4-1.1 .5,.2 .4-.7 .5-1.1 .5-.3 .4-1.8 .5-.2 .5-.8 .4-.9 .5-.9 .5-.7 .5-1.2 .5-1.2 .4-.4 .5-.9 .5-1.5 .5-.1 .5-.5 .5-.8 .4-1.4 .5-1 .5-1.1 .5-1.2 .5-.6 .4-.6 .5-1.2 .5-.1 .5-1.8 .5-1.1 .4-.7 .5-.1 .5-1.2 .5-1.1 .5-1.1 .4-.9 .5-1.1 .5-.1 .5-.6 .4-.8 .5-1.5 .5,.1 .5-1.7 .5-1.9 .4-.4 .5-.4 .5-.6 .5-1.4 .5-.6 .4-.1 .5-1.7 .5-1.3 .5-1.2 .5-.3 .5-.3 .5-.8 .5-.8 .5-.7 .5-1.2 .5-.8 .5-1.4 .5-1.1 .5-.5 .6-1 .5-.5 .5-.3 .6-1.1 .5-1.5 .6-1 .5,0 .6-1.3 .5-.8 .6-.8 .6-.8 .6-.3 .6-1.3 .6-1.4 .6,.2 .6-.8 .6-.8 .6-1 .7-.6 .6-.4 .7-.7 .6-1.3 .7-1.1 .6-.5 .7-.6 .7-.7 .7-1.1 .7-1.6 .6,.1 .7-.1 .8-.7 .7-.4 .7-.8 .7-1.3 .7-.4 .8-.8 .7-.3 .8-.9 .7-.7 .7-.7 .8-.8 .8-1.2 .8-.3 .8-1.2 .8,.1 .8,.1 .9,0 .9-.9 .9-1.1 .9-.9 .9,.8 .9-1 1,0 .9-1.1 1,0 1,.4 .9-.2 1-.4 1-.5 1-.3 .9,.6 1,0 1-.4 1,0 1-.4 1,.5 1,.5 1-.8 1,.1 1,.6 1-.4 1,.8 1,.4 1-.7 1,.3 .9,.6 1-.8 1,.4 1,.2 .9,.1 1,.6 .9,0 1-.2 .9,.2 .9,.9 .9,.9 .9,.3 .8,.4 .9,.5 .8,1.1 .7,.6 .8,0 .7,.7 .7,1.3 .7,.3 .7,.5 .6,.9 .7,.4 .7,1.2 .7-.1 .7,1.5 .6,.6 .7,0 .7,1.1 .7,.2 .7,1.2 .6,1.2 .7,.3 .6,.7 .6,1.4 .6,.4 .8,.6 .8,.7 .8,1 .8-.3 .9,.1 .8,.6 .9-1.3 .9,.2 .8-.5 .8-.6 .8,1 .7-.6 .5-.8 .4-1.5 .4-1.1 .5-1.2 .5-1.1 .6-.6 .6-.6 .6-.1 .6-1 .7-.7 .6-.7 .6-.5 .6-1.2 .6,0 .5-.9 .6-.8 .5-.9 .5-.4 .5-.8 .5-1.1 .5-.7 .6-.6 .8-.4 .9-.4 .9,0 .9-.1 .9-.6 1-1.2 .9,.6 1,.4 1-1.1 .9-.7 1-.9 1,.5 .9-.5 1,.6 1-1.4 .9,0 1,.4 1-.5 1-.5 .9,.2 1-.2 1-.1 1,.2 .9-.1 1,.1 .9,.6 .9,0 .9,.4 .9,.1 .8,1 .8-.1 .8,1.1 .7-.5 .7,.9 .6,.9 .7,1.6 .7,.9 .7,0 .6,.7 .7,1.6 .7,.5 .6,.8 .7,0 .6,.4 .6,1.6 .7,1.8 .6-.1 .6,.8 .6,.4 .6,1.4 .6,.5 .6,.5 .5,.2 .6,1.2 .6,1.3 .5,1.4 .6,0 .6,1.2 .5,.7 .5,.7 .6,.6 .5,.4 .6,.9 .5,2 .5,.2 .5,.7 .6,1.6 .5-.2 .5,1.3 .5,.9 .6,1 .5,1.2 .5,.6 .6,.7 .5,1.1 .5,1 .6,.3 .5,.8 .5,.5 .6,1.7 .5,.3 .6,.9 .5,1.7 .6,.7 .5,.2 .6,.5 .6,.7 .6,1.4 .6,.8 .6,.6 .6,1.7 .6-.1 .6,.3 .7,.9 .6,1 .6,.9 .7,.5 .7,1.1 .6,.8 .7,.4 .8-.4 .8,1.5 .8,.3 .9,.2 .8,.6 .9-.1 .9,.1 .9,.5 1-.1 .9,0 .9-.5 .9-.3 .9-.5 .9-.3 .8-.1 .9-.6 .7-1.2 .7-.4 .7-.4 .6-.4 .6-1 .6-1.1 .6-1.2 .6,.3 .5-1.4 .6-1.4 .5-.5 .6-1.3 .5,0 .5-.7 .5-.8 .5-1.4 .6-.8 .5-.3 .5-.6 .5-.1 .5-1.2 .5-2.2 .4-.6 .5-.7 .5-.4 .5-1.1 .5-.8 .4-1.1 .5-.6 .5-.4 .5-1.5 .5-1.8 .4-.7 .5,.3 .5-.9 .5-1.3 .5-1.2 .5-.1 .5-.8 .5-1.1 .5-1.1 .5-.8 .5-.8 .5-.5 .5-.4 .5-2 .6-1.2 .5-.2 .5-.5 .6-1.4 .5-.8 .6-.5 .6-.8 .7-.7 .7-.6 .8-.1 .9-.4 .8-.6 .9-.5 .9-.8 .9-.4 .9,.3 1-.2 .9,.1 1,0 .9-.1 .9,.3 1-.5 .9,.5 .9,.4 .9,.9 .9,.1 .9,.5 .8,.4 .9,.7 .9,.8 .8,.2 .9,.4 .8,.6 .9,.8 .8,.2 .9,.5 .8,.5 .8,.2 .9,.9 .8,.9 .8,.1 .8,1.3 .8,.1 .9,.7 .8,.6 .9-.3 .8,.7 .9,.1 .9,.7 .9,.9 1,.9 .9,.1 1-.8 .9,.2 1,1.1 1,0 1,.5 1-.6 1-.3 1-.2 1,.3 1,.8 .9-.5 1,.2 1,.1 1,0 .9-.5 1-.3 .9,.6 .9-1.3 .9-.2 .9,.3 .9-.8 .8-.2 .9-2.1 .8-.4 .7-.5 .7-.5 .8-.5 .6-.4 .7-1.2 .7-.3 .6-1.4 .6-.2 .7-.8 .6-1.6 .5-1 .6-.8 .6-.5 .5-.3 .6-.2 .5-.8 .5-1.8 .5-1.5 .5-.3 .5-.9 .5-.6 .5-.8 .4,.3 .5-2 .5-.8 .4,0 .4-1.5 .5-1.4 .4,0 .4-2 .4-1.4 .4-.6 .4-.2 .4-.5 .3-1.2 .4-.2 .4-1.5 .3-1.2 .4-1 .3-.4 .3-1.2 .4-1.3 .3-.2 .3-.7 .3-1.1 .4-1.9 .3-1.3 .3-.6 .3-.8 .2-1 .3-.9 .3-.6 .3-1.4 .3-.8 .2-1 .3-1.1 .2-.9 .3-.5 .2-1 .3-1.4 .2-.8 .3-.8 .2-.9 .2-1.2 .2-.6 .3-1 .2-1.7 .2-1.2 .2-1.1 .2-.3 .2-1.1 .2-1 .2-.8 .2-.5 .2-.3 .2-1.8 .2-.5 .1-1.2 .2-1 .2-1.4 .2-1.6 .2-.5 .1-.4 .2-1.9 .2-.9 .2-.6 .1-.8 .2-1.6 .2-1 .2-.4 .1-.4 .2-1.5 .2-.9 .2-1.1 .1-1.1 .2-1.2 .2-1.1 .2-1.1 .1-.8 .2-.4 .2-1.2 .2-1 .1-1.4 .2-.6 .2-2.3 .2-1 .2-.2 .1-1.4 .2-.3 .2-.7 .2-1.5 .2-.8 .2-1.4 .1-1.1 .2-.6 .2-1.4 .2-.2 .2-1.2 .2-.6 .1-1.1 .2-1 .2-1.4 .2-1 .2-.9 .1-.7 .2-.5 .2-1.5 .2-1.2 .2-.7 .1-.7 .2-1.3 .2-1.2 .1-1.1 .2-.8 .2-.8 .2-1.3 .1-1 .2-.5 .2-1.1 .1-1.4 .2-.5 .2-.8 .1-1 .2-1 .2-1.4 .1-.9 .2-.9 .2-1 .1-1.8 .2-.6 .2-.5 .1-.9 .2-1.3 .2-1 .1-1.6 .2-1.2 .2-1.5 .1-.2 .2,.2 .1-.6 .2-2.1 .2-.8 .1-.4 .2-1.5 .2-1.9 .1,.1 .2-1.2 .2-1.3 .1-.1 .2-1.2 .2-1 .1-.6 .2-1.6 .2-1.6 .1-.4 .2-1 .2-.8 .2-1 .1-1.5 .2-.9 .2-1 .1-1 .2-.9 .2-.8 .1-.9 .2-1.6 .2-.5 .2-1.5 .1,.1 .2-1.5 .2-1.2 .1-.4 .2-1.3 .2-1.7 .2-1.2 .1-.3 .2-.7 .2-.8 .1-1.1 .2-1.4 .2-.7 .2-.5 .1-1.7 .2,.4 .2-1.9 .1-1 .2-.4 .2-1.3 .2-1.4 .1-.9 .2-.7 .2-2.4 .1-.4 .2-.8 .2-1.3 .2-.7 .1-.8 .2-.9 .2-1.3 .1-.5 .2-2 .2-1.1 .1-.9 .2-.5 .2-1 .1-.7 .2-1.3 .2-.4 .1-.9 .2-1.5 .2-1.7 .1-1 .2-1 .2,0 .2-.7 .1-1.8 .2-.1 .2-1.3 .1-2.1 .2-.1 .2-.3 .1-1.5 .2-1.5 .2-.3 .2-1.3 .1-1.1 .2-.7 .2-1 .2-1.3 .1-1.3 .2-.4 .2-1.8 .2-.5 .2-.6 .1-.9 .2-1.3 .2-.9 .2-.7 .2-1.6 .2-.8 .2-.7 .2-1.6 .2-1.1 .2,.1 .2-.8 .2-1.8 .2-.7 .2-.8 .2-.7 .2-.9 .2-2.4 .2-.7 .2,0 .3-.6 .2-1.8 .2-1.6 .2-.5 .2-1.1 .3-.8 .2-1.4 .2-.4 .3-.7 .2-1.1 .2-1.5 .3-1.5 .2-.9 .3-.2 .2-1.6 .2-.4 .3-.1 .2-1.7 .3-1.2 .2-.5 .3-.8 .2-1.6 .3-1 .2-.8 .3-1.1 .2-.7 .3-.9 .2-.6 .3-2 .2-.3 .3-.7 .2-1.4 .3-.9 .2-.6 .3-1.2 .2-1.3 .3-.8 .2-1.3 .3-1.3 .2-.9 .3-.9 .2-.6 .3-.5 .2-1.1 .3-.6 .3-1.4 .2-1.4 .3-1.1 .2-1.1 .3-.7 .2-.2 .3-1.8 .3-.7 .2-.8 .3-.8 .2-1.3 .3-.7 .3-1.2 .2-.8 .3-1.7 .3-.5 .2-.4 .3-1.9 .3-.4 .2-1.3 .3-.5 .3-1 .3-.8 .2-1 .3-1.6 .3-.2 .3-.6 .2-1.9 .3-.7 .3-.7 .3-1.4 .3-1.3 .3-.1 .3-1.3 .3-.7 .2-.4 .3-1.3 .3-1.7 .3-.5 .3-1.5 .3-1.2 .3,.6 .4-1.7 .3-1.1 .3-1.3 .3-.9 .3-.6 .3-2 .4-.7 .3-.1 .3-.6 .4-1.1 .3-1.6 .3-.6 .4-1 .3-1.2 .4-.7 .3,.1 .4-1.8 .4-.7 .3-.9 .4-1.8 .4-.9 .4-.6 .4-.9 .4-.7 .4-1.3 .4-1.1 .4-.1 .4-1 .4-1.4 .5-.7 .4,0 .4-1.5 .5-1.7 .4-.1 .5-.1 .5-1 .4-1.9 .5-1.6 .5,.3 .5-.9 .5-.8 .5-1.1 .5-.2 .6-1.2 .5-1.2 .5-.8 .6-1.2 .5-.6 .6-.7 .5-1.6 .6-.8 .6-.7 .5-1 .6-.1 .6-.2 .6-1 .6-1.6 .6-1.2 .6,.2 .6-.8 .7-.9 .6-1.2 .6-1.3 .7,.8 .6-1.2 .7-1 .6-1.1 .7,.1 .6-1 .7-1 .6-.6 .7-.8 .7-.2 .7-1.7 .7-.3 .7-.8 .7-.9 .7-.7 .7-.4 .7-1.2 .7-.7 .7-.1 .7-1 .7-.8 .7-.3 .8-.7 .7-.9 .7-.6 .8-1 .7-.1 .8-1.1 .7-1.2 .8,0 .8-.9 .7-.8 .8-.3 .8-.2 .7-.9 .8-.8 .8-.6 .8-.3 .8-.9 .8-.4 .8-.1 .8-1 .7-1 .8-.8 .8-.6 .8-.8 .8-.7 .8-.3 .8-.2 .8-.4 .8-1 .8-.4 .8-1.1 .8,.4 .8,.1 .7-1.6 .8-.8 .8-.6 .8-.4 .8-1.1 .8-1.1 .8,.1 .8-1 .8-.3 .8-.9 .8-.8 .8,.1 .8,0 .8-1.2 .7-1 .8-.4 .8-.9 .8-1.2 .8-.1 .7-1.2 .8,0 .8-.6 .8-.5 .7-1.2 .8-.6 .7,0 .8-.2 .7-.7 .8-.9 .7-1.4 .8-.2 .7-.6 .7-.9 .8-.1 .7-1.2 .7-.1 .8-1.2 .7-1.1 .7-.4 .8-1.1 .7-.6 .7-.3 .7-1.3 .8-.6 .7-.8 .7-.4 .8,.1 .7-1.1 .7-.8 .7-.5 .8-1.1 .7-.4 .8-.7 .7-.9 .7-1.1 .8-.4 .7,.2 .8-.3 .7-1.3 .8-.7 .8-.8 .7-1 .8-1 .8,.6 .8-1.1 .7-.6 .8,.1 .8-1.1 .8-.9 .8-.4 .8-.8 .8-.4 .8-.8 .8-.1 .8-.6 .8-1.3 .8-.9 .8-.4 .8-.4 .8-.7 .9,.1 .8-.9 .8-.8 .8-.3 .9-1.2 .8,0 .8-.1 .8-.2 .9-1.4 .8-.7 .8-.2 .9-.7 .8-1 .9,.2 .8-.6 .9-.5 .8-1 .9,0 .8-.7 .9-.8 .8,0 .9-.1 .9-1.3 .8,0 .9,0 .9-.8 .9-1.4 .9,.1 .9,.1 .9-1.2 .9,.3 .9-.7 .9-.7 .9,.1 1-.5 .9-.1 .9-.7 .9-.5 1-.4 .9-.3 1-.2 .9-.3 .9-.7 1,0 .9-.5 1,0 .9-.3 1-.6 .9-.7 1-.1 .9,.4 1-.5 1-.2 .9-.5 1-.6 1-.4 .9-.8 1,.5 1,0 1-.3 .9,.1 1-.8 1,.5 1-.9 1-.1 .9-.5 1-.1 1,.6 1-1 1,0 .9,.1 1-.2 1-.1 1,.1 1-.2 1-.3 1,.1 1-.2 .9-.5 1-.7 1,.5 1-.3 1,.5 1-.7 1-.6 1,.5 1-.4 1-.5 1,.5 1-.4 .9,.2 1-.3 1,0 .2,0"/>
<path id="red" d="M215.0,1577.2l.2,1.1 .1,.8 .2,1.1 .2,.9 .2,.8 .2,1 .4,1.2 .7,.1 .4-1.1 .3-.8 .2-1 .3-.9 .2-1 .3-1.2 .2-.8 .3-1 .3-.7 .4-.9 .6,.2 .3,.8 .1,1.1 .2,1 .2,.8 .1,1.4 .2,.9 .1,1.1 .2,.7 .3,1.1 .6,.4 .9-.5 .7-.5 .6-.8 .6-1.1 .5-.9 .5-.5 .3-.7 .2-1.1 .2-1.2 .1-.9 .2-1.2 .1-.8 .2-1.2 .2-.9 .1-.9 .2-.9 .2-1.1 .3-.8 .4-1 .5-.8 .5-.8 .6-1.2 .7-.6 .9-.3 .3,.8 .2,1.1 .1,.8 .1,1.2 .2,1.1 .1,.9 .1,1.3 .1,.8 .1,.9 .1,.8 .1,1.1 .1,.9 .1,1.2 .1,.9 .2,1 .5,.6 .2-1 .2-1.1 .1-.9 .1-1.1 .2-1 .1-1 .1-1.2 .1-.9 .1-.8 .2-1.1 .1-1.2 .2-1 .6-.6 .4,1.1 .3,1 .3,1.3 .2,.8 .2,.7 .3,1.3 .2,.9 .2,1 .3,1 .3,.9 .4,.9 .8-.1 .5-.8 .3-1.1 .3-1 .3-1 .3-.9 .3-.8 .2-.9 .3-1 .3-1.1 .4-.7 .5-1 .9-.5 1-.2 1-.1 1-.1 1,.2 .9-.4 .8-.9 .7-.7 .7-.8 .8-.3 .8,.4 .1,.8 .2,1 .1,1 .1,1 .1,1.2 .1,.8 .1,.8 .4,.9 .3-.8 .2-1 .1-.9 .2-1.2 .1-1.3 .1-.6 .1-1 .2-1.2 .1-1.1 .1-.6 .1-1 .1-1.1 .2-.9 .2-1.1 .2-1.1 .3-1 .2-1 .3-.8 .3-1 .3-.9 .3-1 .3-.9 .4-.8 .6-.7 .8,0 .6,.6 .3,.9 .4,.8 .3,1.1 .3,1.1 .4,.7 .4,1 .7,.6 .5-.8 .3-.9 .2-1.1 .2-.8 .2-1.2 .2-1 .2-.9 .1-1.1 .2-.8 .2-1.2 .2-.9 .2-1.1 .1-.8 .2-.9 .2-.7 .1-1 .2-1 .1-1.2 .2-.8 .2-1.2 .2-1.1 .7-.4 .5,1 .3,1.2 .4,.7 .3,.9 .3,1 .4,.9 .4,.9 .7,.2 .1-.7 .1-1.3 .1-1 .1-.8 .1-.8 0-1.2 .1-1 0-1 .1-1 0-.9 .1-1.1 .1-1.1 0-1 .1-.9 .1-.8 0-.9 .1-1.2 .1-1.3 .1-1 .2-.5 .1-1.2 .1-1 .1-.7 .2-1.3 .1-1.1 .1-1 .2-1.1 .2-.7 .2-.9 .2-1.3 .5-.6 1,.4 .8,.5 .8,.6 1,.1 .7-.5 .5-.9 .4-.6 .3-.7 .3-1.2 .4-1.3 .4-.7 .4-.9 .6-.6 .7-.6 .8-.6 .8-.9 .8-.9 .6-.7 .6-.7 .3-1.1 .3-.7 .2-.9 .3-1.1 .2-1 .4-.9 .6-.3 .5,.5 .4,1 .3,1 .3,.9 .2,1 .3,1 .4,1.2 .7,.5 .9-.5 .8-.9 .6-.5 .6-.9 .5-.9 .4-.7 .3-1 .3-1.1 .2-1 .3-.8 .2-1 .4-.9 .4-.9 .4-1 .4-.9 .4-1 .4-.7 .5-.9 .6-1.1 .7-.6 1,.1 .8,.5 .7,.6 .6,1 .7,.5 .7,.7 1,.2 .6-.7 .5-1.1 .5-1 .3-.6 .4-1.1 .3-1 .4-.5 .3-1.2 .3-1.4 .2-.4 .2-.9 .2-1.2 .2-.7 .2-1.2 .3-.9 .6-.9 .9-.5 1-.1 .9-.2 .9-.3 .6-.8 .3-1.2 .2-1 .2-.7 .2-1 .2-1.1 .3-.8 .5-.8 .7-.7 .9-.8 .8-.6 1-.2 .9-.3 .9-.7 .7-.7 .7-.7 .4-.7 .4-1.1 .4-.6 .4-1 .4-1 .6-.6 .9-.3 .8,.5 .7,.6 .9,.4 .4-1 .3-.9 .2-.9 .2-1.1 .2-.8 .2-.9 .5-1.2 .8-.5 .8-.6 .9-.3 1-.4 .9-.3 .9-.4 .8-.4 .5-1.2 .5-.9 .3-.9 .4-.7 .3-1.1 .3-.9 .3-.8 .4-1 .3-1.1 .4-1 .5-.8 .4-.9 .5-1 .4-.8 .5-.7 .6-1 .6-.8 .7-.6 .8-.5 .9-.8 .8-.7 .6-.4 .5-.9 .4-1.1 .4-.9 .3-.6 .3-1.2 .3-1.1 .4-.9 .3-.6 .4-1.2 .5-.8 .7-.4 1-.1 1-.1 1,.1 1-.3 .4-.8 .4-1 .3-1 .2-1.2 .3-.8 .3-.9 .3-1.2 .3-.8 .4-.8 .8-.6 .9-.7 1-.2 1-.2 .9-.3 .8-.9 .5-.6 .5-.6 .4-.9 .5-1 .4-1 .4-.7 .5-.9 .5-1 .6-.8 .5-.7 .5-.8 .6-.9 .5-1.1 .6-.8 .5-.8 .6-.7 .5-.8 .6-1.1 .6-.9 .5-.8 .6-.5 .6-.8 .5-.9 .6-.8 .6-.9 .6-.8 .6-.8 .6-.8 .5-.8 .6-.7 .6-.7 .6-1.2 .7-.8 .6-.6 .6-.7 .6-1.1 .6-.8 .6-.7 .6-.5 .6-1 .6-.9 .6-.7 .6-.8 .6-.8 .6-.8 .6-.8 .6-.8 .6-.8 .5-.8 .6-.8 .6-1 .5-.8 .6-.7 .5-.8 .6-.8 .5-.7 .6-1.1 .6-.9 .5-.7 .6-.9 .6-.8 .6-.8 .6-.8 .6-.4 .7-1 .6-.7 .7-.9 .7-.7 .7-.8 .7-.6 .7-.4 .8-.6 .7-.8 .7-.9 .7-.8 .7-.7 .6-.6 .7-1.1 .6-.7 .7-.8 .6-.6 .6-.9 .7-.6 .6-1 .6-.9 .6-.4 .7-.7 .6-1 .6-1 .7-.7 .6-.6 .7-.7 .7-.9 .6-.6 .7-.5 .7-1 .7-.7 .7-.8 .7-.5 .7-.7 .7-.9 .8-.9 .7-.4 .7-.7 .7-.7 .7-.7 .7-.7 .7-.9 .7-.7 .7-.5 .7-.5 .8-.8 .7-.9 .7-.8 .7-.7 .7-.7 .7-.7 .7-.6 .7-.7 .7-.4 .7-.9 .7-.7 .7-.8 .7-.6 .7-.5 .7-1 .7-1 .8-.4 .7-.7 .7-.8 .7-.7 .7-.6 .7-.6 .7-.7 .8-.9 .7-.8 .6-.9 .7-.7 .7-.4 .6-1 .7-.7 .7-.4 .8-.6 .9-.5 .9-.3 1,.3 .8,.4 .7,.5 .8,.9 1-.1 .7-.8 .6-.9 .5-.6 .5-.9 .4-1 .4-1 .5-.9 .4-.9 .4-.9 .4-.9 .5-.9 .5-1 .6-.6 .6-.9 .6-.6 .7-.6 .7-1.1 .7-.5 .7-.8 .7-.6 .7-.8 .8-.6 .7-.8 .8-.6 .7-.6 .7-.4 .7-.7 .7-1.2 .7-.6 .6-1 .7-.6 .6-.1 .7-.5 .6-1.3 .7-1.3 .6-.6 .7,.1 .6-1.2 .7-1.7 .6-.9 .7-.7 .6,.1 .7-.9 .6-1.2 .6-.4 .7-.3 .6-1.1 .7-1.2 .6-.5 .6-.4 .7-1.6 .6-1.1 .7,.6 .6-.8 .7-1 .6-1.5 .7-.8 .7-.4 .6-.1 .7-.9 .7-1.6 .6,.2 .7-.3 .7-1 .6-1.6 .7-.9 .7-.5 .7-.5 .7,0 .6-1.7 .7-1 .7-.3 .7-.9 .7-.8 .7-1.1 .7-.3 .7-.6 .7-.6 .6-.3 .7-1.1 .7-.8 .7-.5 .7-1 .8-.5 .7-1.4 .7-.7 .7,0 .7-.6 .7-.6 .7-1.4 .6-.8 .7-.4 .7-.7 .7-.7 .7-.2 .6-1.2 .7-1 .6-.4 .7-.6 .7-.9 .6-.2 .6-1 .7-1.2 .6-1.2 .7,0 .6-1.1 .7-.7 .6-1 .7,.1 .6-.8 .7-2 .6-.4 .6-1 .7-.7 .6-.1 .7-1.4 .7-.5 .6-.6 .7-.5 .7-1.2 .6-.5 .7-.8 .7-.4 .7-.8 .7-.7 .7-.4 .7-.7 .7-1.1 .7-.7 .7-.8 .7-.7 .7-.2 .7-1.4 .7-1.2 .7-.2 .7-.8 .8-.2 .7-.5 .7-.8 .7-1 .7-1 .8-.9 .7-.6 .7-.5 .8-.9 .7-.1 .7-.5 .8-1.5 .7-1.5 .7,.5 .8-.9 .7-1.7 .7-.5 .8,.2 .7,.1 .7-.6 .8-.6 .7-.4 .8-.6 .7-1.7 .8-.9 .7-.7 .8-.4 .7-.7 .8-.5 .7,0 .8-1.3 .8-.5 .8-1 .7-1.1 .8,.3 .8-.7 .8-.7 .9,0 .8-1.4 .8-.5 .8,.2 .9-1.3 .8-.4 .9-.1 .8-.4 .9-.6 .9-.4 .8-.6 .9-.5 .9-.6 .9-1 .8-.3 .9-.4 .9,0 .9-.4 .9-.5 .9-.6 1-.2 .9-.8 .9-.2 1-.6 .9-.4 .9-.5 1,.8 .9-.4 1-1.1 1-.3 .9,.1 1-.5 .9,.1 1-.2 1,0 1-1.6 .9,.5 1,.3 1,0 1-.6 1-.4 1-.2 1,.5 1,.1 1-.8 1,.2 1,.4 1-.3 1,.2 1,.3 1-.1 .9-.4 1,1 1,.2 1,0 1-.2 1,.3 1,0 1,.2 .9,.4 1,.5 .9-.1 1,.1 .9,1 .9-.2 .9,.6 .8,.6 .9,.7 .9,.2 .8,.1 .8,.9 .9,.2 .8,.4 .8,1 .8,.8 .9,0 .8,1.4 .8,.5 .8,.8 .9,.6 .8,.1 .9,0 .9-.1 .9,1.1 .9,.8 .9-.2 1-.2 1-.3 .9-.2 .9,.2 1,.5 .9-.5 .8-.1 .8-.4 .8-.7 .8-.9 .7-.6 .6-.9 .7,0 .7-.5 .6-1.3 .7-.8 .8-.8 .7-.2 .7-.2 .7-1.1 .9-.6 .8,0 .9-1.1 .9,.1 1,.5 .9-.1 1-.9 .9-.4 1,.1 1-.1 1,.1 .9-.6 1-.3 1-.1 1,.4 1-.9 1,.3 1-.2 1-.2 1-.4 1,.1 .9-.2 1-.7 1,.9 1-.1 1,.5 .9-.1 1,.4 1,.4 .9-.3 .9,.8 1,.4 .9-.4 .9,1.7 .9,.7 .9,.2 .8,.3 .8,.8 .9,.2 .8,.8 .7,.9 .8,.1 .8,.6 .8,.8 .7,0 .8,1.1 .8,.8 .7,1 .8,.5 .8,0 .8,.9 .7,.5 .8-.2 .8,1.2 .8,.5 .7,1.5 .8,.7 .8,.6 .7,.6 .8,.4 .7,.9 .7,0 .8,1.2 .7,.7 .7-.2 .7,1.1 .7,1.3 .7,.4 .7,1.3 .7,.9 .7,0 .7,.4 .7,.8 .7,.7 .7,1.2 .7,1 .7,.6 .7,.6 .7,.4 .7,.6 .8,.4 .7,1.8 .7,.6 .8,.3 .8,.1 .8,0 .8,.6 .9,.8 .9,.5 .9,.7 .9,.1 .9,.5 .9,.3 1,.2 .9-.2 1,.2 1-.1 .9-.2 1-.3 1-.2 .9-.1 1-.1 .9-.7 .9-.5 1-.1 .8,0 .9-.7 .9-.4 .8-.4 .7-.9 .8-.2 .7-1.4 .7-1.2 .8-.7 .7-.5 .7-.6 .7-.6 .7-.4 .7-.9 .7-.8 .7-.3 .7-.8 .7-.7 .7-.8 .7-1.2 .7-.3 .7-.6 .7-.5 .7-.8 .7-1.1 .7,.1 .7-1.4 .8-1.3 .7-.2 .9-.3 .8-.1 .9-.6 .9-.3 .9-.1 1-.1 .9-1 1,.2 1-.4 1,.6 1-.3 .9-.3 1,.6 1,.1 1,0 .9,.5 1-.1 1,0 .9,.9 1,0 .9,.3 1-.1 .9,.6 .9,.4 1,.6 .9,1.2 .9-.9 .9,.1 .9,.9 .9,.7 .8,0 .9,.8 .8,.5 .8,.7 .9,.4 .8,1.8 .8,.2 .8,.4 .8-.5 .8,.6 .9,1 .8,1.4 .9-.2 .8,.6 .9,.2 .9,.5 .9-.1 .9,.2 .9,.8 .9,1.2 .9,.6 .9,0 1-.3 .9,1 1,0 .9-.2 1,.2 1,.2 1,.9 1-.4 1-.5 .9-.1 1-.5 1,.8 1-.5 1-.1 1-.5 .9-.3 1-.7 1,.4 .9,.9 1-.1 .9-.9 1-.2 .9-1 .9-.9 .9,.4 .8-.8 .9,.2 .8-.3 .8-1.7 .8-.8 .7-.5 .7-.3 .7-1 .6-.7 .7-1.3 .6,.2 .6-.6 .6-1.2 .6-1.6 .5-.4 .6,.6 .5-1.4 .5-.9 .5-2 .5-.7 .5-.5 .5-.4 .5-1.4 .5-.5 .4-.5 .5-1.2 .5-1.1 .4-.7 .4-1.4 .5-1.3 .4-1.1 .4-.2 .4-.7 .5-1 .4-1 .4-.8 .4-.1 .3-1.4 .4-1.5 .4-1.2 .4-.8 .4-.3 .3-1 .4-1.1 .3-.9 .4-1.4 .3-1 .4-.6 .3-.9 .4-.7 .3-.5 .3-1.5 .4-.8 .3-.8 .3-1.3 .3-.6 .3-.6 .4-1.9 .3-.6 .3-.6 .3-1 .3-1.7 .3-.3 .3-.9 .3-1.4 .3-1.4 .3-.3 .3-.9 .2-1.5 .3,0 .3-1.6 .3-.7 .2-1.2 .3-1 .3-.5 .2-1.1 .3-.8 .3-1.1 .2-.5 .3-1 .2-1.2 .3-1.4 .2-1.1 .2-.6 .3-.3 .2-.8 .2-1.5 .3-.9 .2-1.2 .2-1.1 .2-1 .3-1.1 .2-.8 .2,.2 .2-1.8 .2-1 .2-.9 .2-1.3 .2-.8 .2-1.4 .2-.9 .2-.4 .2-.7 .2-1.6 .2-1.3 .2-1.4 .2-.4 .2-1.2 .2-1.3 .2-.6 .2-.9 .2-1.6 .2-.2 .2-1.6 .2-1.4 .2,0 .2-1.1 .2-1.7 .2-.2 .3-.5 .2-1.5 .2-1.1 .2-.8 .2-.7 .3-1.2 .2-1.6 .2-.7 .2-1 .3-1.4 .2-.8 .2-1 .3-.6 .2-.3 .2-1.1 .3-.2 .2-1.5 .2-1.5 .3-1.4 .2-.5 .3-.8 .2-1.8 .2-1 .3-.3 .2-1.2 .3-.8 .2-.9 .3-.3 .2-2 .2-1 .3-1.2 .2-1 .3,.2 .2-.9 .2-1.3 .3-1.3 .2-1 .2-.2 .3-1.8 .2-.6 .2-.7 .3-1.7 .2-.9 .2-1.2 .2-.8 .3-.5 .2-1.1 .2-.7 .2-1 .2-2.2 .3-.3 .2-1.3 .2-1.9 .2-.3 .2-.6 .2,0 .2-1 .3-1.2 .2-1.3 .2-.8 .2-1.4 .2-.6 .2-1.3 .2-1.1 .2-.7 .3-1.3 .2,.3 .2-1.5 .2-1.6 .2-1.3 .2-1 .3-.7 .2-.6 .2-1.7 .2-.9 .2,.1 .3-1.2 .2-1.3 .2-1.2 .2-1 .3-.8 .2-.4 .2-.8 .3-1.7 .2-1.4 .2-.5 .3-1.2 .2-.5 .2-.7 .3-1.7 .2-1.8 .3-.9 .2-.4 .2-1.1 .3-.6 .2-.8 .3-1 .2-1.1 .2-1.2 .3-.6 .2-1.7 .3-.5 .2,.2 .3-1.1 .2-1.6 .2-1.3 .3-.8 .2-1 .3-.4 .2-1.5 .3-1.2 .2-1.3 .3-.5 .3-1.5 .2-.4 .3-.6 .2-1.7 .3-.7 .3-.9 .2-1.2 .3-1.3 .3-1.2 .2-1 .3-1 .3-.3 .3-1.1 .3,.1 .2-1.1 .3-1 .3-1.5 .3-.4 .3-1.3 .3-.8 .3-.9 .3-1 .3-1.6 .3-1.2 .3-.1 .4-.9 .3-1.4 .3-.7 .3-.9 .3-1.3 .4,0 .3-2.2 .3-.9 .3-.2 .4-.9 .3-.4 .3-1.2 .4-1.2 .3-1.4 .3-.3 .4-1.4 .3-1.2 .4-.9 .3-.6 .3-1.2 .4-1 .3-1 .4-1.5 .3-.7 .3,.3 .4-1.5 .3-1.1 .4,.1 .3-1.9 .3-.9 .4-.5 .3-1.7 .4-.3 .3-.8 .3-1.8 .4-.8 .3-1.2 .4,.4 .3-.6 .4-1.8 .3-1.6 .4-.6 .3-1.4 .4-.8 .3-1.1 .4-.8 .4-.5 .3-.9 .4-.8 .4-1.3 .3-.6 .4-1 .4-1 .4-.4 .4-1.3 .3-1.5 .4-.5 .4-1.3 .4-.8 .4-.7 .4-1.8 .4-1 .5-.6 .4-.3 .4-.5 .4-1.1 .5-.2 .4-1.1 .4-2 .5-.5 .4-1.1 .5-1.1 .5-.7 .4-.8 .5-.6 .4-.6 .5-.7 .5-1.5 .5-.9 .5-.3 .4-1.6 .5-.4 .5-.6 .5-1.4 .5-.4 .5-.9 .5-.9 .6-.5 .5-1.3 .5-1.6 .5-.7 .5-1 .6-.2 .5-1 .5-1.1 .6-.9 .5-.2 .6-.9 .5-.7 .6-1 .5-1.3 .6-1.1 .6,0 .5-1 .6-.7 .6-1.4 .6-.8 .5-.8 .6-.9 .6-.3 .6-.5 .6-1.2 .6-.1 .6-1.2 .6-1.8 .6-.2 .6-1.1 .6-.8 .6-.4 .6-.3 .6-.9 .6-1.4 .6-.2 .6-.9 .6-.6 .6-.6 .6-1.3 .6-1.3 .6-.4 .6-.8 .6-.9 .6-.8 .6-1.1 .6-1.1 .5-.6 .6-.5 .6-.9 .6-.5 .6-.6 .5-.9 .6-1.5 .6-1.2 .6-.7 .5-.8 .6-.1 .6-.5 .5-1.8 .6-.7 .6-.6 .5-1 .6-.8 .5-.9 .6-.8 .5-.6 .6-.6 .6-1.2 .5-.5 .6-1.1 .5-.9 .6-.7 .5-1.1 .5-.5 .6-1 .5-1.1 .6,.1 .5-1.2 .6-1.2 .5-1.6 .5-.3 .6,.1 .5-1.2 .5-1.2 .6-.4 .5-.6 .5-.8 .5-.9 .6-1.3 .5-1.2 .5-.5 .5-.6 .5-.9 .6-1.3 .5-1 .5,0 .5-1.3 .5-.8 .5-.9 .5-1.6 .5-.3 .5-1.1 .5-.1 .5-1.2 .5-1.3 .5-.7 .5-.8 .5-1 .5-.9 .5-.3 .5-1 .5-.8 .5-1 .4-.8 .5-1.3 .5-.2 .5-1.5 .4-1.6 .5-.8 .5-.7 .5-.6 .4,0 .5-1.7 .5-.6 .4-1.2 .5-.3 .4-.8 .5-.5 .5-1.5 .4-.8 .5-.7 .4-1.4 .5-1 .4-1 .5-1.1 .4-.8 .5-1.1 .4-.2 .5-.9 .4-1.4 .5-.7 .4-.6 .4-1.1 .5-.5 .4-1.1 .5-1 .4,0 .5-1.6 .4-1.2 .5-.7 .4-1.4 .4-.8 .5-.3 .4-.4 .5-1.7 .4-.8 .5-1 .4-1.1 .5-1.2 .4-.4 .4-1.6 .5-.2 .4-.6 .5-1 .4-1 .5-1.4 .4-1.2 .5-.3 .4-.5 .5-.9 .4-1.4 .4-.4 .5,0 .4-1.8 .5-1.5 .4-.8 .5,.1 .4-1.6 .5-1.2 .4-.7 .4-.9 .5-.5 .4-1.2 .5-1.4 .4-.5 .5-.7 .4-.1 .4-.9 .5-.8 .4-1.5 .5-1 .4-.8 .5-1.1 .4-1.6 .5-.3 .4-.7 .5-.4 .4-.8 .5-1.6 .4-.9 .5-1.3 .5-.2 .4-1 .5-1.6 .5-1.4 .4,.1 .5-.4 .5-1.5 .5,.1 .4-1.5 .5-.5 .5-1.4 .5-.9 .5-1 .5,0 .5-.8 .5-1.3 .5-1 .5-.9 .6-.9 .5-1.4 .5-.4 .5-.2 .6-1.5 .5-1.4 .6-1 .5-.7 .5,0 .6-.7 .5-1.6 .6-.1 .5-1 .6-.8 .6-1 .5-1.3 .6-.5 .5-.8 .6-.7 .5-.8 .6-1.4 .5-.4 .6-.9 .5-.6 .6-.5 .5-.9 .6-.8 .6-.4 .5-1.5 .6-1.3 .5-1 .6-.1 .6-1.2 .5-.6 .6-.3 .6-1.5 .5-.3 .6-1.4 .6-.6 .6-.8 .5-1.5 .6-.5 .6,.1 .6-1.2 .6-1.5 .6-.2 .6-.4 .6-1.6 .7-.6 .6-1.1 .6-1.1 .6,0 .7-.4 .6-.4 .7-1 .6-1.2 .7-.4 .6-1.3 .7-.9 .7-.5 .6-.9 .7-.7 .7-1 .6-.1 .7-.3 .7-.8 .6-.5 .7-.9 .7-1 .6-1.6 .7-.5 .7-1.1 .6,0 .7-.7 .7-1 .7-.9 .6-.9 .7-.6 .7-.7 .7-.5 .6-1.3 .7-.7 .7,.2 .7-1.7 .7-.8 .7-.7 .7-.3 .7-.3 .7-1 .7-1.1 .7-.5 .7-.2 .7-1.1 .8-.8 .7-.1 .7-1.2 .8-1.2 .7,.1 .8-.1 .8-.7 .7-.1 .8-1.7 .8-1 .8-.2 .8-1.4 .8-.4 .8,.7 .8-.5 .8-1.6 .8,.3 .8-.4 .9-1.1 .8-1 .8-.3 .9-.2 .8-.8 .9-.8 .8-.3 .9-.4 .5-.4"/>
<path id="green" d="M1400.0,1577.0l.2,1 .3,.9 .2,1.1 .3,.8 .4,.9 .6,.9 .7-.8 .4-.7 .3-.8 .3-1.2 .2-1 .2-.8 .2-1.1 .2-1 .2-1.1 .2-.8 .3-.9 .2-1 .2-1.2 .3-.6 .4-1 .8-.3 .4,1.2 .2,.8 .2,.7 .2,1 .2,.8 .2,1.3 .2,1 .1,.9 .2,1.2 .2,.7 .2,1.1 .2,.8 .2,1 .3,1 .3,1.3 .2,1.1 .3,.7 .3,1 .3,.9 .3,1 .3,.8 .5,.7 .7,0 .4-.6 .2-.6 .2-1.2 .2-1.2 .2-.7 .1-1 .2-1.2 .1-.9 .2-1.1 .2-1 .2-1.1 .2-.8 .2-.9 .6-.7 1-.5 .9-.5 1,0 1,.5 .7,.5 .5,.7 .5,.8 .5,.8 .6,1 .6,.7 .9,.6 .9-.6 .6-.8 .6-.6 .5-.7 .3-1.2 .2-1 .2-.9 .2-1.1 .1-1.3 .2-.7 .2-.8 .1-1.1 .2-1.2 .2-.9 .3-1 .5-.7 .5,1 .3,1.1 .2,.9 .3,.9 .2,.9 .2,.9 .3,.9 .3,.9 .7,.7 1,.8 .9,.2 1-.1 .7-.6 .3-1 .2-.8 .2-.9 .1-1.3 .2-.8 .1-1 .2-.8 .1-1.1 .2-.8 .2-1.2 .3-1 .6-.2 .3,1 .3,1 .2,.7 .2,1.1 .2,1 .2,.9 .2,.9 .2,1.3 .5,.8 .4-1 .1-.8 .1-1 .1-1 .1-.9 .1-1 0-1 .1-.9 .1-1.1 0-1.2 .1-1 .1-1 0-.9 .1-1.1 .1-1.2 .1-.8 0-1 .1-1.2 .1-.7 .1-1 .1-.9 .1-1.1 .3-1.1 .9,.3 .8,.7 .8,.7 .9,0 .4-.9 .2-1.1 .2-.8 .2-1.2 .2-.8 .1-.8 .2-.9 .1-.9 .2-1.4 .1-.8 .2-.8 .2-1 .1-1.3 .2-.9 .1-.7 .2-1.4 .1-.9 .1-.8 .2-1.2 .1-.9 .1-1.1 .1-1.1 .1-1 .1-.8 .1-1 .1-.9 .1-1.2 .2-1 .1-.8 .1-.9 .2-1.3 .2-.8 .1-1.1 .2-.9 .2-.9 .2-.9 .2-1.1 .2-1.3 .2-1 .1-.7 .2-1 .2-.8 .2-1 .2-1.2 .1-.8 .2-1.2 .2-1.2 .2-.5 .2-1.3 .2-.9 .2-.7 .2-1.1 .1-1.3 .2-.7 .1-1.2 .2-1.1 .1-.9 .1-.7 .1-1 .1-1 .1-1.1 .1-1.1 .1-1.1 .1-.9 0-.8 .1-1.1 0-1 0-1.1 .1-1 0-.9 .1-1 0-.9 .1-1 0-.9 .1-1.1 0-1.1 0-1.1 .1-1 .1-.8 0-1.1 .1-1 .1-.9 0-1.1 .1-1.1 .1-.8 .1-1 .1-1 .1-.9 .1-.9 .1-1.2 .1-1.1 .1-.9 .2-1 .1-1.3 .1-.7 .1-.9 .1-1 .1-1.2 .1-.8 .1-1.1 .1-1 .1-1.2 .1-.9 .1-.9 .1-1 .1-.9 .1-1 .1-.9 .1-1.2 .1-1.1 .1-.9 .1-.8 .1-.9 .1-1 .1-1.4 .1-.9 .1-.7 .1-1.1 .1-1.2 .1-.9 .1-1 .1-.9 0-1 .1-.9 .1-1 .1-1.2 .1-.9 .1-.9 .1-1.2 .1-1.1 .2-1.3 .1-.5 .1-1.1 .1-1.4 .1-1 .1-.7 .1-.7 .2-1 .1-1 .1-1.3 .1-1.2 .2-.5 .1-.8 .1-1.2 .1-.7 .1-1.4 .2-1.1 .1-.6 .1-.6 .1-1.4 0-.7 .1-1.5 .1-1 .1-1 .1-1.5 .1-.6 0-.6 .1-1.2 .1-1.1 .1-.5 0-1.7 .1-1.4 .1-.8 0-1 .1-.3 .1-1 0-1.5 .1-1.1 .1,.2 0-1.6 .1-1.6 .1-.6 0-.8 .1-1.1 0-1.4 .1-1.3 .1-.4 0-1 .1-1.6 0-.3 .1-.7 .1-1.4 0-1.2 .1-.8 .1-1.2 0-1.4 .1-.5 0-1.4 .1-.6 .1-1.4 0-.8 .1-.8 .1-.2 0-1.8 .1-1.6 .1-.8 0-1 .1-.9 .1-.5 .1-.7 0-.6 .1-1.8 .1-.1 .1-.7 0-1.9 .1-2.2 .1-.5 .1-.5 0-1.9 .1-.5 .1-.7 .1-1.3 .1-.5 0-.6 .1-1.6 .1-.9 .1-1.2 .1-1.2 .1-.7 0-.7 .1-1.3 .1-1.9 .1-.1 .1-1.4 .1-.7 .1-.1 .1-1.4 .1-1.7 0-1.3 .1-.1 .1-1 .1-1 .1-.7 .1-1.3 .1-1.3 .1-1.3 .1-1.9 .1-.7 .1-.2 .1-.8 .1-.8 .1-1.1 .1-1 .1-.7 .1-1.5 .1-1.1 .1-1.4 .1-.2 .1-.9 .1-1 .1-.5 .1-1 .1-1.5 .1-.9 .1-1.7 .1-.6 .1-.8 .1-1.7 .1-.2 .1-1.3 .1-.8 .1-1.2 .1-.6 .1-.6 .1-1.8 .1-1.6 .1-.6 .1-.4 .1-1.3 .1-1.3 .1-.6 .1-2.1 .1-.7 .1-.9 .1-.5 .1-1.1 .1-1.3 .1-.8 .1-1.3 .1-.6 .1-1 .1-1 .1-1.1 .1-.4 .1-1.1 .1-.9 .1-.9 .1-1.5 .1-.7 .2-.8 .1-1.1 .1-1.3 .1-1.1 .1-.5 .1-.3 .1-1.9 .1-1 .2-1.1 .1-.7 .1-.9 .1-.8 .1-2.4 .1-.8 .2-.8 .1-.7 .1-1.1 .1-1 .1-.5 .1-.3 .2-2.6 .1-.8 .1-.4 .1-1 .1-1.1 .1-1.5 .1-1 .1-.3 .1-.5 .1-1.4 .1-1.5 .1-.8 .1-.9 .1-.8 .1-1 .1-1.4 .1-.8 .1-1.4 .1-.4 .1-.5 0-1.9 .1-.8 .1-1.2 .1-.5 0-.7 .1-1.4 .1-.8 .1-1.3 0-1.3 .1-1 .1-.8 0-1 .1-.9 .1-1.2 0-.6 .1-.7 .1-1.5 0-1.6 .1-.3 .1-.5 0-1.4 .1-1.7 .1-.6 .1-.2 0-2.1 .1-.7 .1-.9 .1-1.3 .1-.6 .1-1.5 0-.6 .1-.4 .1-1.2 .1-1.6 .1-1.5 .1-1 .1-1.1 .1,.2 .1-1.1 .1-1.6 .1-1.2 .1-1 .1-.7 .2-1.2 .1,0 .1-1.5 .1-1.4 .1-.5 .1-.4 .1-.9 .1-1.7 .2-1 .1-.9 .1-.9 .1-1 .1-1.5 .1-1.3 .1-.5 .1-1.3 .1-.2 .2-1.1 .1-1.6 .1-.9 .1-1 .1-.9 .1-.5 .1-1.7 .1-1.6 .1-.2 .1-.8 .1-1 .1-.8 .1-1.2 .1-.7 .1-1.5 .1-.9 .1-1.2 .1-1.2 .1-.4 .1-.7 0-2 .1-1.1 .1-.3 .1-.5 .1-1.5 .1-1.1 .1-1.4 .1,.3 .1-1.1 .1-1.2 .1-1 .1-.9 .1-1.1 .1-1.4 .1-.7 .1-1.1 .1-.7 .1-1.5 .1-1.3 .1-.5 .1-.5 .1-1.4 .1-1.5 .1-.9 .1-1 .1-.2 .1-1 .1-1 .1-1.3 .1-1.5 .1-.4 .2-.6 .1-1.3 .1-1.4 .1-.7 .1-1.3 .1-.8 .1-1.4 .1-1.3 .1-.5 .1-.8 .1-.4 .1-1.6 .1-1.3 .1-1.3 .1-1.5 .1-1.1 .2-.1 .1-1.3 .1-.3 .1-.5 .1-1.6 .1-.6 .1-1.2 .1-.9 .1-1.3 .1-.8 .1-1.5 .1-.7 .1-1.2 .1-1 .2-.7 .1-1 .1-1.2 .1-.7 .1-.9 .1-1.8 .1-.6 .1-.6 .1-1.5 .1-.8 .1-1.5 .1-.2 .2-1.2 .1-1.2 .1-.5 .1-1.3 .1-.9 .1-1.5 .1-1.1 .1-1.2 .1-.7 .2-.3 .1-1.1 .1-.9 .1-1.6 .1-1.3 .1-.8 .1-.5 .1-.9 .2-1.2 .1-.8 .1-1.2 .1-1 .1-.5 .1-1.5 .1-1 .1-.3 .1-1.4 .2-1 .1-1.4 .1-.2 .1-2.2 .1-1.3 .1-.7 .1,0 .1-1 .1-1.5 .1-1.5 .1-.5 .1-.8 .1-1.4 .2-1.4 .1-1 .1-.4 .1-.7 .1-1.1 .1-1.1 .1-1.7 .1-.5 .1-1.1 .1-.8 .1-.7 .1-1.3 .1-1.3 .1-.3 .1-.9 .1-1.5 .1-2.1 .1-.2 .1-.3 .1-.7 .1-1.6 .1-1.3 .1-.9 .1-.4 .1-1.6 .1-.9 .1-1.1 .1-.7 .1-1.5 0-.6 .1-1 .1-1 .1-.7 .1-.6 .1-2 .1-.4 .1-.7 .1-1.4 .1-.5 .1-1.2 .1-.8 .1-1.5 .1-1.4 .1-.3 .1-.2 .1-1.5 .1-1.1 .1-1.5 .1-1.6 .1-.7 .1-.1 .1-2 .2-1 .1-1.4 .1-.4 .1-.4 .1-1.7 .1-1 .1-.2 .1-1.2 .1-1.7 .1-1.2 .1-1.3 .2,0 .1-1.1 .1-.6 .1-.7 .1-1.7 .1-1.2 .2-.4 .1-1 .1-1.1 .1-1.7 .2-.3 .1-1.3 .1-1.8 .1-.6 .2-.3 .1-.2 .1-1.6 .1-1.8 .2,.2 .1-1.2 .1-1.5 .2-1.4 .1-1.1 .1,0 .2-1.2 .1-1.4 .1-1 .2-.2 .1-1.5 .1-.9 .2-.9 .1-1.1 .2-1.4 .1-.6 .1-.4 .2-1.4 .1-1.6 .1-1.3 .2-.5 .1-.9 .2-1 .1-.9 .2-1.6 .1-.3 .1-.9 .2-1.2 .1-.9 .2-.7 .1-1.2 .1-1.5 .2-.3 .1-1.3 .2-1.4 .1-1.3 .2-.5 .1-1.2 .1-.9 .2-.6 .1-1 .2-.6 .1-1.1 .2-1.4 .1-1.1 .1-1 .2-.6 .1-1.1 .2-1.2 .1-.6 .2-1.1 .1-1.3 .1-1.5 .2-.4 .1-.7 .2-1.1 .1-1.2 .1-1.3 .2-.8 .1-.7 .2-1.1 .1-1 .2-1.1 .1-.8 .1-.9 .2-1.3 .1-.6 .2-.7 .1-1 .1-1.4 .2-1.1 .1-1.4 .2-.4 .1-1.8 .2-.8 .1-.7 .1-.5 .2-1.1 .1-1.5 .2-1.4 .1-.8 .2-.5 .1-.9 .1-1.1 .2-1.2 .1-.9 .2-.4 .1-1.6 .2-.9 .1-.2 .2-1.2 .1-1.5 .2-.7 .1-1.4 .1-.9 .2-.3 .1-.6 .2-2.3 .1-.7 .2-.1 .1-1.7 .2-1.1 .1-.4 .1-1.5 .2-1 .1-1 .2-1.8 .1-.4 .2-.9 .1-.6 .1-.4 .2-1.3 .1-1.6 .2-.9 .1-.9 .2-.7 .1-1.8 .1-1.3 .2-1.3 .1-.1 .2-.8 .1-1.4 .2-1.1 .1-.9 .2-1.1 .1-.8 .2-1 .1-.3 .2-1.1 .1-1.6 .2-1.1 .1-.2 .2-1 .1-1.2 .2-.8 .1-.6 .2-1.9 .1-1.3 .2-1.3 .1-.3 .2-1 .2-1.2 .1-1.1 .2-.4 .1-1.1 .2-1.3 .2-.3 .1-1.6 .2-1.4 .2,.4 .2-1.5 .1-1.5 .2-1.1 .2-.8 .2-.5 .1-.8 .2-1.1 .2-1.3 .2-1.6 .2-.5 .2-.2 .2-1 .2-1.5 .2-.8 .2-1.3 .2-1.1 .2-1.3 .2-.9 .2-.6 .2-1 .2-.7 .2-.4 .2-1 .3-1.7 .2-1.4 .2-1 .2-1.1 .2-.6 .2-.7 .2-1 .3-1 .2-1 .2-1.1 .2-1.3 .2-.1 .2-.8 .2-1.9 .2-1.3 .3-.8 .2-.7 .2-.4 .2-.9 .2-1 .2-.9 .2-1 .2-1.1 .1-1.2 .2-1.2 .2-1.7 .2-.6 .2,0 .2-1.6 .2-1.4 .2-.4 .1-1 .2-1.4 .2-.3 .2-1 .2-1.1 .2-1.4 .1-.8 .2-.9 .2-.8 .2-.8 .2-.9 .1-1.4 .2-.9 .2-1.6 .2-.6 .2-.7 .2-1.4 .1-1.3 .2-.8 .2-1.3 .2-.5 .2-.8 .2-1.5 .2-.8 .2-.4 .2-.8 .2-1 .2-1.4 .2-1.3 .2-1 .2-.6 .2-.1 .2-1.1 .3-1.1 .2-1 .2-2.1 .2-1 .3-.8 .2-.4 .2-.5 .3-1.8 .2-1.1 .2-.6 .3-1.3 .2-1.2 .3-1 .2-.4 .3-1.4 .2-.5 .2-1 .3-.9 .2-.5 .3-1.7 .2-1.4 .3-.5 .3-1.4 .2-1.1 .3-.6 .2-.8 .3-1.5 .2-.8 .3-.5 .2-.5 .3-2.1 .2-.3 .3-.5 .2-1.8 .3-1.5 .3-.3 .2-1 .3-.8 .2-.6 .3-1.4 .3-.9 .2-.8 .3-.7 .3-.6 .3-.8 .2-1.6 .3-1.3 .3-.1 .3-1.2 .3-1.3 .2-1.6 .3-.5 .3-1.2 .3-1.1 .3-1.2 .3-.8 .3-.6 .4-1.4 .3-1 .3-.6 .3-1.2 .3-1.2 .3-.7 .4-1.1 .3-.3 .3-1.2 .3-.6 .4-.6 .3-1.7 .3-.8 .4-.9 .3-1.3 .3-.8 .4-.7 .3-.6 .4-.7 .3-1.7 .3-1 .4-.5 .3-.5 .4-2.2 .3-.1 .3-.9 .4-.5 .3-1.4 .4-1.5 .3-.6 .3-.4 .4-1.2 .3-2 .4-.2 .3-1.3 .3-1.1 .4-.9 .3-1.2 .4-.9 .3-.7 .4-.8 .3-.6 .3-1 .4-1.4 .3-.6 .4-.3 .3-.7 .4-1.3 .4-.9 .3-.7 .4-.7 .3-.8 .4-1.6 .4-1.2 .3-.3 .4-.6 .4-.9 .4-2.4 .4-.8 .4-1.7 .3,.1 .4-.5 .4-1 .4-1 .5-.4 .4-1.3 .4-.7 .4-.8 .4-1.1 .5-.9 .4-1 .5-1.4 .4-.4 .5-.6 .4-1.2 .5-.7 .5-.7 .4-1.6 .5-.8 .5-.8 .5-1.1 .5-.5 .5-1.1 .5-.9 .4-.6 .5-.7 .5-.9 .5-.1 .5-1.6 .5-1 .5-1.3 .6-.5 .5-.3 .5-.7 .5-1.6 .5-1 .5-.2 .5-1.2 .5-.6 .5-1.5 .6-.2 .5-.6 .5-1.1 .5-1.5 .5-.8 .6-.6 .5-.8 .5-.9 .6-1 .5-.7 .5-.3 .6-2 .5-1.1 .6-.8 .5-.5 .6-1.1 .5-.2 .6-.6 .5-1 .6-1.1 .6-.6 .5-.6 .6-.8 .6-1.2 .5-.5 .6-1.4 .6-.1 .6-2 .5-.6 .6-.6 .6-.2 .6-1.4 .5,.1 .6-1.5 .6,0 .6-.9 .6-1.2 .5-.7 .6-.1 .6-1 .6-2.2 .6,0 .6-.6 .6-1.7 .5-.2 .6-1.1 .6-.6 .7-.5 .6-1.1 .6-.5 .6-1.2 .5-.6 .6-.9 .6-.7 .7,.1 .6-1.1 .7-1.5 .7-.5 .7-.8 .7-.4 .7-.5 .8-.6 .9-.4 .9-.5 1-.2 .9-.2 .9-.7 .8-.6 .5-.8 .5-.8 .4-.8 .4-1.1 .6-.9 .9-.4 .7,.7 .4,1 .5,1.1 .4,.9 .4,.8 .4,.7 .5,1 .8,.7 1-.1 .9-.4 .8-.5 .7-.7 .7-.7 .6-1 .6-.6 .6-1.2 .6-.9 .6-.3 .6-1 .6-1.6 .7,.1 .6-.4 .7-.7 .6-1 .7-.8 .6-.9 .7-1 .7,0 .6-1 .7-1.1 .7-.8 .7,.2 .7-.7 .7-1.4 .7-.7 .7-.5 .7-.4 .7-1.6 .7-.2 .8-.7 .7-1 .7-.6 .8-.2 .7-.1 .8-1.2 .7-.7 .7-1.2 .8-.4 .7-.3 .8-1.5 .7-.7 .7,0 .8-1.4 .7-.6 .8-.1 .7-1.3 .8-.6 .7-.3 .8-.2 .7-1.4 .7-.1 .8-.6 .7-.4 .8-.6 .7-.9 .8-.8 .7-1.5 .8-.8 .8-.5 .7-.4 .8,0 .7-1.5 .8-.5 .7-.8 .8-1 .7,.5 .8-.7 .7-.3 .8-.5 .7-1.6 .8-1.3 .8,.7 .7-1 .8-1.4 .7,0 .8-.6 .7-1 .8-.7 .7-.4 .8-.6 .8-.4 .7-1 .8-.8 .7-.3 .8-.6 .8-.4 .7-1 .8-.8 .8-1 .7,.2 .8-1.3 .8-.5 .8-.8 .7-.4 .8-.2 .8-1.5 .8-.5 .8-1 .7,.4 .8-.8 .8-1.4 .8-.5 .8,.3 .8-.2 .8-.6 .8-1.5 .8-.7 .8,.2 .8-1.2 .8-.8 .8-.8 .8-.8 .8,.3 .8-.4 .8-.8 .8-.5 .8-.4 .9-.3 .8-1 .8-1 .9-.8 .8,.1 .9-.8 .8-1.1 .9-.3 .8-.2 .9-.1 .8-.3 .9-1.2 .9-.8 .8-.3 .9-.7 .9-.3 .9,0 .8-.6 .9-1.2 .9-.5 .9,.5 .9-.9 .9-.2 .8-.2 .9-.9 .9-.8 .9-.1 .9-.7 .9-.3 .9-.3 .9-.7 .9-.4 .9-.4 .9-.8 .9-.1 .9-.5 .9-.9 .9-.1 .9-.1 .9-.6 .9-1 .9,.4 .9,0 1-.4 .9-.5 .9-1.1 .9-.1 .9-.6 .9,.6 1-.9 .9-.3 .9-1.1 .9-.6 1-.1 .9,.3 .9-.3 1-.5 .9-1.2 .9,.5 1-.7 .9,.3 .9,.2 1-.7 .9-.5 1-1.2 .9,.8 .9-.6 1-.4 .9-.9 1-.4 .9-.6 1-.1 .9-.1 1-.2 .9,.2 1-.5 .9-.5 1-.5 .9,.4 1-.9 .9-.1 1-1.2 .9-.4 1,.3 .9-.3 1,.8 .9,.1 1-2 .9-.8 1,.2 .9,.5 1-.2 .9-.7 1-1.1 1-.3 .9-.9 1-.1 1,.7 .9,.2 1-1 1-.1 .9,.6 1-.5 1-.7 1,.1 .9-.1 1-.4 1-.5 1-.2 1,0 .9-.4 1,.5 1,0 1-.2 1,.2 1-.2 .9-.3 1-.6 1-.5 1,.7 1-.9 1-.7 1-.2 .9,.2 1,.1 1,.1 1-.6 1-1 1,.4 1,.4 .9-.4 1-.4 1,.1 1,.3 1-.6 1-1 1-.1 .9,.2 1-.8 1,.6 1-.4 1,.1 1-.1 1-.4 .9,.5 1-.7 1-.6 1,.2 1,.2 1-.4 .9-.7 1,.3 1,0 1,.4 1-.8 1-.4 .9-.4 1-.7 1,.2 1,.4 1-.8 .9-.4 1-.3 1,.7 1-.5 1-.1 .9-.5 1-.1 1-.3 1-1 1,.5 1,.4 .9-1.1 1,.1 1,.1 1-.5 1,.1 1-.7 1,.4 1,.6 .9-.9 1-.1 1,.6 1-.3 1-.6 1-.4 1,.3 1-.1 1,.2 1-.8 1,.5 1-.2 1,.1 1-.5 1-.5 1,.1 1-.1 1,.1 1,.4 .9,.2 1-.3 1-.5 1-.2 1,.4 1,.3 1-.6 1-.2 1-.3 1,.2 1,.4 1-1.4 1,.5 1,.1 1-.9 1,.7 1,.2 1,0 1-.6 1,1 1-.3 1-.6 1,.6 1-.1 1-.1 1,.1 1-1.3 1,.9 1-.3 1-.1 1,.3 1-.6 1,.1 1,.2 1-.3 1,.1 1-.8 1-.3 1,0 1,.6 1,1.5 1-.9 1-.8 1-.1 1,.4 .9,0 1-.9 1,.5 1-.2 1,.1 1-1 1-.4 1,.8 1-.7 1,.4 1,.2 1-.2 1,0 1-.2 1,0 1-.5 1-.1 1,1.1 .9-.4 1-.6 1-.3 1-.6 1,0 1-.2 1,.2 1-.7 .9-1 1,.3 1,.6 1,.7 1-.5 1-1.2 .9-.2 1-.4 1,0 1-.4 .9-.6 1,.5 1,0 1-.5 .9-.1 1,.5 1-.7 .9-.8 1,.1 .9-1 1,.2 1-.5 .9-.5 1,0 .9,.5 1-1 .9-.1 1-.2 .9-1.1 1,.3 .9-.7 1-.8 .9-.2 .9-.2 1,.2 .9-.6 1,.3 .9-.5 .9-.9 1-.6 .9,.1 .9-1.1 1-.8 .9,.1 .9,.4 .9-.3 1-.5 .9-.5 .9-1.2 .9-.1 .9-.6 .9,.4 1-.3 .9-.6 .9-.2 .9-.3 .9-.5 1-.3 .9-.7 .9-.8 1,.2 .9,.3 1-.3 .9-.9 .9-.2 1-.6 .9-.1 1-.6 .9-.2 1,.6 1-.5 .9-.2 1-1 .9-.6 1,0 1,.1 1-.4 .9,.1 1-.6 1,.3 1,0 1-1.1 .9,.2 1-.2 1,.2 1-.6 1-.1 1,.1 1-1.4 1-.3 .9,.8 1,.1 1,.2 1-.2 1-.9 1,.3 1-.3 1-.1 1-.1 1,.1 1-.6 1-.3 .9-.5 1,1.4 1-.6 1-.6 1-.2 1,0 1,.1 1,.3 1-.1 1-.1 1-.4 1,0 1,.4 1-.3 1-.2 1-.9 1,.5 1,.2 1,.2 1-1.4 .9,.3 1,.2 1,0 1-.4 1,.1 1,.2 1-.3 1-.4 1-.1 1-.2 1,0 .9-.4 1-.8 1,.9 1-.9 1-.1 .9-.4 1,0 1-.3 1,0 .9-.5 1-.5 .9,.2 1,.4 1-.5 .9-.5 1-.8 .9-.1 1,0 .9-.6 1,.1 .9-.4 1-.3 1-.5 .9-.5 1,0 .9-.1 1-.3 .9-.8 1-.4 .9,0 1-.9 1,.5 .9-.1 1-.5 .9-.6 1,.1 .9-.4 1,.3 .9-.5 1-1.3 .9,.3 1-.5 .9-.5 1-.2 .9-.2 1-.2 .9,0 1-.4 .9-.8 1-.8 .9-.2 .9,.2 1,0 .9,.1 1-1.4 .9-.3 .9-.2 1-.5 .9-.2 1-.4 .9-.4 .9-.5 1,0 .9,0 .9,0 .9-1.1 1-.9 .9-.2 .9-.5 1,.3 .9-.8 .9-.3 .9-.8 .9-.3 1,0 .9,.2 .9-1 .9-.4 .9-1.1 .9-.5 1-.1 .9-.2 .9,0 .9-.2 .9-1.3 .9,.1 .9-.7 .9,.4 .9-.5 .9-.7 1-.6 .9-.4 .9-.4 .9-.7 .9,.1 .9-.4 .9-.3 1-.6 .9-.2 .9-.9 .9,1.1 .9-1.3 1-1 .9,.2 .9-.1 .9-1.1 1-1 .9-.4 .9-.2 1-.2 .9-.1 .9,.2 .9-.2 1-1 .9-.2 .9,0 1-.1 .9-.9 .9-.9 1,.1 .9,.2 .9-1 .9,.2 1,0 .9-1.2 .9-1.2 1-.2 .9-.1 .9,.1 1-1.1 .9,.9 1,.3 .9-1.6 .9-1.3 1,.1 .9,.2 .9,0 .9-.4 1-.8 .9-1.2 .9,.2 1,.2 .9-.8 .9-.4 .9-.3 .9-.6 .9-.8 .9,0 .9-.9 .9,.4 .9-.9 .9-.3 .9-.7 .9-.2 .9-.5 .8-.3 .9-.9 .9-1 .9-.1 .8-.3 .9-1 .9-.4 .8-.7 .9,0 .9-.4 .8-.4 .9,.6 .9-1 .8-.9 .9-.3 .9-.8 .9-.8 .8,0 .9-.1 .9-2 .8-.1 .9-.1 .9-.6 .9,.1 .8-.8 .9-.3 .9-.8 .8-.7 .9,0 .9-.9 .9-.5 .8-.7 .9-.6 .9,.2 .9-.3 .8-1.1 .9-.8 .9,.9 .9-1 .9-1.1 .8,0 .9-.7 .9-.5 .9,.1 .9-.2 .9-.9 .9-.1 .9-.7 .9-.8 .9-.3 .9-.5 .9-.2 .9-.4 .9-.8 .9-.3 .9-.5 .9-.6 .9-.2 .9,.1 .9-.5 1-.2 .9-.1 .9-1 .9-.9 .9-.6 .9,0 .9,0 1,0 .9-1.4 .9,0 .9-.1 .9,0 1-.9 .9-.7 .9-.7 .9-.3 1-.3 .9-.4 .4,.1"/>
<path id="darkred" d="M1400.0,1571.7l.4,1.1 .5,.5 .5,.8 .6,.7 .7,1.2 1,.6 .8,.5 .6,.6 .1,1 .1,.7 .1,1.3 .1,.7 .1,.9 0,1.1 .1,.9 0,1.2 .1,1 0,.9 .1,1 .1,1.2 0,.9 .1,.9 0,1.1 .1,.8 .1,1 0,1.2 .1,1.1 .1,.9 .1,.8 .4,.5 .2-1.1 .1-1 .2-1 .1-1 .1-1.1 .1-.9 .1-1.1 0-1 .1-1 .1-1 .1-.9 .1-.9 .1-1.1 .1-1 .1-.9 .1-.8 .1-1 .1-1.6 .2-.6 .3-1.2 .2-1.1 .3-.7 .3-1.1 .3-.6 .3-.9 .4-1.2 .4-1 .8-.4 1-.1 1-.2 1,0 .9-.3 .8-.7 .7-.8 .6-.8 .9-.6 .9,.1 .6,1.3 .5,.7 .4,.8 .5,1 .6,.8 .5,.8 .5,.9 .5,.7 .6,1 .8,0 .4-1.1 .3-.8 .3-1 .3-1.2 .3-.8 .4-.9 .7-.4 1,.1 1,.3 .9,.1 .8,.6 .6,.8 .5,1 .5,.7 .7,.4 .7-.4 .5-.4 .3-1 .4-1.1 .5-.6 .8-.1 .4,.7 .4,1.1 .3,.9 .2,.9 .3,.9 .3,1 .5,1 .6-.2 .2-1 .1-.7 .1-.7 .1-1.5 .1-1 .1-.7 .1-1.1 .1-1.2 .1-.8 0-1.1 .1-1.1 .1-1 .1-1.1 .1-1.2 .1-.5 .1-.8 .1-1.1 .1-1.2 .2-.9 .3-1 .3-1.2 .3-1 .4-.6 .7-.6 .5,.7 .4,.9 .3,1.2 .3,.8 .6,.9 .8-.4 .5-1.2 .4-.9 .4-.8 .3-.9 .3-.9 .4-.8 .4-.9 .3-1.2 .4-1 .2-1 .3-1 .2-.8 .1-1.3 .1-.8 .1-.9 0-1 .1-1.2 0-.9 0-1 .1-.9 0-1.3 .1-.9 0-.7 0-1.2 .1-1.1 0-.7 .1-.7 0-1.2 .1-1.1 0-1 .1-1 .1-1 .1-1.2 .2-.9 .2-.8 .1-1.2 .3-.9 .2-.8 .3-.9 .2-1.1 .3-.8 .2-1 .3-1.2 .4-1.2 .3-.8 .3-.8 .3-1 .3-1 .3-.7 .2-1 .3-.9 .2-1.3 .3-.9 .2-.8 .2-1.2 .2-.7 .1-1.3 .2-1.1 .1-.6 .1-1.4 .1-.8 0-1.1 .1-1.1 .1-.8 0-1 .1-.9 0-1.1 0-1 .1-1.1 0-.9 .1-1.3 0-.7 .1-.9 0-.9 0-.9 .1-1.4 0-.9 .1-1 0-1.1 0-.8 .1-.9 0-1.1 .1-1 0-1 0-1.2 .1-1 0-.8 .1-1.2 0-1 .1-.8 0-1 .1-1.2 0-.8 .1-.8 .1-1.3 0-1.2 .1-.8 .1-1 .1-1 .1-1 .1-1.1 .1-.9 .1-.9 .1-1.1 .1-.8 .1-.9 .1-1.1 .1-1.1 .2-.8 .1-1.3 .1-1.1 .1-.9 .2-.9 .1-.9 .2-1 .1-1.2 .2-.8 .1-.8 .2-1.2 .2-.9 .1-1.1 .2-1 .2-1 .2-.7 .2-1.2 .2-1 .2-.9 .2-1.1 .2-1 .2-.9 .2-.7 .2-1.3 .2-1 .2-.9 .1-1 .2-.8 .2-1 .1-1.2 .2-.8 .2-.8 .1-1.4 .2-.8 .1-.8 .2-1.2 .1-1.2 .2-.7 .1-.9 .2-1.4 .1-1 .1-.4 .2-1.4 .1-1.6 .1-.7 .1-.7 .2-.7 .1-1.3 .1-.4 .1-1.4 .1-1.1 .1-.6 .1-1.2 .1-2 .1-.3 .1-.7 .1-1.4 .1-.5 .1-.8 .1-1.5 .1-1.5 .1-1.3 .1-.5 .1-.9 .1-.9 .1-1.8 .1-.5 .1-1 .1-.9 .1,.2 .1-1.5 .1-.9 .1-1.1 .1-1 .1-1.1 .1-1.2 .1-.6 .1-1.7 .1-1.1 .1-.5 .1-.9 .1-.3 .1-1.5 .1-1.4 .1-.8 .1-1.6 .1-.2 .1-1.2 .1-.9 .1-1.4 .1-1.5 .1-.6 .1-.8 .1-.7 .2-1.3 .1,0 .1-1.4 .1-1.9 .1-.8 .1-.2 .2-1.2 .1-1.7 .1-1 .1-.4 .2-.5 .1-1.7 .1-.6 .2-1.4 .1-.3 .1-1.4 .2-1.8 .1-.7 .2-.8 .1-.6 .2-.8 .1-1.1 .2-1.7 .1-.8 .2-1 .1-.9 .2-1.1 .1-1.2 .2,.3 .1-1.6 .2-2 .1-.7 .2-.2 .1-1 .2-1.6 .1-.5 .2-.2 .1-2.2 .2-1 .1-.5 .2-.7 .1-1.2 .2-.9 .1-1.7 .2-.3 .1-1.5 .2-1.8 .1-.4 .1-.7 .2-1.3 .1-1 .2-.6 .1-1.2 .1-1.2 .2-.4 .1-.9 .1-1.6 .2-.9 .1-1.1 .1-.7 .2-.7 .1-.8 .2-1.4 .1-1 .1-1.3 .2-.5 .1-.9 .2-1.3 .1-.9 .1-1.7 .2-1 .1-.5 .2-.3 .2-1.5 .1-1 .2-.5 .1-1.5 .2-.9 .2-1.2 .2-.1 .1-1.3 .2-1 .2-1.5 .2-.9 .2-1.1 .2-.4 .2-1.7 .2-.1 .2-1.1 .2-1.2 .2-1.3 .2-.9 .2-.8 .2-1.1 .2-.9 .2-1.5 .2-1.9 .2,.2 .2-1.3 .2-.5 .2-1.4 .2-1 .2,.3 .2-.8 .2-1.7 .2-1.5 .2-.5 .2-1.9 .2-.1 .2-1.2 .1-1.4 .2-.7 .2-1.1 .2-1.1 .2-.4 .1-1 .2-1.5 .2-.6 .2-.7 .1-.9 .2-1.4 .2-1.3 .1-.4 .2-1.1 .2-.8 .1-1.7 .2-1.3 .2-.4 .1-.7 .2-.9 .2-.7 .2-.8 .1-1.6 .2-1.1 .2-.6 .2-1.1 .2-1.2 .1-.2 .2-1 .2-2.2 .2-1.1 .2-.7 .2-.1 .2-1.9 .2-.7 .2-.8 .2-1.3 .2-.6 .2-1.2 .2-1.6 .2-1.1 .2,.1 .2-1.3 .2-.6 .3-1.1 .2-1.9 .2-1.2 .2-.2 .2-.2 .2-1.4 .2-1.4 .2-1 .2-.9 .2-.9 .2-1.1 .2-1.1 .2-1 .2-.9 .2-1.3 .2-.7 .1-.5 .2-1 .2-1.6 .2-.3 .2-.4 .2-2.2 .2-.4 .1-.6 .2-1.6 .2-1.8 .2-.2 .2-.3 .2-1 .2-.9 .1-1 .2-1.4 .2-.8 .2-.7 .2-1.3 .2-1.7 .2,0 .2-1.3 .2-1.8 .2-.2 .3-.5 .2-1.2 .2-1.2 .2-.7 .2-1.7 .2-.9 .3-1.1 .2-.5 .2-1.1 .3-.1 .2-1.4 .2-1.8 .3-1.4 .2,.2 .2-.4 .3-1.6 .2-1.3 .2-.7 .3-1.3 .2-2.4 .2-.7 .3-.1 .2-.6 .3-.8 .2-.9 .2-1.6 .3-1.1 .2-.8 .2-.5 .3-1.7 .2-1.1 .2-.2 .3-1.1 .2-.9 .2-1.7 .3-.4 .2-.3 .2-1 .2-1.2 .2-1.1 .3-1 .2-.9 .2-.3 .2-.9 .2-1.7 .2-1.2 .2-1 .3-1.4 .2-.6 .2-1 .2-.6 .2-1.3 .2-1 .2-.7 .2-1.4 .3-.7 .2-1.4 .2-.8 .2-1.2 .2-1.3 .3-.5 .2-1.1 .2-1.5 .3-.9 .2-.8 .3-.5 .2-1.5 .3-1 .2-.4 .3-.3 .2-1.6 .3-.9 .3-.4 .3-1.1 .2-.7 .3-1 .3-1.8 .3-.2 .3-1 .3-.2 .3-1.5 .3-.9 .3-1 .3-1.4 .3-1.2 .3-.7 .3-.7 .4-1.4 .3-1 .3-.8 .3-1.1 .3-.2 .3-.8 .4-2.2 .3-.5 .3-.7 .3-.7 .4-1.4 .3-1.2 .3-.8 .4-1.3 .3-.7 .4-.1 .3-.8 .4-.9 .3-1.5 .4-1.3 .3-1.4 .4-.4 .3,.1 .4-.8 .4-1.2 .3-.8 .4-1.1 .4-1.2 .4-.7 .5-1.6 .4-1.3 .4-.7 .4-1.2 .5-.1 .4-.6 .5-.9 .4-1.1 .5-.9 .4-1.2 .5,.1 .4-.7 .5-1.1 .5-.7 .4-1.4 .5-.8 .4-.9 .5-1 .5-.8 .4-.8 .5-1.5 .5-.1 .5-1.4 .4-.8 .5-.9 .5-1 .5-1 .5-.8 .5-.7 .5-.4 .5-.7 .5-1.3 .5,.2 .5-1.5 .5-1.1 .5-.9 .5-.7 .6-1.5 .5-.8 .5-1.1 .5-.5 .5-.7 .6-.5 .5-1.1 .5-.5 .6-1.1 .5-.1 .5-1.4 .6-.9 .5-1.4 .6-.6 .5,.2 .6-2.2 .5-.3 .6-.6 .5-1.2 .6-.3 .6-1.4 .6-1 .6-.6 .6-.2 .6-1.4 .6-.7 .6-.6 .6-.8 .7-.3 .6-1.5 .7-.8 .7-.6 .8-.1 .7-.1 .8-1.1 .7-.7 .8-.6 .8-.9 .9-.7 .8-.9 .8,.6 .8-.9 .8-1 .7-.5 .8-.8 .7-.8 .8-.5 .7-.4 .7-.9 .7-.3 .8-1.5 .7-.4 .7,0 .7-.9 .8-1.4 .7-.3 .7-.9 .7-.3 .7-.2 .8-.3 .7-1.6 .8-.8 .8-.5 .9-.2 .9-.1 .9-1.3 .9,.2 .9,.4 .9-1.7 1-.1 .9-.3 1-.4 .9-.4 .9,.2 1-.2 .9-.7 .9-.4 .9,.3 .9-1.3 .9-.8 .8-1.1 .9-.2 .8-.1 .9-1 .8,.2 .8-.5 .8-.9 .9-.9 .8-.1 .8-.7 .8-.2 .8-1.1 .9-.4 .8-.6 .8-.1 .8-.9 .9-.3 .8-.7 .8-.9 .8-.2 .9-.4 .8-.6 .9-.5 .8-.2 .9-.9 .9-1.3 .9,0 .8,.1 .9-.9 1-.2 .9,0 1-.4 1-.3 1-.2 .9-.1 1,0 1-.3 1-.1 .8,.7 .3,1.2 .3,.7 .2,1 .2,.9 .2,.8 .3,1 .7,1 .9-.3 1-.6 .9-.2 .9-.3 1-.5 .9-.7 .9-.5 .9-.2 .9-.7 .9-.1 .8-.9 .9-.7 .9,.7 .9-.8 .9-1.2 .8-.3 .9,0 .9-.4 .8-.9 .9-.4 .8,0 .9-1.1 .9-1.2 .8-.3 .9-.5 .8-.4 .9,0 .8-1.8 .8,.2 .9,.5 .8-.2 .9-1 .8-1.6 .8-.3 .8-.4 .9-.8 .8-1.2 .8,.2 .8-.1 .8-1.1 .8,.6 .8-1.7 .8-.4 .8-1.1 .9-.6 .8-.2 .8-1.3 .8-.1 .8-1.1 .8,0 .8-.2 .9-.3 .8-1 .8-.6 .9-1 .8-.3 .8-.4 .9-.6 .8-.6 .9-.9 .9,0 .8-.5 .9-1 .9,0 .8,.2 .9-1.1 .9-1.1 .9,.2 .8-.5 .9-.3 .9-.7 .9,.1 .9-.3 .8-1.6 .9-.7 .9,0 .9,.3 .9-.8 .8-.2 .9-.6 .9-.6 .9-1.4 .9,0 .8-.4 .9-.7 .9-.6 .9-.7 .8-.1 .9,.2 .9-.8 .9-.9 .8-.5 .9-.7 .9-.3 .9,0 .8-.4 .9-.5 .9-.6 .9-.5 .8-1 .9,.3 .9-1 .9-.6 .8,0 .9-1.5 .9,.4 .9-.4 .9-.9 .9-.2 .8-.3 .9-.4 .9,0 .9-1 .9-.8 .9-1 .9,.2 .9,.3 .9-.6 .9-1.3 .8-.6 .9-.5 .9,.3 .9,.1 .9-1 .9-.9 .9-.4 .9-.8 .9,.1 .9-.3 .9,.3 .9-1.1 .9-.5 .9,.1 .9-.7 .9-1 .9,.2 .9-.2 1-.7 .9-.9 .9-.4 .9-.7 .9-.5 .9,.1 .9-.1 .9-.2 .9-.2 .9-.9 .9-1.3 1,.3 .9-.1 .9-.8 .9-.3 .9-.1 .9-.3 1-.8 .9-.2 .9-1.3 .9-.6 .9,.5 1-.4 .9,0 .9-.5 .9-.6 1-.4 .9-.7 .9,.1 .9,0 1-.5 .9-.3 .9-1.2 1,0 .9-.2 .9,.1 1-1.1 .9-.1 .9-.5 .9-.3 1-.5 .9-.5 .9-.4 .9-.3 1-.3 .9-.9 .9-.4 .9-.5 .9,.2 1-.4 .9-.4 .9-.8 .9-.3 .9-.1 .9-.3 .9-.2 .9-.1 1-.7 .9,.4 .9-1.2 .9-.3 .9-1.5 .9-.7 .9,.3 .9-.5 .9-.1 1-.6 .9-.9 .9,.4 .9-.4 .9-.6 .9-.7 1-.1 .9-.2 .9-.8 .9-.6 1-.1 .9-.6 .9-.5 .9,0 1-.2 .9-.1 .9-.4 .9,.1 1-1.1 .9-1 .9-.5 1-.4 .9,0 .9-.3 1-.7 .9,.3 .9-.1 .9-1 1-.8 .9,.6 .9-.7 1-.5 .9-.6 .9,.1 1-.8 .9,.2 1,.2 .9-1.3 .9,.2 1-.2 .9-.5 .9,.1 1-.9 .9-1 .9,.2 1-.6 .9-.1 .9-.2 1-.8 .9,0 .9-.4 .9-.8 .9,0 1-.8 .9,.1 .9-.4 .9-.6 .9-.2 .9,.2 .9-1.4 .9,.1 .9-.4 .9-.4 .9-.7 .9-.6 .9-.6 .9-.6 .9,.1 .8-1.2 .9,.5 .9-.6 .9-.8 .9-.5 .8-.1 .9-.9 .9,0 .9-.6 .9-.8 .9-.6 .8,.2 .9-1.5 .9-.7 .9-.1 .9-.6 .8,0 .9-.6 .9-.6 .9-.5 .9-.9 .8-.3 .9-.4 .9,.3 .9-.1 .9-.6 .8-1.4 .9-.6 .9-.9 .9-.7 .9,.1 .8-.6 .9-.2 .9,0 .9-.6 .8-.9 .9-.3 .9-.2 .9-.6 .9-.8 .8-.7 .9,.1 .9-.1 .9-.9 .9-.6 .8-.4 .9-.6 .9-.2 .9-.3 .9-1.3 .9-.7 .9,.5 .9-.4 .9-.6 .9-.6 .9,0 .8-.7 .9,0 1-.5 .9-1.2 .9,.2 .9-.6 .9-.3 .9-1.1 .9-.5 .9,.6 .9-.4 .9-.8 .9,.1 .9-1.1 .9-.2 .9-.7 .9-.8 .9-.5 .8,.1 .9-.9 .9,.1 .9-.7 .9-.6 .8-.8 .9-.3 .8-.3 .9-.9 .9,.1 .8-.2 .8-.6 .9-.9 .8-1 .8,0 .8-1 .9-.3 .8-1.3 .8-.2 .8-.3 .8-1 .8-.2 .9-.4 .8-1 .8-.2 .8-1.5 .8,0 .9-.5 .8-.5 .8-.5 .8,.4 .9-.9 .8-.8 .8-.7 .9-.2 .8-.5 .9-1.3 .8-.7 .9-.8 .8,.9 .9-.8 .8-1 .8-.4 .9,.1 .8-1.3 .9,0 .8-.5 .9-1.6 .8,.2 .8-.6 .9-1 .8-.2 .8-.5 .8-.6 .9-1.6 .8,.1 .8-.1 .8-1.1 .8-.8 .8-.4 .8-.4 .8-.6 .8-.8 .8-.4 .8-.7 .8-1.2 .8,.5 .8-.4 .8-1.3 .7-.6 .8-.8 .8-1.4 .8,.4 .8-.4 .7-.3 .8-1.1 .8-.6 .7-.6 .8-.7 .8-1 .7-.7 .8-.7 .7-.7 .8-.6 .7-.2 .8,.2 .7-1.7 .8-1.2 .7,.5 .8-1.1 .7-1.3 .8-.4 .7-1 .7-.8 .8,.4 .7-1.6 .7-.7 .8,.4 .7-.5 .7-.4 .7-1 .8-1.5 .7-.9 .7-.8 .7-.3 .7-.9 .8-1 .7-1 .7,.6 .7-1.5 .7-.4 .7-1 .8-.4 .7-.3 .7-1.1 .7-.6 .7-.5 .7-1.2 .7-.1 .7-1.1 .7-1.2 .7-.6 .7-.9 .7-.5 .8,.3 .7-.6 .7-.8 .7-1.9 .7-.4 .7,.3 .7-1.1 .7-.6 .7-1 .7-1.1 .7-.9 .7-.4 .7-.5 .7-.4 .7-1.7 .7-1.3 .7-.4 .7-.1 .8-1.3 .7-.1 .7,.2 .7-1.6 .8-.2 .7-.6 .7-.3 .8-.9 .7-1.8 .8-.4 .7-.4 .8-.6 .8,0 .7-1.2 .8-.2 .8-1 .8-.9 .7-.1 .8-1.2 .8-.9 .8-.2 .8-.1 .8-1.1 .7-.9 .8-.3 .8-1.1 .8-.2 .8-1.1 .8-.4 .8-.7 .7,.2 .8-1.1 .8-.9 .8-.4 .8-.8 .7-.1 .8-.4 .8-1.6 .8-.5 .7-.1 .8-1.4 .8,0 .7-.6 .8-.5 .8-.1 .7-.5 .8-1.4 .8-.7 .7-.1 .8-1.2 .8,.3 .7-1.3 .8-1.4 .7-1 .8-.5 .8-.5 .7-.7 .8-.3 .7-.6 .8-.5 .7-.9 .8-.6 .8-.8 .7-.8 .8-.9 .7-.3 .8-.3 .7-1.1 .8-.5 .7-.8 .8-.7 .7-1 .8-.1 .7-.4 .8-1.3 .7-1.1 .8,.2 .7-1.1 .8-.6 .7-.5 .8-.7 .7-.4 .7-.5 .8-.9 .7-.6 .8-.7 .7-.4 .7-.5 .8-.9 .7-.7 .8-.1 .7-1.7 .7-.5 .8-.7 .7-.1 .7-.8 .8-1.5 .7-.9 .7-.2 .7,.1 .8-1 .7-1.1 .7-.9 .8-.8 .7,.1 .7-1 .7-.4 .7-.5 .8-1.3 .7,0 .7-1.5 .7-1.5 .7,0 .8-.1 .7-1.2 .7-.5 .7-.6 .7-1 .7-.6 .7-1.1 .7-.4 .7-.2 .8-.8 .7-.7 .7-.6 .7-.8 .7-.9 .7-.8 .7-.8 .7-1.1 .7,.2 .7-1.2 .7-.4 .7-1 .7-1.5 .6,.1 .7-1.5 .7-.1 .7-1 .7-.1 .7-1.8 .7,0 .7-.5 .7-.8 .6-.7 .7-1.3 .7-.4 .7-.6 .7-.6 .6-.3 .7-1.4 .7-.7 .7-.7 .6-.9 .7-1.1 .7-.6 .7,0 .6-1 .7-1.3 .7,0 .6-.3 .7-.9 .6-.9 .7-.7 .7-.4 .6-1.1 .7-.9 .6-1.2 .7-.6 .7-.7 .6-.5 .7-.8 .6-1.1 .7-.2 .6,.1 .7-1.9 .6-1.3 .7-.8 .6-1.1 .7-.2 .6-.6 .6-.8 .7-.5 .6-.8 .6,0 .7-1.1 .6-1.2 .6-.9 .7-1.4 .6-.6 .6-.9 .6-.9 .7-.6 .6-.8 .6-.5 .6-1.3 .6-.5 .7-.3 .6-.1 .6-1.7 .6-1.4 .6,.1 .6-.8 .6-.7 .6-.8 .6,0 .6-1.4 .6-.9 .6-1.3 .6-.8 .6-1 .5-.6 .6-.4 .6-1 .6-1 .6-.9 .6-.8 .5-.1 .6-.9 .6-1.2 .6-1.1 .6-.9 .5-.4 .6-1.3 .6-.5 .6-.7 .5-1.3 .6-.9 .6-.9 .5-.5 .6-.7 .6-.4 .5-.5 .6-1.8 .6-.3 .5-.7 .6-1.2 .6-.9 .5-1.1 .6-.5 .6-1 .5-.6 .6-1.3 .6-.7 .5-.7 .6-.5 .5-1.3 .6-.9 .6-.3 .5-.9 .6-.8 .5-1.2 .6-.9 .5-.2 .6-.6 .5-.3 .6-1.4 .5-1.5 .6-1.5 .5-.4 .6-.3 .5-1.2 .6-1.2 .5-.3 .5-.2 .6-1.2 .5-1.7 .5-.6 .6-.4 .5-.5 .5-1.1 .5-1.4 .6-.4 .5-.3 .5-.9 .5-1.1 .5-1.5 .5-.9 .5-.1 .5-1.6 .5-.8 .5-.6 .5-1.1 .5-.9 .5-.9 .5-.6 .5-.4 .5-.6 .5-1.6 .5-1.8 .5-.1 .5-.9 .4-.8 .5-1 .5-1 .5-.9 .5-.9 .5-.9 .6-.1 .5-1.3 .5-.5 .5-.7 .5-1.4 .5-.5 .5-.8 .6-.3 .5-1 .5-1.2 .6-1.2 .5-1.3 .6-.4 .6-.9 .5-.2 .6-.9 .6-.7 .6-1.5 .6-.5 .6-1.2 .6-.5 .6-.5 .6-1.5 .6-.4 .6,0 .6-.1 .5-1.9 .6-.7 .6-.9 .5-1.1 .5-1.5 .6-1.1 .5-.4 .5-.2 .5-.9 .5-1.5 .5-1.2 .5-.6 .5,0 .5-.9 .5-1 .5-.8 .5-1.4 .5-.9 .5-1 .4-.7 .5-.8 .5-.7 .4-.9 .5-1.3 .5-.2 .4-.9 .5-1.3 .5-.9 .4-.6 .5-.5 .5-1.5 .5-.7 .4-1 .5-1.7 .5-.2 .4-.8 .5-.5 .5-1.4 .5-1.1 .5-.5 .4-.7 .5,0 .5-1.5 .5-.8 .5-.5 .5-1.9 .5-1 .5-.4 .5-.6 .6-1 .5-.1 .5-.5 .5-1.6 .6-1.2 .5-1.2 .5-.5 .5-1.4 .6-.3 .5-.1 .5-1.5 .6-1.3 .5-.1 .5-.9 .6-1.2 .5,.1 .5-1.2 .6-1 .5-1.5 .5-1.3 .6-.6 .5-.8 .5-.6 .5-1.4 .6-.2 .5-.5 .5-.1 .5-1.5 .6-1.3 .5-1.1 .5-.9 .5-.4 .5-1 .6-1.1 .5-.8 .5-1.2 .5-.5 .5-1.2 .6-.8 .5-.7 .5-.6 .6-.2 .5-1.3 .5-1 .6-1 .5-1.2 .5,.4 .6-1 .5-1.8 .6-.5 .5-.3 .6-.7 .5-1.4 .6-.9 .6-.5 .5-1.1 .6-1.4 .6-.3 .6-1.4 .6-.8 .6,.3 .5-.7 .7-.8 .6-1.5 .6-.5 .6-.8 .6-.9 .7-.8 .6-.8 .7-.7 .1-.1"/>
<path id="gray" d="M1400.0,1556.3l.1-1 .1-1.2 .2-.8 .1-1 .1-1.1 .1-1.1 .2-.9 .1-.9 .1-1 .2-.9 .2-.7 .2-1.1 .5-.9 .8,.7 .6,.8 .4,.9 .5,.6 .5,.9 .5,1 .8,.6 1-.4 .9-.4 .8-.6 .8-.6 .8-.7 .8-.5 .9-.5 .9-.6 .8-.7 .9-.4 .8-.1 .7-1.2 .7-.8 .7-.6 .7-.5 .9-.4 .9,0 .8,.7 .6,.8 .6,.6 .5,.8 .6,.7 .8,.7 .7-.6 .3-1.1 .3-.6 .2-1.1 .2-1.1 .2-.8 .3-1.2 .3-1 .5-.8 .4,.6 .2,.8 .2,1.3 .2,1.1 .1,1 .2,1.1 .1,.9 .2,1.2 .1,.7 .2,.7 .1,1.2 .2,1.2 .4,1.2 .7-.8 .4-1 .3-.9 .3-.6 .3-1.4 .2-.9 .3-.9 .2-1.1 .3-.9 .4-.9 .4-1 .7-.6 .8-.5 .7-.6 .6-1 .3-1 .3-.9 .2-.9 .3-1 .2-.9 .2-.9 .4-1.3 .5,.5 .2,.9 .1,1.1 .1,1 .1,1 .1,1 0,.9 .1,.8 .1,1.3 .1,1 .1,.8 .1,1.2 .1,1 .1,.9 .3,1 .3-.8 .2-1.2 .2-1.1 .1-.7 .1-.8 .1-1.1 .2-1 .1-.9 .1-1 .1-1 .2-1 .1-1 .4-1.1 .5,.8 .3,.8 .3,.7 .2,1.3 .2,1 .3,1.2 .2,.7 .3,1.1 .7,.5 .8-.6 .6-1 .4-.5 .3-1.1 .3-.8 .2-1.1 .1-1.3 0-1 .1-.7 .1-1.1 0-1.1 .1-.7 0-1 .1-1.3 0-1 .1-.7 .1-1.2 .1-.9 .3-1 .5-1.1 .6-.7 .7-.7 .7-.6 .5-1 .4-.8 .2-1 .2-.9 .1-1.2 .2-.9 .1-.8 .1-.9 .2-1 .1-1 .2-1.3 .1-.9 .3-.9 .3-1 .3-.9 .4-1 .4-.8 .3-1.1 .2-1.1 .3-1 .2-.7 .2-1.2 .2-1 .2-1.1 .1-.5 .2-.8 .2-1.4 .1-1.3 .2-.9 .1-.9 .1-.9 .2-.9 .1-1.1 .1-1 .1-.9 .2-.9 .1-1 .1-1.1 .1-1 .2-.9 .1-1.2 .2-.8 .1-1 .2-.9 .2-1.3 .2-.8 .2-1 .2-.8 .2-1.1 .2-1.1 .2-.8 .3-1.1 .2-1.1 .2-1 .2-.9 .3-1 .2-1 .2-.7 .3-.9 .2-.9 .2-.9 .2-1.1 .2-1.2 .2-1.1 .2-1 .1-.8 .2-.8 .1-1.2 .2-.8 .1-.9 .2-1.2 .2-1.1 .1-1 .2-1 .2-1.1 .2-.9 .2-.8 .2-1.4 .3-.7 .2-.5 .2-1 .2-.9 .2-1.6 .2-1.2 .2-.3 .2-1 .2-.9 .2-1.1 .2-1 .2-1.4 .2-1 .2-.5 .1-1 .2-1.2 .2-.7 .2-1.4 .2-1.5 .1-.9 .2-.7 .2-.2 .2-1.6 .2-.8 .1-.7 .2-.9 .2-.7 .2-1.5 .1-.8 .2-1.6 .2-.5 .2-.9 .1-1.7 .2-1.7 .2-.3 .2-.7 .1,0 .2-.6 .2-2.3 .2-.7 .1-1.1 .2-1.2 .2-1.4 .1-.8 .2-.6 .2-1.2 .2-.7 .1-.9 .2-.5 .2-1.1 .1-1.3 .2-1.1 .2-1.3 .1-.5 .2-1.4 .2-.7 .2-1.1 .1-1 .2-.2 .2-1.2 .1-1.2 .2-1.4 .2-1 .2-.9 .1-1.3 .2-1.2 .2-.6 .2-.4 .1-1.7 .2-.9 .2-1.1 .2-.7 .1-.8 .2-1.6 .2-1.3 .2-.3 .2-.8 .2-1 .2-.8 .2-.9 .2-.4 .2-1.4 .2-1.4 .2-1.2 .2-.3 .2-.9 .3-1.7 .2-1.4 .2-1 .2-.3 .3-.6 .2-1.2 .2-1.9 .3-1.1 .2-.3 .2-.8 .3-1 .2-1.1 .2-1.1 .3-.7 .2-1 .3-1.7 .2-.7 .2-.5 .3-1.1 .2-.7 .2-.4 .3-1.9 .2,.2 .2-1.6 .2-1.4 .3-.7 .2-1.6 .2-.7 .2-.8 .2-1.2 .2-.7 .2-1.2 .2-.9 .2-1.5 .2-.4 .2-.5 .2-.6 .2-1.8 .2-.9 .2-1.1 .2-.6 .2-1.8 .2-1 .2-.6 .2-.2 .2-2 .2-.6 .2-.9 .2-.9 .2-1.3 .3-1.5 .2,0 .2-1.5 .2-.9 .2-1.2 .2-.7 .3-.4 .2-1.1 .2-1.5 .2-.9 .3-.7 .2-1.6 .2-.5 .2-.8 .3-1.2 .2-.7 .2-.9 .3-1.2 .2-1.1 .2-1.2 .3-.6 .2-.4 .2-1.1 .3-1.1 .2-1.7 .2-1.4 .2-.2 .3-1.1 .2-.5 .2-1.2 .2-1.2 .3-.7 .2-1.2 .2-1.9 .2,.1 .2-1 .2-.9 .3-1.3 .2-1 .2-.9 .2-.6 .2-.9 .3-1.8 .2-.5 .2-.8 .2-1.1 .3-.6 .2-2 .2-.6 .3-.7 .2-.7 .2-.9 .3-.9 .2-1.6 .3-.5 .2-1.5 .3-.9 .2-.9 .3-.6 .2-1.1 .3-.9 .3-.8 .2-1.3 .3-.6 .3-1 .2-1.9 .3-1 .3-.7 .3-.7 .3-1 .3-.6 .2-1.2 .3-.6 .3-.8 .3-1.8 .4-.7 .3-1 .3-.5 .3-.4 .3-1.9 .4-1 .3,.3 .3-1.9 .4-.8 .3-1.6 .4-.7 .3-.7 .4-1.3 .3-1 .4-.1 .4-1 .4-.5 .4-1.5 .4-1.1 .4-.1 .4-.4 .4-1.2 .4-1.3 .4-.9 .4-1.1 .4-.2 .4-.9 .4-1.8 .4-.4 .3-1.3 .4-1 .3-.7 .4-1.4 .3-.6 .4-.1 .3-1.8 .4-1.7 .3-.6 .4-.7 .3-.4 .3-1.5 .4-.1 .3-1.6 .4-.9 .3,0 .4-.9 .3-1.2 .3-1.4 .4-1 .4-1.3 .3-.1 .4-1.3 .3-1.3 .4-.8 .3-.9 .4-1.1 .4-.8 .4-.9 .3-.6 .4-.7 .5-1.2 .4-1.1 .4-1.8 .4-.3 .5-.8 .4-1.1 .5-.1 .5-1.2 .5-.9 .4-.2 .5-.9 .5-1.3 .5-1.1 .5-.8 .5-1.9 .6,.1 .5-.6 .5-.4 .5-.9 .5-1 .5-.1 .6-1.4 .5-1.2 .5-.8 .5-.1 .6-1.3 .5-2.3 .5-.4 .6-.4 .5-.6 .5-1 .6-1.2 .5-1.1 .6-.5 .5-.5 .6-.3 .5-.6 .6-1.6 .6-1.2 .5-.6 .6-1.7 .6,.2 .5-1.1 .6-.8 .6-1 .6-.6 .6-.6 .6-1 .6-.6 .7-.8 .6-.6 .6-1 .7-.7 .7-.7 .6-.8 .7-1 .7-.5 .6-.7 .7-.7 .6-.9 .7-.6 .6-.7 .7-.9 .6-.7 .6-1.1 .6-.9 .5-.7 .6-.9 .5-.8 .5-.7 .4-.7 .4-1 .5-.9 .4-1 .4-.7 .5-1.1 .5-1.1 .5-.6 .7-.5 .7-.9 .8-.7 .9-.2 .9-.8 .9-.5 .9-.5 .9-.6 .9-.3 .9-.5 .8-.5 .8-.1 .9-.8 .8-.7 .8-.3 .8-.6 .8-.5 .8-.6 .8-.7 .8-.4 .8-.6 .8-.9 .9-.7 .8-.1 .8-.7 .9-.5 .9-.5 .8-.4 .9-.4 .9-1 .9-.4 .9-.3 .8-.3 .9-.7 .8-.6 .9-.4 .8-.7 .7-.5 .8-.5 .7-.7 .6-1.1 .6-1.1 .6-.5 .6-.7 .6-.6 .6-1.2 .7-.6 .6-.8 .7-.7 .7-.6 .7-.7 .9-.6 .8-.5 .9-.6 .8-.5 .9-.3 .9-.8 .9-.3 .9-.1 .9-.5 1-.4 .9-.3 .9-.3 .9-.8 .9-.3 .9-.1 .9-.8 .9-.5 1-.4 .9-.5 .9-.3 .9-.4 .9-.6 .9-.5 .9-.2 .8-.2 .8-.6 .8-1 .6-1 .7-.7 .6-.6 .5-.8 .6-.7 .7-.7 .6-.9 .7-.9 .8-.6 1,0 .4,.6 .2,.9 .2,.9 .1,1.2 .2,1 .1,.9 .1,.8 .2,1 .1,1 .2,1.1 .2,1.3 .5,.4 .9-.6 .8-.4 .7-.5 .8-.7 .8-.7 .8-.5 .9-.5 .8-.6 .8-.7 .8-.7 .8-.5 .8-.4 .8-.6 .8-.7 .8-.5 .8-.8 .8-.6 .8-1 .8-.8 .8-1.1 .8,.7 .8-.2 .8-.7 .8-.7 .8-.7 .8-.7 .8-.9 .8-.3 .7-.7 .8-.8 .8-.7 .8-.8 .8-.4 .8-1 .8-.7 .8-.1 .7,.1 .8-.9 .8-1 .8-.4 .8-.3 .7-.4 .8-1.1 .8-.4 .8-1.1 .8-1.4 .7,.4 .8-.4 .8-1.1 .8-.7 .7-.1 .8-.8 .8-1.5 .8,0 .8,.1 .7-.6 .8-1 .8-.7 .8-1.1 .8-.4 .8-.7 .8-1.1 .8-.6 .8-.4 .8-.3 .8-.5 .8-.1 .8-1.3 .8,.1 .8-.6 .8-1.1 .8-1.2 .8,.1 .8-1.1 .8,.2 .8-1.1 .8-.3 .8-.8 .9,.1 .8-1.5 .7-.5 .8-.9 .8,0 .8-.2 .8-.6 .7-1.5 .8-.5 .7-.6 .8-.5 .7-.4 .7-.4 .7-1.9 .7-.5 .7,.1 .7-.7 .7-.6 .7-1.5 .7-.6 .7-.9 .7-.4 .7-.9 .7-.6 .6-.7 .6-.9 .7-1 .6-.8 .7-.7 .7-.7 .7-.7 .7-.5 .8-.8 .8-.4 .8-.5 .9-.6 1-.4 1-.1 .9,0 1-.1 1-.2 1-.3 1-.4 .9-.3 .9-.7 .8-.3 .9-.2 .8-.4 .7-1.2 .8-.4 .7-.7 .7-.9 .7-1.2 .8-1 .7,.3 .7-.9 .7-.7 .8-.6 .7-1.1 .7-.3 .7-.6 .7-.3 .8-.5 .7-1 .7-.5 .7-.8 .8-.5 .7-1.6 .7-.8 .8-.7 .7-.3 .7-.8 .8-.1 .8-.6 .7-.6 .8-.5 .8-1.2 .8-.9 .7,.5 .8-.2 .8-2.1 .8-1.2 .8-.2 .8,.4 .8-1.4 .8-1 .8-.7 .8,0 .8-.2 .8-.6 .8-1 .8-.3 .8-.3 .8-1.1 .9-1 .8-.2 .8-.8 .8,.2 .8-.8 .8-.1 .9-1.5 .8-.8 .8-.4 .8-.4 .9-.5 .8-.5 .9-.2 .8-.6 .8-.5 .9-.8 .8-1 .9-.5 .8-.4 .8-.2 .9-.9 .8-.9 .9-.1 .8-.3 .9-.6 .8-.1 .8-.7 .9-.9 .8-.2 .9-.6 .8-.5 .8-.5 .9-.7 .8-.3 .8-.6 .8-1 .9-.3 .8-.9 .8-.9 .8-.7 .8-.2 .9-.6 .8-.8 .8,.1 .8-.1 .8-.6 .8-1.3 .8-1.2 .8,.6 .9-.4 .8-.7 .8-1.2 .8-.5 .8-1.6 .9,0 .8-.1 .8-1.1 .8-.4 .9,.4 .8-1.2 .8,.1 .9-.6 .8-1.3 .9-.5 .8,.2 .9-.5 .8-.8 .9-.5 .8-.6 .9-1.6 .8,0 .9-.2 .9-.9 .8,.4 .9-.7 .8-1.1 .9-1 .9-.1 .8-.9 .9-.4 .8-.4 .9,0 .9-.4 .8-.5 .9-.8 .9-.9 .8-.1 .9-.1 .8-.2 .9,.2 .9-1.4 .8-.8 .9-.6 .8-.3 .9-.5 .8-.3 .9-1.5 .9-.6 .8-.4 .9-.6 .8-.5 .9-.3 .9-.6 .8-.1 .9-.1 .8-.5 .9-.2 .8-.8 .9-.5 .8-.8 .9-.8 .8-.1 .9-.2 .8-1.3 .9-.8 .8-.1 .8-.6 .9-.1 .8-.8 .9-.8 .8-1.1 .8,.4 .9-1.2 .8-.5 .8-.3 .8-1.6 .9-.4 .8,.4 .8-.7 .9-.8 .8-.3 .8-.9 .8,.2 .9-1.6 .8-.9 .8,.5 .8-.6 .8-.7 .9-.6 .8-.3 .8-1.2 .8-.2 .9-.1 .8-.3 .8-1.6 .8-.4 .8,.1 .8-1.1 .9-.9 .8-.4 .8-.5 .8-.9 .8-.1 .8-.6 .8-.6 .9-.5 .8-.5 .8-1.1 .8-.5 .8-1.3 .8,.5 .9-.5 .8-.3 .8-.8 .8-.9 .9-.1 .8,.1 .8-1.2 .9-1.5 .8,0 .8,0 .9-.5 .8-.5 .9-.5 .8-1.3 .9-.5 .9-.2 .8-.1 .9-1.6 .8,.2 .9-.4 .9-.2 .8-1.3 .9-1.1 .9-.4 .8-.2 .9-.1 .9,.4 .8-.3 .9-1.1 .8-.9 .9-.9 .8-.6 .9-.1 .8-.7 .9-.5 .8-.8 .8-.3 .9-.2 .8-.7 .8-.5 .8-.9 .8-.8 .9-.1 .8-1.1 .8-.3 .8-.5 .8-1.2 .8-.5 .8-.3 .8-.9 .8-.5 .8-.3 .8-.1 .8-1.1 .8-.6 .8-.9 .8-.4 .8-.3 .8-.4 .8-.3 .8-1.2 .8-.7 .8-.8 .8-.7 .8-.3 .8,.1 .8-1 .8-1 .8-.1 .8-.4 .8-1.2 .8-.9 .8-.9 .8-.4 .7-.6 .8-.3 .8-1.3 .8-.5 .8-.1 .8-.3 .7-.6 .8-.8 .8-1.1 .8-.5 .8-.2 .7-.9 .8-.8 .8-.1 .7-.4 .8-1 .7-.7 .8-.7 .8-.6 .7-1 .8-.6 .7-.5 .8-.7 .7-.6 .7-.9 .8-.8 .7-.5 .8-1 .7-.3 .7-.7 .7-.4 .8-.3 .7-.6 .7-.5 .7-1.5 .8-.9 .7,.1 .7-.7 .7-.8 .7-2.1 .7-.5 .8,.1 .7-.6 .7-.1 .7-1 .7-1.3 .7-.6 .7-1.4 .7-.1 .7-.3 .7-1 .7-1.6 .7-.9 .7-.3 .6-.2 .7-.2 .7-.9 .7-.7 .7-1.1 .7-.6 .6-.8 .7-.2 .7-1.6 .7-.4 .6-.9 .7-.3 .7-.8 .6-.7 .7-1 .7-.9 .7-.9 .6,0 .7-.3 .7-1.9 .6-.5 .7-.9 .7-.4 .6-.8 .7-1.3 .7-.3 .6-.4 .7-.7 .7-1 .6-.9 .7-.7 .7-1.5 .6-1.3 .7,.1 .7-.2 .7-.3 .6-.6 .7-1.5 .7-.5 .6-1.4 .7-.6 .7-.8 .6-.8 .7-1.1 .7-.1 .6-.3 .7-1.6 .7-1.4 .7-.1 .6,.3 .7-1.1 .7-.8 .6-1.1 .7-.9 .7-.5 .7-.4 .7-1.1 .6-.5 .7-1.2 .7-.6 .7-1.2 .7-.6 .7-.9 .6-.4 .7,.2 .7-.8 .7,.2 .7-1.6 .7-1.4 .7-.4 .7,0 .7-1.7 .7-.6 .7-.6 .7-1.1 .7-1 .7-.9 .7,.5 .7-.3 .7-.7 .7-1.4 .7-.6 .7-.9 .8-.6 .7-.8 .7-.6 .7-.3 .7-.8 .7-.8 .7-.6 .8-.4 .7-.7 .7-1.3 .7-1.4 .8,0 .7-.2 .7-.9 .8-1.3 .7-.3 .7-.5 .8-.6 .7-.3 .7-.5 .8-.5 .7-.9 .8-1.3 .7-.7 .7,0 .8-1.3 .7-1 .8-.6 .7-1.3 .8,.3 .7-.8 .8-1.1 .7-.8 .8-.8 .7,.4 .8-1.2 .7-.6 .7-.8 .8-.9 .7,0 .8-.4 .7-1.4 .7-.2 .8-1.1 .7-.6 .8-.3 .7-.9 .7-1.5 .8-.4 .7,0 .7-.9 .8-.8 .7-.6 .7-.7 .7-.9 .8,0 .7-.9 .7-.9 .7-.8 .8-.9 .7-1.1 .7-.5 .7-.8 .8-.5 .7-.4 .7-.1 .7-1.4 .7-1 .7-.2 .8-.8 .7-.3 .7-.6 .7-.4 .7-.3 .7-1.4 .7-.6 .7-.5 .7-1.6 .7-.6 .7,.1 .7-2.1 .7-.6 .7-.4 .7-.4 .7-1.1 .7-.8 .7-.3 .7-1 .7-.7 .7-.2 .7-.1 .7-1.1 .6-1.1 .7-1.1 .7,.1 .7-1.1 .7-.8 .7-1.3 .7-.2 .6,.1 .7-1.3 .7-1.7 .7-.3 .7-.3 .6-1.5 .7,.3 .7-.4 .7-1.5 .6-.8 .7-1 .7-1.1 .7-.9 .6-.7 .7-.3 .7-.6 .6,0 .7-1.1 .7-1 .6-.9 .7-1.2 .7-.5 .6-.4 .7-1.7 .7-.7 .6,.5 .7-.5 .7-1.3 .6-.8 .7-1.1 .6-.6 .7-.7 .7-1.2 .6-.4 .7-.2 .6-1.6 .7-.1 .7-.2 .6-1.4 .7-1.4 .6,.1 .7-1.3 .6-1.2 .7,.1 .7-.6 .6-1.1 .7-.8 .6-.4 .7-1.2 .6-.4 .7-.9 .6-.9 .7-.8 .7-.9 .6-.4 .7-1.3 .6,0 .7-1.8 .6-.2 .7-.3 .6-.8 .7-.6 .6-.2 .6-1.2 .7-.7 .6-.9 .7-.6 .6-1.4 .6-.7 .7-.9 .6-.8 .6-.6 .6-.4 .7-.6 .6-1.3 .6-.1 .6-.9 .6-1.3 .6-1.1 .6-.9 .6-.2 .6-.8 .6-1.3 .6-.4 .6-1.3 .6-.4 .6-.6 .6-.8 .6-1.1 .5-1.4 .6-.4 .6-.8 .6-1.2 .5-.6 .6-1 .6-.7 .5-1.2 .6-.7 .6-.4 .5-.8 .6-.5 .6-1.7 .5-.9 .6-.6 .5-.4 .6-1.2 .6-.8 .5-.8 .6,.4 .5-1.9 .6-.7 .5-1.1 .6-1.2 .5-.6 .6-.3 .5-1.5 .6-1.4 .5-.4 .6,.5 .5-.7 .6-1.5 .5-1.1 .5-1 .6-.9 .5-.5 .6-.6 .5-.6 .5-1.2 .6-.7 .5-1.6 .6-2 .5-.3 .5-.2 .6-.8 .5-1 .5-1 .6-.7 .5-.3 .5-.8 .5-1.2 .6-.9 .5-.2 .5-1 .6,.3 .5-1.6 .5-1.8 .5-.2 .6-.6 .5-1.1 .5-.9 .5-.6 .6-1.2 .5-1 .5-1.2 .5-.3 .5-.9 .6-.8 .5-.7 .5-.4 .5-2 .5-.6 .5-1.2 .6-.6 .5-.5 .5-1.4 .5-.4 .5-.8 .5-1 .5-1 .6-.3 .5-1.3 .5-.8 .5-1 .5-1.3 .5-.4 .5-1.1 .5-.1 .5-1.8 .5-.3 .5-1 .5-1.2 .6-.5 .5-.8 .5-.7 .5-.6 .5-2 .5-.6 .5-.8 .5-.1 .5-2.1 .5-1 .5,.4 .5-.3 .5-1.3 .5-1 .5-1.1 .5-1.4 .5-1 .5-.6 .5-1.7 .6-.1 .5-.5 .5-.5 .5-1.1 .5-1 .5-.8 .5-1.8 .5-.5 .5-.9 .5,.4 .5-.8 .5-1.5 .6-.8 .5-.3 .5-1.9 .5-1.1 .5-.6 .5-.1 .6-1.4 .5-.8 .5-1.2 .5-.2 .6-.5 .5-1.4 .5-.3 .6-1.5 .5-1.6 .6-.8 .5-.7 .6-.7 .5,0 .6-.9 .5-.7 .6-1.3 .6-.7 .6-.3 .5-1.5 .6-.6 .6-1.7 .6,.4 .5-.9 .6-.8 .6-1 .6-1.1 .5,.1 .6-1.2 .5-1.2 .6-.9 .5-.7 .6-.8 .5-1.2 .5,.3 .6-1.3 .5-1 .5-.6 .5-1.6 .5-.6 .5-.7 .5-.9 .5-.9 .5,.1 .5-1.6 .5-.4 .5-.4 .5-2.1 .5-.2 .5-1.2 .5-.8 .5-1.3 .5-.8 .5-.7 .4-1.5 .5-.5 .5-.3 .5-1.4 .5-.9 .5-.8 .4-1.7 .5-.1 .5-.9 .5-.7 .5-1.5 .5-.7 .5-.6 .4-1.4 .5-.4 .5-.8 .5-.9 .5-1.3 .5-.4 .5-.3 .5-1.3 .5-1.1 .5-1 .5-.9 .5-1.1 .5-.3 .5,0 .4-1.1 .5-1.3 .5-1.4 .5-.4 .5-1.1 .5-.5 .5-1 .5-1 .5-1.1 .5-.7 .5-1.2 .5-.9 .5-1 .5-.6 .5-1 .5-1.3 .5-.6 .5,.1 .6-1.1 .5-1.3 .5-1.1 .5-.8 .5-.8 .5-.3 .5-1.3 .5-1 .6-.1 .5-.6 .5-1.4 .5-1.3 .6-.2 .5-.9 .5-1.8 .6-.7 .5-.2 .5-.7 .6-1.2 .6-1.3 .5-.9 .6,.2 .6-1.1 .6-1.6 .6-.5 .6,.2 .6-1.4 .7-.5 .6-.7 .7-.8 .7-1 .7-.5 .7-.8 .1,0"/>
</defs>
<g id="plot1">
<g fill="none" stroke-width="2.95" stroke-linejoin="round" stroke-linecap="butt" shape-rendering="crispEdges">
<g stroke="#000080"><use href="#zno" x="0" y="-0.3"/><use href="#zno" x="0" y="0.3"/></g>
<g stroke="#0000ff"><use href="#blue" x="0" y="-0.3"/><use href="#blue" x="0" y="0.3"/></g>
<g stroke="#ff00ff"><use href="#magenta" x="0" y="-0.3"/><use href="#magenta" x="0" y="0.3"/></g>
<g stroke="#ff0000"><use href="#red" x="0" y="-0.3"/><use href="#red" x="0" y="0.3"/></g>
</g>
<rect x="213" y="64" width="2" height="1560" fill="#000"/>
<rect x="213" y="1622" width="943" height="2" fill="#000"/>
<rect x="215" y="1621.8" width="1.2" height="2" fill="#000"/>
<rect x="215" y="1524.4" width="1.2" height="2" fill="#000"/>
<rect x="215" y="1427.0" width="1.2" height="2" fill="#000"/>
<rect x="215" y="1329.6" width="1.2" height="2" fill="#000"/>
<rect x="215" y="1232.2" width="1.2" height="2" fill="#000"/>
<rect x="215" y="1134.9" width="1.2" height="2" fill="#000"/>
<rect x="215" y="1037.5" width="1.2" height="2" fill="#000"/>
<rect x="215" y="940.1" width="1.2" height="2" fill="#000"/>
<rect x="215" y="842.7" width="1.2" height="2" fill="#000"/>
<rect x="215" y="745.3" width="1.2" height="2" fill="#000"/>
<rect x="215" y="647.9" width="1.2" height="2" fill="#000"/>
<rect x="215" y="550.5" width="1.2" height="2" fill="#000"/>
<rect x="215" y="453.2" width="1.2" height="2" fill="#000"/>
<rect x="215" y="355.8" width="1.2" height="2" fill="#000"/>
<rect x="215" y="258.4" width="1.2" height="2" fill="#000"/>
<rect x="215" y="161.0" width="1.2" height="2" fill="#000"/>
<rect x="215" y="63.6" width="1.2" height="2" fill="#000"/>
<text transform="translate(197.3,1640.9) scale(1,1.04)" font-size="61.6" text-anchor="end">0</text>
<text transform="translate(197.3,1446.0) scale(1,1.04)" font-size="61.6" text-anchor="end">10</text>
<text transform="translate(197.3,1251.2) scale(1,1.04)" font-size="61.6" text-anchor="end">20</text>
<text transform="translate(197.3,1056.3) scale(1,1.04)" font-size="61.6" text-anchor="end">30</text>
<text transform="translate(197.3,861.4) scale(1,1.04)" font-size="61.6" text-anchor="end">40</text>
<text transform="translate(197.3,666.5) scale(1,1.04)" font-size="61.6" text-anchor="end">50</text>
<text transform="translate(197.3,471.7) scale(1,1.04)" font-size="61.6" text-anchor="end">60</text>
<text transform="translate(197.3,276.8) scale(1,1.04)" font-size="61.6" text-anchor="end">70</text>
<text transform="translate(197.3,81.9) scale(1,1.04)" font-size="61.6" text-anchor="end">80</text>
<text transform="translate(318.6,1697.0) scale(1,1.04)" font-size="61.6" text-anchor="middle">400</text>
<text transform="translate(527.6,1697.0) scale(1,1.04)" font-size="61.6" text-anchor="middle">500</text>
<text transform="translate(736.6,1697.0) scale(1,1.04)" font-size="61.6" text-anchor="middle">600</text>
<text transform="translate(945.6,1697.0) scale(1,1.04)" font-size="61.6" text-anchor="middle">700</text>
<text transform="translate(1154.6,1697.0) scale(1,1.04)" font-size="61.6" text-anchor="middle">800</text>
<text transform="translate(684.5,1768.8) scale(1,1.03)" font-size="69.3" text-anchor="middle">Wavelength (nm)</text>
<text transform="translate(103.1,889.0) rotate(-90) scale(1,1.03)" font-size="68.8" text-anchor="middle">Reflectance (%)</text>
<rect x="737.7" y="1235.0" width="129.4" height="4.0" rx="1.2" fill="#000080"/>
<rect x="737.7" y="1304.2" width="129.4" height="4.0" rx="1.2" fill="#0000ff"/>
<rect x="737.7" y="1373.4" width="129.4" height="4.0" rx="1.2" fill="#ff00ff"/>
<rect x="737.7" y="1442.6" width="129.4" height="4.0" rx="1.2" fill="#ff0000"/>
<text transform="translate(879.9,1257.2) scale(1,1.03)" font-size="55.9" text-anchor="start">ZnO</text>
<text transform="translate(879.9,1326.4) scale(1,1.03)" font-size="55.9" text-anchor="start">ZnO:Co 1%</text>
<text transform="translate(879.9,1395.6) scale(1,1.03)" font-size="55.9" text-anchor="start">ZnO:Co 3%</text>
<text transform="translate(879.9,1464.8) scale(1,1.03)" font-size="55.9" text-anchor="start">ZnO:Co 5%</text>
</g>
<g id="plot2">
<g fill="none" stroke-width="2.9" stroke-linejoin="round" stroke-linecap="butt" shape-rendering="crispEdges">
<g stroke="#000000"><use href="#zno" x="1184.7" y="-0.3"/><use href="#zno" x="1184.7" y="0.3"/></g>
<g stroke="#00ff00"><use href="#green" x="0" y="-0.3"/><use href="#green" x="0" y="0.3"/></g>
<g stroke="#960000"><use href="#darkred" x="0" y="-0.3"/><use href="#darkred" x="0" y="0.3"/></g>
<g stroke="#a0a0a0"><use href="#gray" x="0" y="-0.3"/><use href="#gray" x="0" y="0.3"/></g>
</g>
<rect x="1397" y="64" width="3" height="1560" fill="#000"/>
<rect x="1397" y="1622" width="943" height="2" fill="#000"/>
<text transform="translate(1382.4,1640.9) scale(1,1.04)" font-size="61.6" text-anchor="end">0</text>
<text transform="translate(1382.4,1446.0) scale(1,1.04)" font-size="61.6" text-anchor="end">10</text>
<text transform="translate(1382.4,1251.2) scale(1,1.04)" font-size="61.6" text-anchor="end">20</text>
<text transform="translate(1382.4,1056.3) scale(1,1.04)" font-size="61.6" text-anchor="end">30</text>
<text transform="translate(1382.4,861.4) scale(1,1.04)" font-size="61.6" text-anchor="end">40</text>
<text transform="translate(1382.4,666.5) scale(1,1.04)" font-size="61.6" text-anchor="end">50</text>
<text transform="translate(1382.4,471.7) scale(1,1.04)" font-size="61.6" text-anchor="end">60</text>
<text transform="translate(1382.4,276.8) scale(1,1.04)" font-size="61.6" text-anchor="end">70</text>
<text transform="translate(1382.4,81.9) scale(1,1.04)" font-size="61.6" text-anchor="end">80</text>
<text transform="translate(1503.0,1690.0) scale(1,1.04)" font-size="61.6" text-anchor="middle">400</text>
<text transform="translate(1712.3,1690.0) scale(1,1.04)" font-size="61.6" text-anchor="middle">500</text>
<text transform="translate(1921.6,1690.0) scale(1,1.04)" font-size="61.6" text-anchor="middle">600</text>
<text transform="translate(2130.9,1690.0) scale(1,1.04)" font-size="61.6" text-anchor="middle">700</text>
<text transform="translate(2340.2,1690.0) scale(1,1.04)" font-size="61.6" text-anchor="middle">800</text>
<text transform="translate(1869.3,1768.8) scale(1,1.03)" font-size="69.3" text-anchor="middle">Wavelength (nm)</text>
<text transform="translate(1288.3,889.0) rotate(-90) scale(1,1.03)" font-size="68.8" text-anchor="middle">Reflectance (%)</text>
<rect x="1898.2" y="1265.0" width="128.9" height="3.0" rx="1.2" fill="#000000"/>
<rect x="1898.2" y="1334.0" width="128.9" height="3.0" rx="1.2" fill="#00ff00"/>
<rect x="1898.2" y="1403.4" width="128.9" height="3.0" rx="1.2" fill="#960000"/>
<rect x="1898.2" y="1472.4" width="128.9" height="3.0" rx="1.2" fill="#a0a0a0"/>
<text transform="translate(2040.1,1286.2) scale(1,1.03)" font-size="55.9" text-anchor="start">ZnO</text>
<text transform="translate(2040.1,1356.1) scale(1,1.03)" font-size="55.9" text-anchor="start">ZnO:Cu 1%</text>
<text transform="translate(2040.1,1425.1) scale(1,1.03)" font-size="55.9" text-anchor="start">ZnO:Cu 3%</text>
<text transform="translate(2040.1,1494.1) scale(1,1.03)" font-size="55.9" text-anchor="start">ZnO:Cu 5%</text>
</g>
</svg></body></html>
